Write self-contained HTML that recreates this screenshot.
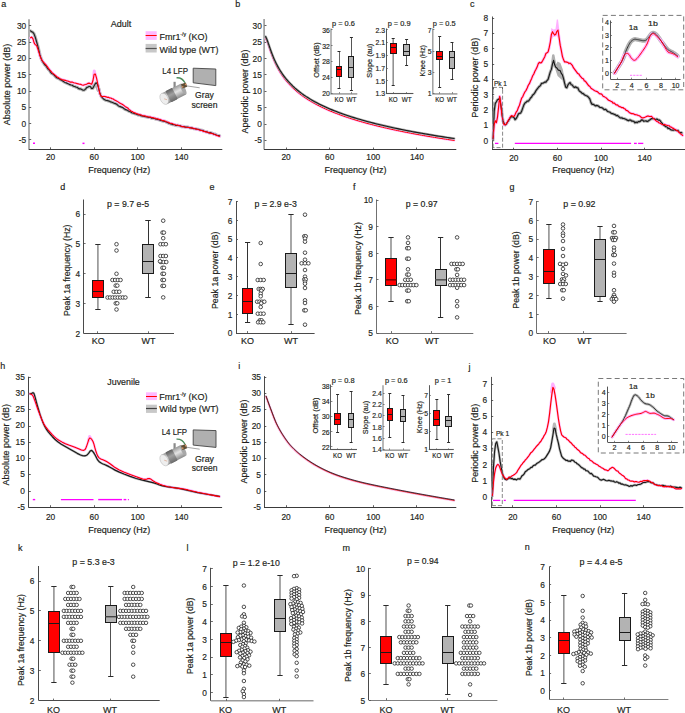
<!DOCTYPE html>
<html><head><meta charset="utf-8"><style>
html,body{margin:0;padding:0;background:#fff;}
svg{display:block;}
text{font-family:"Liberation Sans", sans-serif;stroke:#231f20;stroke-width:0.18px;}
</style></head><body>
<svg width="685" height="713" viewBox="0 0 685 713">
<rect x="0" y="0" width="685" height="713" fill="#fff"/>
<text x="1.3" y="7" font-size="9" text-anchor="start" fill="#231f20" textLength="5" lengthAdjust="spacingAndGlyphs">a</text>
<line x1="29" y1="19.3" x2="29" y2="149.3" stroke="#9a9a9a" stroke-width="1.6"/>
<line x1="29.2" y1="25.5" x2="31.2" y2="25.5" stroke="#3a3a3a" stroke-width="0.8"/>
<text x="26.2" y="28.7" font-size="9.54" text-anchor="end" fill="#231f20" textLength="9.31" lengthAdjust="spacingAndGlyphs">30</text>
<line x1="29.2" y1="42.5" x2="31.2" y2="42.5" stroke="#3a3a3a" stroke-width="0.8"/>
<text x="26.2" y="45" font-size="9.54" text-anchor="end" fill="#231f20" textLength="9.31" lengthAdjust="spacingAndGlyphs">25</text>
<line x1="29.2" y1="58.5" x2="31.2" y2="58.5" stroke="#3a3a3a" stroke-width="0.8"/>
<text x="26.2" y="61.3" font-size="9.54" text-anchor="end" fill="#231f20" textLength="9.31" lengthAdjust="spacingAndGlyphs">20</text>
<line x1="29.2" y1="74.5" x2="31.2" y2="74.5" stroke="#3a3a3a" stroke-width="0.8"/>
<text x="26.2" y="77.6" font-size="9.54" text-anchor="end" fill="#231f20" textLength="9.31" lengthAdjust="spacingAndGlyphs">15</text>
<line x1="29.2" y1="91.5" x2="31.2" y2="91.5" stroke="#3a3a3a" stroke-width="0.8"/>
<text x="26.2" y="93.9" font-size="9.54" text-anchor="end" fill="#231f20" textLength="9.31" lengthAdjust="spacingAndGlyphs">10</text>
<line x1="29.2" y1="107.5" x2="31.2" y2="107.5" stroke="#3a3a3a" stroke-width="0.8"/>
<text x="26.2" y="110.2" font-size="9.54" text-anchor="end" fill="#231f20" textLength="4.65" lengthAdjust="spacingAndGlyphs">5</text>
<line x1="29.2" y1="123.5" x2="31.2" y2="123.5" stroke="#3a3a3a" stroke-width="0.8"/>
<text x="26.2" y="126.5" font-size="9.54" text-anchor="end" fill="#231f20" textLength="4.65" lengthAdjust="spacingAndGlyphs">0</text>
<line x1="29.2" y1="139.5" x2="31.2" y2="139.5" stroke="#3a3a3a" stroke-width="0.8"/>
<text x="26.2" y="142.8" font-size="9.54" text-anchor="end" fill="#231f20" textLength="7.44" lengthAdjust="spacingAndGlyphs">-5</text>
<line x1="28.7" y1="149.5" x2="222.3" y2="149.5" stroke="#3a3a3a" stroke-width="1"/>
<line x1="50.5" y1="149.3" x2="50.5" y2="147.3" stroke="#3a3a3a" stroke-width="0.8"/>
<text x="50.6" y="160.1" font-size="9.54" text-anchor="middle" fill="#231f20" textLength="9.31" lengthAdjust="spacingAndGlyphs">20</text>
<line x1="94.5" y1="149.3" x2="94.5" y2="147.3" stroke="#3a3a3a" stroke-width="0.8"/>
<text x="94.2" y="160.1" font-size="9.54" text-anchor="middle" fill="#231f20" textLength="9.31" lengthAdjust="spacingAndGlyphs">60</text>
<line x1="137.5" y1="149.3" x2="137.5" y2="147.3" stroke="#3a3a3a" stroke-width="0.8"/>
<text x="137.8" y="160.1" font-size="9.54" text-anchor="middle" fill="#231f20" textLength="13.96" lengthAdjust="spacingAndGlyphs">100</text>
<line x1="181.5" y1="149.3" x2="181.5" y2="147.3" stroke="#3a3a3a" stroke-width="0.8"/>
<text x="181.4" y="160.1" font-size="9.54" text-anchor="middle" fill="#231f20" textLength="13.96" lengthAdjust="spacingAndGlyphs">140</text>
<text x="119.2" y="172.6" font-size="9" text-anchor="middle" fill="#231f20" textLength="62.01" lengthAdjust="spacingAndGlyphs">Frequency (Hz)</text>
<text transform="translate(9.6 84.5) rotate(-90)" x="0" y="0" font-size="9" text-anchor="middle" fill="#231f20" textLength="81.54" lengthAdjust="spacingAndGlyphs">Absolute power (dB)</text>
<polyline points="30.3,30.84 31.5,31.62 32.7,32.22 33.9,33.59 35.1,36.67 36.3,40.77 37.5,45.02 38.7,49.53 39.9,54.7 41.1,58.37 42.3,61.25 43.5,62.83 44.7,64.73 45.9,65.77 47.1,67.62 48.3,69.32 49.5,70.44 50.7,72.32 51.9,73.58 53.1,74.17 54.3,75.25 55.5,76.57 56.7,77.72 57.9,78.13 59.1,78.78 60.3,79.65 61.5,80.09 62.7,80.93 63.9,81.78 65.1,82.48 66.3,82.89 67.5,83.44 68.7,83.96 69.9,84.63 71.1,84.99 72.3,85.25 73.5,86.27 74.7,86.53 75.9,87.06 77.1,87.26 78.3,88.4 79.5,88.89 80.7,88.93 81.9,89.59 83.1,90.2 84.3,90.11 85.5,89.14 86.7,87.57 87.9,87.12 89.1,86.45 90.3,86.54 91.5,88.33 92.7,88.43 93.9,86.27 95.1,84.02 96.3,82.77 97.5,84.53 98.7,88.42 99.9,93.32 101.1,96.19 102.3,97.7 103.5,98.96 104.7,99.79 105.9,100.31 107.1,100.5 108.3,100.91 109.5,101.32 110.7,101.92 111.9,102.22 113.1,102.67 114.3,103.32 115.5,103.62 116.7,104.26 117.9,105.37 119.1,106.22 120.3,106.6 121.5,107.11 122.7,107.59 123.9,108.44 125.1,109.39 126.3,109.85 127.5,110.33 128.7,111.21 129.9,111.41 131.1,112.19 132.3,113.03 133.5,113.24 134.7,113.6 135.9,113.87 137.1,114.43 138.3,115.07 139.5,114.72 140.7,115.58 141.9,115.9 143.1,116.24 144.3,116.43 145.5,116.76 146.7,116.84 147.9,117.15 149.1,117.33 150.3,117.35 151.5,118.2 152.7,118.27 153.9,118.31 155.1,118.82 156.3,119.11 157.5,119.33 158.7,119.65 159.9,120.14 161.1,120.56 162.3,120.93 163.5,121.22 164.7,121.32 165.9,121.87 167.1,122.25 168.3,122.95 169.5,123.56 170.7,123.91 171.9,124.29 173.1,124.67 174.3,124.62 175.5,125.35 176.7,125.54 177.9,125.4 179.1,125.61 180.3,125.84 181.5,126.59 182.7,126.45 183.9,126.56 185.1,127.12 186.3,127.13 187.5,127.13 188.7,127.4 189.9,127.86 191.1,127.83 192.3,128.12 193.5,128.67 194.7,128.73 195.9,128.91 197.1,129.28 198.3,129.27 199.5,129.83 200.7,130.18 201.9,130.34 203.1,130.62 204.3,131.51 205.5,131.59 206.7,131.72 207.9,132.35 209.1,132.86 210.3,132.66 211.5,133.02 212.7,133.47 213.9,134.23 215.1,134.21 216.3,134.95 217.5,135.3 218.7,135.56 219.6,135.8" fill="none" stroke="#b5b5b5" stroke-width="3.2" stroke-linejoin="round" stroke-linecap="round"/>
<polyline points="94,86 96.5,84 98.5,90" fill="none" stroke="#b5b5b5" stroke-width="4" stroke-linejoin="round" stroke-linecap="round"/>
<polyline points="30.5,37.77 31.7,37.05 32.9,38.55 34.1,42.83 35.3,44.68 36.5,45.27 37.7,48.51 38.9,52.37 40.1,56.29 41.3,59.13 42.5,61.06 43.7,62.29 44.9,63.74 46.1,65 47.3,66.64 48.5,68.35 49.7,69.89 50.9,71.18 52.1,72.55 53.3,73.72 54.5,74.67 55.7,75.63 56.9,76.76 58.1,77.45 59.3,78.17 60.5,79.07 61.7,79.39 62.9,79.9 64.1,80.12 65.3,80.36 66.5,80.86 67.7,81.05 68.9,81.55 70.1,82.1 71.3,82.16 72.5,82.12 73.7,82.8 74.9,83 76.1,83.24 77.3,83.66 78.5,83.91 79.7,84.28 80.9,84.38 82.1,85.07 83.3,85.26 84.5,84.74 85.7,84.56 86.9,83.98 88.1,83.35 89.3,83.13 90.5,83.7 91.7,84.26 92.9,80.8 94.1,74.38 95.3,73.95 96.5,77.93 97.7,83.7 98.9,89.65 100.1,94.25 101.3,96.39 102.5,96.59 103.7,96.42 104.9,96.52 106.1,96.88 107.3,97.34 108.5,97.26 109.7,97.99 110.9,97.98 112.1,98.83 113.3,99.04 114.5,100.05 115.7,100.57 116.9,101.15 118.1,101.88 119.3,102.7 120.5,103.41 121.7,104 122.9,104.69 124.1,105.64 125.3,106.67 126.5,107.31 127.7,107.92 128.9,109.36 130.1,110.28 131.3,111.29 132.5,111.65 133.7,112.65 134.9,112.81 136.1,113.69 137.3,113.87 138.5,114.25 139.7,114.98 140.9,114.85 142.1,115.4 143.3,115.89 144.5,115.81 145.7,116.06 146.9,116.73 148.1,116.72 149.3,117.15 150.5,117.01 151.7,117.47 152.9,117.62 154.1,118.2 155.3,118.12 156.5,118.95 157.7,118.7 158.9,119.46 160.1,119.39 161.3,119.91 162.5,120.64 163.7,120.65 164.9,121.08 166.1,121.81 167.3,122.06 168.5,122.28 169.7,123.28 170.9,123.18 172.1,123.51 173.3,124.07 174.5,124.59 175.7,125.01 176.9,124.94 178.1,125.36 179.3,125.45 180.5,125.95 181.7,126.38 182.9,126.59 184.1,126.91 185.3,127.04 186.5,127.32 187.7,127.44 188.9,127.52 190.1,127.6 191.3,128.09 192.5,128.13 193.7,128.26 194.9,128.74 196.1,129.28 197.3,129.13 198.5,129.74 199.7,129.95 200.9,130.37 202.1,130.5 203.3,131.35 204.5,131.3 205.7,131.88 206.9,132.14 208.1,132.28 209.3,132.99 210.5,133.13 211.7,133.47 212.9,133.84 214.1,134.31 215.3,134.66 216.5,135.38 217.7,135.7 218.9,136.37 219.6,136.3" fill="none" stroke="#ffb0ff" stroke-width="2.6" stroke-linejoin="round" stroke-linecap="round"/>
<polyline points="93.8,76 94.3,71 95,76" fill="none" stroke="#ffb0ff" stroke-width="3" stroke-linejoin="round" stroke-linecap="round"/>
<polyline points="30.3,30.84 31.5,31.62 32.7,32.22 33.9,33.59 35.1,36.67 36.3,40.77 37.5,45.02 38.7,49.53 39.9,54.7 41.1,58.37 42.3,61.25 43.5,62.83 44.7,64.73 45.9,65.77 47.1,67.62 48.3,69.32 49.5,70.44 50.7,72.32 51.9,73.58 53.1,74.17 54.3,75.25 55.5,76.57 56.7,77.72 57.9,78.13 59.1,78.78 60.3,79.65 61.5,80.09 62.7,80.93 63.9,81.78 65.1,82.48 66.3,82.89 67.5,83.44 68.7,83.96 69.9,84.63 71.1,84.99 72.3,85.25 73.5,86.27 74.7,86.53 75.9,87.06 77.1,87.26 78.3,88.4 79.5,88.89 80.7,88.93 81.9,89.59 83.1,90.2 84.3,90.11 85.5,89.14 86.7,87.57 87.9,87.12 89.1,86.45 90.3,86.54 91.5,88.33 92.7,88.43 93.9,86.27 95.1,84.02 96.3,82.77 97.5,84.53 98.7,88.42 99.9,93.32 101.1,96.19 102.3,97.7 103.5,98.96 104.7,99.79 105.9,100.31 107.1,100.5 108.3,100.91 109.5,101.32 110.7,101.92 111.9,102.22 113.1,102.67 114.3,103.32 115.5,103.62 116.7,104.26 117.9,105.37 119.1,106.22 120.3,106.6 121.5,107.11 122.7,107.59 123.9,108.44 125.1,109.39 126.3,109.85 127.5,110.33 128.7,111.21 129.9,111.41 131.1,112.19 132.3,113.03 133.5,113.24 134.7,113.6 135.9,113.87 137.1,114.43 138.3,115.07 139.5,114.72 140.7,115.58 141.9,115.9 143.1,116.24 144.3,116.43 145.5,116.76 146.7,116.84 147.9,117.15 149.1,117.33 150.3,117.35 151.5,118.2 152.7,118.27 153.9,118.31 155.1,118.82 156.3,119.11 157.5,119.33 158.7,119.65 159.9,120.14 161.1,120.56 162.3,120.93 163.5,121.22 164.7,121.32 165.9,121.87 167.1,122.25 168.3,122.95 169.5,123.56 170.7,123.91 171.9,124.29 173.1,124.67 174.3,124.62 175.5,125.35 176.7,125.54 177.9,125.4 179.1,125.61 180.3,125.84 181.5,126.59 182.7,126.45 183.9,126.56 185.1,127.12 186.3,127.13 187.5,127.13 188.7,127.4 189.9,127.86 191.1,127.83 192.3,128.12 193.5,128.67 194.7,128.73 195.9,128.91 197.1,129.28 198.3,129.27 199.5,129.83 200.7,130.18 201.9,130.34 203.1,130.62 204.3,131.51 205.5,131.59 206.7,131.72 207.9,132.35 209.1,132.86 210.3,132.66 211.5,133.02 212.7,133.47 213.9,134.23 215.1,134.21 216.3,134.95 217.5,135.3 218.7,135.56 219.6,135.8" fill="none" stroke="#222" stroke-width="1.15" stroke-linejoin="round" stroke-linecap="round"/>
<polyline points="30.5,37.77 31.7,37.05 32.9,38.55 34.1,42.83 35.3,44.68 36.5,45.27 37.7,48.51 38.9,52.37 40.1,56.29 41.3,59.13 42.5,61.06 43.7,62.29 44.9,63.74 46.1,65 47.3,66.64 48.5,68.35 49.7,69.89 50.9,71.18 52.1,72.55 53.3,73.72 54.5,74.67 55.7,75.63 56.9,76.76 58.1,77.45 59.3,78.17 60.5,79.07 61.7,79.39 62.9,79.9 64.1,80.12 65.3,80.36 66.5,80.86 67.7,81.05 68.9,81.55 70.1,82.1 71.3,82.16 72.5,82.12 73.7,82.8 74.9,83 76.1,83.24 77.3,83.66 78.5,83.91 79.7,84.28 80.9,84.38 82.1,85.07 83.3,85.26 84.5,84.74 85.7,84.56 86.9,83.98 88.1,83.35 89.3,83.13 90.5,83.7 91.7,84.26 92.9,80.8 94.1,74.38 95.3,73.95 96.5,77.93 97.7,83.7 98.9,89.65 100.1,94.25 101.3,96.39 102.5,96.59 103.7,96.42 104.9,96.52 106.1,96.88 107.3,97.34 108.5,97.26 109.7,97.99 110.9,97.98 112.1,98.83 113.3,99.04 114.5,100.05 115.7,100.57 116.9,101.15 118.1,101.88 119.3,102.7 120.5,103.41 121.7,104 122.9,104.69 124.1,105.64 125.3,106.67 126.5,107.31 127.7,107.92 128.9,109.36 130.1,110.28 131.3,111.29 132.5,111.65 133.7,112.65 134.9,112.81 136.1,113.69 137.3,113.87 138.5,114.25 139.7,114.98 140.9,114.85 142.1,115.4 143.3,115.89 144.5,115.81 145.7,116.06 146.9,116.73 148.1,116.72 149.3,117.15 150.5,117.01 151.7,117.47 152.9,117.62 154.1,118.2 155.3,118.12 156.5,118.95 157.7,118.7 158.9,119.46 160.1,119.39 161.3,119.91 162.5,120.64 163.7,120.65 164.9,121.08 166.1,121.81 167.3,122.06 168.5,122.28 169.7,123.28 170.9,123.18 172.1,123.51 173.3,124.07 174.5,124.59 175.7,125.01 176.9,124.94 178.1,125.36 179.3,125.45 180.5,125.95 181.7,126.38 182.9,126.59 184.1,126.91 185.3,127.04 186.5,127.32 187.7,127.44 188.9,127.52 190.1,127.6 191.3,128.09 192.5,128.13 193.7,128.26 194.9,128.74 196.1,129.28 197.3,129.13 198.5,129.74 199.7,129.95 200.9,130.37 202.1,130.5 203.3,131.35 204.5,131.3 205.7,131.88 206.9,132.14 208.1,132.28 209.3,132.99 210.5,133.13 211.7,133.47 212.9,133.84 214.1,134.31 215.3,134.66 216.5,135.38 217.7,135.7 218.9,136.37 219.6,136.3" fill="none" stroke="#ff0000" stroke-width="1.1" stroke-linejoin="round" stroke-linecap="round"/>
<rect x="33" y="142.5" width="2" height="1.5" fill="#ff00ff" stroke="none" stroke-width="1"/>
<rect x="82.5" y="142.6" width="2" height="1.5" fill="#ff00ff" stroke="none" stroke-width="1"/>
<text x="110.8" y="27" font-size="9" text-anchor="start" fill="#231f20" textLength="20.51" lengthAdjust="spacingAndGlyphs">Adult</text>
<rect x="145.6" y="31.2" width="11.1" height="8.7" fill="#ffb8ff" stroke="none" stroke-width="1"/>
<line x1="145.6" y1="35.5" x2="156.7" y2="35.5" stroke="#ff0000" stroke-width="1"/>
<rect x="145.6" y="43.9" width="11.1" height="8.6" fill="#c8c8c8" stroke="none" stroke-width="1"/>
<line x1="145.6" y1="48.5" x2="156.7" y2="48.5" stroke="#555" stroke-width="1.2"/>
<text x="159.6" y="39.5" font-size="9" text-anchor="start" fill="#231f20" textLength="21" lengthAdjust="spacingAndGlyphs">Fmr1</text>
<text x="180.3" y="36.2" font-size="5.2" text-anchor="start" fill="#231f20" textLength="5.78" lengthAdjust="spacingAndGlyphs">-/y</text>
<text x="188.6" y="39.5" font-size="9" text-anchor="start" fill="#231f20" textLength="19" lengthAdjust="spacingAndGlyphs">(KO)</text>
<text x="159.6" y="52.5" font-size="9" text-anchor="start" fill="#231f20" textLength="58.8" lengthAdjust="spacingAndGlyphs">Wild type (WT)</text>
<text x="162.3" y="73.5" font-size="9" text-anchor="start" fill="#231f20" textLength="25.7" lengthAdjust="spacingAndGlyphs">L4 LFP</text>
<path d="M193.2 68.2 L215.8 69 L215.8 85.6 L193.2 82.8 Z" fill="#b0b0b0" stroke="#444" stroke-width="0.9"/>
<text x="204.4" y="98" font-size="9" text-anchor="middle" fill="#231f20" textLength="18.7" lengthAdjust="spacingAndGlyphs">Gray</text>
<text x="204.5" y="107.9" font-size="9" text-anchor="middle" fill="#231f20" textLength="26" lengthAdjust="spacingAndGlyphs">screen</text>
<defs><linearGradient id="cyla" x1="0" y1="0" x2="0" y2="1"><stop offset="0" stop-color="#9a9a9a"/><stop offset="0.45" stop-color="#e4e4e4"/><stop offset="1" stop-color="#8a8a8a"/></linearGradient><linearGradient id="cylba" x1="0" y1="0" x2="0" y2="1"><stop offset="0" stop-color="#606060"/><stop offset="0.45" stop-color="#a0a0a0"/><stop offset="1" stop-color="#6a6a6a"/></linearGradient></defs>
<rect x="173.5" y="81.8" width="2.2" height="8" fill="#8a8a8a"/>
<path d="M176.5 77.8 q5.5 -0.5 8.5 5" stroke="#4a8a5a" stroke-width="1.3" fill="none"/>
<g transform="translate(164.2 98.8) rotate(-27)">
<rect x="0" y="-6" width="21.5" height="12" fill="url(#cyla)"/>
<rect x="4.5" y="-6.3" width="7.5" height="12.6" rx="1" fill="url(#cylba)"/>
<ellipse cx="21.5" cy="0" rx="2" ry="6" fill="#a8a8a8"/>
<ellipse cx="0" cy="0" rx="3.8" ry="6" fill="#eeeeee" stroke="#b8b8b8" stroke-width="0.5"/>
<line x1="0" y1="0" x2="2.2" y2="2.2" stroke="#d09070" stroke-width="0.5"/>
</g>
<rect x="181.7" y="83.3" width="5" height="4.5" fill="#5e4e36" transform="rotate(-20 184.2 85.8)"/>
<circle cx="182.7" cy="86.8" r="0.9" fill="#d09060"/>
<circle cx="185.7" cy="84.3" r="0.9" fill="#d09060"/>
<line x1="186.2" y1="85.8" x2="199.7" y2="87.8" stroke="#666" stroke-width="0.6"/>
<text x="235.2" y="6.6" font-size="9" text-anchor="start" fill="#231f20" textLength="5" lengthAdjust="spacingAndGlyphs">b</text>
<line x1="264.1" y1="19" x2="264.1" y2="149.5" stroke="#9a9a9a" stroke-width="1.6"/>
<line x1="264.5" y1="25.5" x2="266.5" y2="25.5" stroke="#3a3a3a" stroke-width="0.8"/>
<text x="261.9" y="28.8" font-size="9.54" text-anchor="end" fill="#231f20" textLength="9.31" lengthAdjust="spacingAndGlyphs">30</text>
<line x1="264.5" y1="42.5" x2="266.5" y2="42.5" stroke="#3a3a3a" stroke-width="0.8"/>
<text x="261.9" y="45.15" font-size="9.54" text-anchor="end" fill="#231f20" textLength="9.31" lengthAdjust="spacingAndGlyphs">25</text>
<line x1="264.5" y1="58.5" x2="266.5" y2="58.5" stroke="#3a3a3a" stroke-width="0.8"/>
<text x="261.9" y="61.5" font-size="9.54" text-anchor="end" fill="#231f20" textLength="9.31" lengthAdjust="spacingAndGlyphs">20</text>
<line x1="264.5" y1="74.5" x2="266.5" y2="74.5" stroke="#3a3a3a" stroke-width="0.8"/>
<text x="261.9" y="77.85" font-size="9.54" text-anchor="end" fill="#231f20" textLength="9.31" lengthAdjust="spacingAndGlyphs">15</text>
<line x1="264.5" y1="91.5" x2="266.5" y2="91.5" stroke="#3a3a3a" stroke-width="0.8"/>
<text x="261.9" y="94.2" font-size="9.54" text-anchor="end" fill="#231f20" textLength="9.31" lengthAdjust="spacingAndGlyphs">10</text>
<line x1="264.5" y1="107.5" x2="266.5" y2="107.5" stroke="#3a3a3a" stroke-width="0.8"/>
<text x="261.9" y="110.55" font-size="9.54" text-anchor="end" fill="#231f20" textLength="4.65" lengthAdjust="spacingAndGlyphs">5</text>
<line x1="264.5" y1="124.5" x2="266.5" y2="124.5" stroke="#3a3a3a" stroke-width="0.8"/>
<text x="261.9" y="126.9" font-size="9.54" text-anchor="end" fill="#231f20" textLength="4.65" lengthAdjust="spacingAndGlyphs">0</text>
<line x1="264.5" y1="140.5" x2="266.5" y2="140.5" stroke="#3a3a3a" stroke-width="0.8"/>
<text x="261.9" y="143.25" font-size="9.54" text-anchor="end" fill="#231f20" textLength="7.44" lengthAdjust="spacingAndGlyphs">-5</text>
<line x1="264" y1="149.5" x2="456.3" y2="149.5" stroke="#3a3a3a" stroke-width="1"/>
<line x1="286.5" y1="149.5" x2="286.5" y2="147.5" stroke="#3a3a3a" stroke-width="0.8"/>
<text x="286.1" y="160.3" font-size="9.54" text-anchor="middle" fill="#231f20" textLength="9.31" lengthAdjust="spacingAndGlyphs">20</text>
<line x1="329.5" y1="149.5" x2="329.5" y2="147.5" stroke="#3a3a3a" stroke-width="0.8"/>
<text x="329.7" y="160.3" font-size="9.54" text-anchor="middle" fill="#231f20" textLength="9.31" lengthAdjust="spacingAndGlyphs">60</text>
<line x1="373.5" y1="149.5" x2="373.5" y2="147.5" stroke="#3a3a3a" stroke-width="0.8"/>
<text x="373.3" y="160.3" font-size="9.54" text-anchor="middle" fill="#231f20" textLength="13.96" lengthAdjust="spacingAndGlyphs">100</text>
<line x1="416.5" y1="149.5" x2="416.5" y2="147.5" stroke="#3a3a3a" stroke-width="0.8"/>
<text x="416.9" y="160.3" font-size="9.54" text-anchor="middle" fill="#231f20" textLength="13.96" lengthAdjust="spacingAndGlyphs">140</text>
<text x="355.6" y="172.6" font-size="9" text-anchor="middle" fill="#231f20" textLength="62.01" lengthAdjust="spacingAndGlyphs">Frequency (Hz)</text>
<text transform="translate(247.8 91.5) rotate(-90)" x="0" y="0" font-size="9" text-anchor="middle" fill="#231f20" textLength="84.03" lengthAdjust="spacingAndGlyphs">Aperiodic power (dB)</text>
<polyline points="265.61,38.53 266.15,39.53 266.7,40.76 267.24,42.15 267.79,43.66 268.33,45.23 268.88,46.83 269.42,48.44 269.97,50.03 270.51,51.59 271.06,53.11 271.6,54.6 272.15,56.03 272.69,57.42 273.24,58.77 273.78,60.07 274.33,61.33 274.87,62.54 275.42,63.71 275.96,64.84 276.51,65.94 277.05,67 277.6,68.03 278.14,69.02 278.69,69.99 279.23,70.92 279.78,71.83 280.32,72.71 280.87,73.57 281.41,74.4 281.96,75.21 282.5,76 283.05,76.77 283.59,77.52 284.14,78.26 284.68,78.97 285.23,79.67 285.77,80.35 286.32,81.02 288.5,83.54 290.68,85.86 292.86,88 295.04,90 297.22,91.87 299.4,93.62 301.58,95.27 303.76,96.83 305.94,98.31 308.12,99.71 310.3,101.05 312.48,102.33 314.66,103.55 316.84,104.72 319.02,105.85 321.2,106.93 323.38,107.97 325.56,108.97 327.74,109.94 329.92,110.88 332.1,111.78 334.28,112.66 336.46,113.51 338.64,114.34 340.82,115.14 343,115.92 345.18,116.68 347.36,117.42 349.54,118.14 351.72,118.84 353.9,119.53 356.08,120.2 358.26,120.85 360.44,121.49 362.62,122.11 364.8,122.72 366.98,123.32 369.16,123.9 371.34,124.48 373.52,125.04 375.7,125.59 377.88,126.13 380.06,126.66 382.24,127.18 384.42,127.69 386.6,128.19 388.78,128.68 390.96,129.16 393.14,129.64 395.32,130.1 397.5,130.56 399.68,131.02 401.86,131.46 404.04,131.9 406.22,132.33 408.4,132.75 410.58,133.17 412.76,133.59 414.94,133.99 417.12,134.39 419.3,134.79 421.48,135.18 423.66,135.56 425.84,135.94 428.02,136.31 430.2,136.68 432.38,137.04 434.56,137.4 436.74,137.76 438.92,138.11 441.1,138.45 443.28,138.79 445.46,139.13 447.64,139.47 449.82,139.8 452,140.12 454.18,140.44" fill="none" stroke="#ffb0ff" stroke-width="2.2" stroke-linejoin="round" stroke-linecap="round"/>
<polyline points="265.61,38.53 266.15,39.53 266.7,40.76 267.24,42.15 267.79,43.66 268.33,45.23 268.88,46.83 269.42,48.44 269.97,50.03 270.51,51.59 271.06,53.11 271.6,54.6 272.15,56.03 272.69,57.42 273.24,58.77 273.78,60.07 274.33,61.33 274.87,62.54 275.42,63.71 275.96,64.84 276.51,65.94 277.05,67 277.6,68.03 278.14,69.02 278.69,69.99 279.23,70.92 279.78,71.83 280.32,72.71 280.87,73.57 281.41,74.4 281.96,75.21 282.5,76 283.05,76.77 283.59,77.52 284.14,78.26 284.68,78.97 285.23,79.67 285.77,80.35 286.32,81.02 288.5,83.54 290.68,85.86 292.86,88 295.04,90 297.22,91.87 299.4,93.62 301.58,95.27 303.76,96.83 305.94,98.31 308.12,99.71 310.3,101.05 312.48,102.33 314.66,103.55 316.84,104.72 319.02,105.85 321.2,106.93 323.38,107.97 325.56,108.97 327.74,109.94 329.92,110.88 332.1,111.78 334.28,112.66 336.46,113.51 338.64,114.34 340.82,115.14 343,115.92 345.18,116.68 347.36,117.42 349.54,118.14 351.72,118.84 353.9,119.53 356.08,120.2 358.26,120.85 360.44,121.49 362.62,122.11 364.8,122.72 366.98,123.32 369.16,123.9 371.34,124.48 373.52,125.04 375.7,125.59 377.88,126.13 380.06,126.66 382.24,127.18 384.42,127.69 386.6,128.19 388.78,128.68 390.96,129.16 393.14,129.64 395.32,130.1 397.5,130.56 399.68,131.02 401.86,131.46 404.04,131.9 406.22,132.33 408.4,132.75 410.58,133.17 412.76,133.59 414.94,133.99 417.12,134.39 419.3,134.79 421.48,135.18 423.66,135.56 425.84,135.94 428.02,136.31 430.2,136.68 432.38,137.04 434.56,137.4 436.74,137.76 438.92,138.11 441.1,138.45 443.28,138.79 445.46,139.13 447.64,139.47 449.82,139.8 452,140.12 454.18,140.44" fill="none" stroke="#ff0000" stroke-width="1" stroke-linejoin="round" stroke-linecap="round"/>
<polyline points="265.61,36.63 266.15,37.63 266.7,38.86 267.24,40.25 267.79,41.76 268.33,43.33 268.88,44.93 269.42,46.54 269.97,48.13 270.51,49.69 271.06,51.21 271.6,52.7 272.15,54.13 272.69,55.52 273.24,56.87 273.78,58.17 274.33,59.43 274.87,60.64 275.42,61.81 275.96,62.94 276.51,64.04 277.05,65.1 277.6,66.13 278.14,67.12 278.69,68.09 279.23,69.02 279.78,69.93 280.32,70.81 280.87,71.67 281.41,72.5 281.96,73.31 282.5,74.1 283.05,74.87 283.59,75.62 284.14,76.36 284.68,77.07 285.23,77.77 285.77,78.45 286.32,79.12 288.5,81.64 290.68,83.96 292.86,86.1 295.04,88.1 297.22,89.97 299.4,91.72 301.58,93.37 303.76,94.93 305.94,96.41 308.12,97.81 310.3,99.15 312.48,100.43 314.66,101.65 316.84,102.82 319.02,103.95 321.2,105.03 323.38,106.07 325.56,107.07 327.74,108.04 329.92,108.98 332.1,109.88 334.28,110.76 336.46,111.61 338.64,112.44 340.82,113.24 343,114.02 345.18,114.78 347.36,115.52 349.54,116.24 351.72,116.94 353.9,117.63 356.08,118.3 358.26,118.95 360.44,119.59 362.62,120.21 364.8,120.82 366.98,121.42 369.16,122 371.34,122.58 373.52,123.14 375.7,123.69 377.88,124.23 380.06,124.76 382.24,125.28 384.42,125.79 386.6,126.29 388.78,126.78 390.96,127.26 393.14,127.74 395.32,128.2 397.5,128.66 399.68,129.12 401.86,129.56 404.04,130 406.22,130.43 408.4,130.85 410.58,131.27 412.76,131.69 414.94,132.09 417.12,132.49 419.3,132.89 421.48,133.28 423.66,133.66 425.84,134.04 428.02,134.41 430.2,134.78 432.38,135.14 434.56,135.5 436.74,135.86 438.92,136.21 441.1,136.55 443.28,136.89 445.46,137.23 447.64,137.57 449.82,137.9 452,138.22 454.18,138.54" fill="none" stroke="#a8a8a8" stroke-width="2.4" stroke-linejoin="round" stroke-linecap="round"/>
<polyline points="265.61,36.63 266.15,37.63 266.7,38.86 267.24,40.25 267.79,41.76 268.33,43.33 268.88,44.93 269.42,46.54 269.97,48.13 270.51,49.69 271.06,51.21 271.6,52.7 272.15,54.13 272.69,55.52 273.24,56.87 273.78,58.17 274.33,59.43 274.87,60.64 275.42,61.81 275.96,62.94 276.51,64.04 277.05,65.1 277.6,66.13 278.14,67.12 278.69,68.09 279.23,69.02 279.78,69.93 280.32,70.81 280.87,71.67 281.41,72.5 281.96,73.31 282.5,74.1 283.05,74.87 283.59,75.62 284.14,76.36 284.68,77.07 285.23,77.77 285.77,78.45 286.32,79.12 288.5,81.64 290.68,83.96 292.86,86.1 295.04,88.1 297.22,89.97 299.4,91.72 301.58,93.37 303.76,94.93 305.94,96.41 308.12,97.81 310.3,99.15 312.48,100.43 314.66,101.65 316.84,102.82 319.02,103.95 321.2,105.03 323.38,106.07 325.56,107.07 327.74,108.04 329.92,108.98 332.1,109.88 334.28,110.76 336.46,111.61 338.64,112.44 340.82,113.24 343,114.02 345.18,114.78 347.36,115.52 349.54,116.24 351.72,116.94 353.9,117.63 356.08,118.3 358.26,118.95 360.44,119.59 362.62,120.21 364.8,120.82 366.98,121.42 369.16,122 371.34,122.58 373.52,123.14 375.7,123.69 377.88,124.23 380.06,124.76 382.24,125.28 384.42,125.79 386.6,126.29 388.78,126.78 390.96,127.26 393.14,127.74 395.32,128.2 397.5,128.66 399.68,129.12 401.86,129.56 404.04,130 406.22,130.43 408.4,130.85 410.58,131.27 412.76,131.69 414.94,132.09 417.12,132.49 419.3,132.89 421.48,133.28 423.66,133.66 425.84,134.04 428.02,134.41 430.2,134.78 432.38,135.14 434.56,135.5 436.74,135.86 438.92,136.21 441.1,136.55 443.28,136.89 445.46,137.23 447.64,137.57 449.82,137.9 452,138.22 454.18,138.54" fill="none" stroke="#1a1a1a" stroke-width="1.1" stroke-linejoin="round" stroke-linecap="round"/>
<line x1="331" y1="28.5" x2="331" y2="93.6" stroke="#9a9a9a" stroke-width="1.4"/>
<line x1="330.3" y1="93.9" x2="357.3" y2="93.9" stroke="#9a9a9a" stroke-width="1.5"/>
<line x1="331" y1="29.5" x2="332.6" y2="29.5" stroke="#555" stroke-width="0.7"/>
<text x="329.8" y="32.6" font-size="7.84" text-anchor="end" fill="#231f20" textLength="7.65" lengthAdjust="spacingAndGlyphs">36</text>
<line x1="331" y1="45.5" x2="332.6" y2="45.5" stroke="#555" stroke-width="0.7"/>
<text x="329.8" y="48.5" font-size="7.84" text-anchor="end" fill="#231f20" textLength="7.65" lengthAdjust="spacingAndGlyphs">32</text>
<line x1="331" y1="61.5" x2="332.6" y2="61.5" stroke="#555" stroke-width="0.7"/>
<text x="329.8" y="64.4" font-size="7.84" text-anchor="end" fill="#231f20" textLength="7.65" lengthAdjust="spacingAndGlyphs">28</text>
<line x1="331" y1="77.5" x2="332.6" y2="77.5" stroke="#555" stroke-width="0.7"/>
<text x="329.8" y="80.4" font-size="7.84" text-anchor="end" fill="#231f20" textLength="7.65" lengthAdjust="spacingAndGlyphs">24</text>
<line x1="331" y1="93.5" x2="332.6" y2="93.5" stroke="#555" stroke-width="0.7"/>
<text x="329.8" y="96.3" font-size="7.84" text-anchor="end" fill="#231f20" textLength="7.65" lengthAdjust="spacingAndGlyphs">20</text>
<line x1="339.5" y1="93.6" x2="339.5" y2="92.1" stroke="#555" stroke-width="0.7"/>
<line x1="351.5" y1="93.6" x2="351.5" y2="92.1" stroke="#555" stroke-width="0.7"/>
<text x="339" y="101.5" font-size="7.4" text-anchor="middle" fill="#231f20" textLength="9" lengthAdjust="spacingAndGlyphs">KO</text>
<text x="351.4" y="101.5" font-size="7.4" text-anchor="middle" fill="#231f20" textLength="9.9" lengthAdjust="spacingAndGlyphs">WT</text>
<text transform="translate(318.9 60) rotate(-90)" x="0" y="0" font-size="7.4" text-anchor="middle" fill="#231f20" textLength="35.5" lengthAdjust="spacingAndGlyphs">Offset (dB)</text>
<text x="332" y="25.9" font-size="7.4" text-anchor="start" fill="#231f20" textLength="22.83" lengthAdjust="spacingAndGlyphs">p = 0.6</text>
<line x1="339.5" y1="51.3" x2="339.5" y2="66.3" stroke="#666" stroke-width="1"/>
<line x1="339.5" y1="76.2" x2="339.5" y2="88.3" stroke="#666" stroke-width="1"/>
<line x1="337.5" y1="51.5" x2="340.5" y2="51.5" stroke="#2a2a2a" stroke-width="1"/>
<line x1="337.5" y1="88.5" x2="340.5" y2="88.5" stroke="#2a2a2a" stroke-width="1"/>
<rect x="336.5" y="66.5" width="5" height="10" fill="#ff0000" stroke="#1a1a1a" stroke-width="1"/>
<line x1="336.25" y1="69.5" x2="341.75" y2="69.5" stroke="#1a1a1a" stroke-width="1"/>
<line x1="351.5" y1="37.1" x2="351.5" y2="56.1" stroke="#555" stroke-width="1"/>
<line x1="351.5" y1="77.4" x2="351.5" y2="90.3" stroke="#555" stroke-width="1"/>
<line x1="349.9" y1="37.5" x2="352.9" y2="37.5" stroke="#2a2a2a" stroke-width="1"/>
<line x1="349.9" y1="90.5" x2="352.9" y2="90.5" stroke="#2a2a2a" stroke-width="1"/>
<rect x="348.5" y="56.5" width="5" height="21" fill="#b3b3b3" stroke="#1a1a1a" stroke-width="1"/>
<line x1="348.8" y1="67.5" x2="354" y2="67.5" stroke="#1a1a1a" stroke-width="1"/>
<line x1="386.5" y1="28.5" x2="386.5" y2="93.6" stroke="#555" stroke-width="1"/>
<line x1="385.8" y1="93.5" x2="413.4" y2="93.5" stroke="#555" stroke-width="1.1"/>
<line x1="386.3" y1="29.5" x2="387.9" y2="29.5" stroke="#555" stroke-width="0.7"/>
<text x="385.1" y="32.6" font-size="7.84" text-anchor="end" fill="#231f20" textLength="9.57" lengthAdjust="spacingAndGlyphs">2.3</text>
<line x1="386.3" y1="42.5" x2="387.9" y2="42.5" stroke="#555" stroke-width="0.7"/>
<text x="385.1" y="45.3" font-size="7.84" text-anchor="end" fill="#231f20" textLength="9.57" lengthAdjust="spacingAndGlyphs">2.1</text>
<line x1="386.3" y1="55.5" x2="387.9" y2="55.5" stroke="#555" stroke-width="0.7"/>
<text x="385.1" y="58.1" font-size="7.84" text-anchor="end" fill="#231f20" textLength="9.57" lengthAdjust="spacingAndGlyphs">1.9</text>
<line x1="386.3" y1="68.5" x2="387.9" y2="68.5" stroke="#555" stroke-width="0.7"/>
<text x="385.1" y="70.8" font-size="7.84" text-anchor="end" fill="#231f20" textLength="9.57" lengthAdjust="spacingAndGlyphs">1.7</text>
<line x1="386.3" y1="80.5" x2="387.9" y2="80.5" stroke="#555" stroke-width="0.7"/>
<text x="385.1" y="83.6" font-size="7.84" text-anchor="end" fill="#231f20" textLength="9.57" lengthAdjust="spacingAndGlyphs">1.5</text>
<line x1="386.3" y1="93.5" x2="387.9" y2="93.5" stroke="#555" stroke-width="0.7"/>
<text x="385.1" y="96.3" font-size="7.84" text-anchor="end" fill="#231f20" textLength="9.57" lengthAdjust="spacingAndGlyphs">1.3</text>
<line x1="393.5" y1="93.6" x2="393.5" y2="92.1" stroke="#555" stroke-width="0.7"/>
<line x1="406.5" y1="93.6" x2="406.5" y2="92.1" stroke="#555" stroke-width="0.7"/>
<text x="393.2" y="101.5" font-size="7.4" text-anchor="middle" fill="#231f20" textLength="9" lengthAdjust="spacingAndGlyphs">KO</text>
<text x="406.6" y="101.5" font-size="7.4" text-anchor="middle" fill="#231f20" textLength="9.9" lengthAdjust="spacingAndGlyphs">WT</text>
<text transform="translate(371.8 60.7) rotate(-90)" x="0" y="0" font-size="7.4" text-anchor="middle" fill="#231f20" textLength="34" lengthAdjust="spacingAndGlyphs">Slope (au)</text>
<text x="387.7" y="25.9" font-size="7.4" text-anchor="start" fill="#231f20" textLength="22.83" lengthAdjust="spacingAndGlyphs">p = 0.9</text>
<line x1="393.2" y1="38.4" x2="393.2" y2="43" stroke="#929292" stroke-width="1.6"/>
<line x1="393.2" y1="53.9" x2="393.2" y2="85.7" stroke="#929292" stroke-width="1.6"/>
<line x1="391.7" y1="38.5" x2="394.7" y2="38.5" stroke="#2a2a2a" stroke-width="1"/>
<line x1="391.7" y1="85.5" x2="394.7" y2="85.5" stroke="#2a2a2a" stroke-width="1"/>
<rect x="390.5" y="43.5" width="6" height="10" fill="#ff0000" stroke="#1a1a1a" stroke-width="1"/>
<line x1="390.4" y1="47.5" x2="396" y2="47.5" stroke="#1a1a1a" stroke-width="1"/>
<line x1="406.5" y1="39.4" x2="406.5" y2="44.7" stroke="#555" stroke-width="1"/>
<line x1="406.5" y1="55.2" x2="406.5" y2="65.3" stroke="#555" stroke-width="1"/>
<line x1="405.1" y1="39.5" x2="408.1" y2="39.5" stroke="#2a2a2a" stroke-width="1"/>
<line x1="405.1" y1="65.5" x2="408.1" y2="65.5" stroke="#2a2a2a" stroke-width="1"/>
<rect x="403.5" y="44.5" width="6" height="11" fill="#b3b3b3" stroke="#1a1a1a" stroke-width="1"/>
<line x1="403.8" y1="51.5" x2="409.4" y2="51.5" stroke="#1a1a1a" stroke-width="1"/>
<line x1="432.8" y1="28.5" x2="432.8" y2="93.6" stroke="#9a9a9a" stroke-width="1.4"/>
<line x1="432.1" y1="93.9" x2="457.4" y2="93.9" stroke="#9a9a9a" stroke-width="1.5"/>
<line x1="432.8" y1="29.5" x2="434.4" y2="29.5" stroke="#555" stroke-width="0.7"/>
<text x="431.6" y="32.6" font-size="7.84" text-anchor="end" fill="#231f20" textLength="3.83" lengthAdjust="spacingAndGlyphs">7</text>
<line x1="432.8" y1="51.5" x2="434.4" y2="51.5" stroke="#555" stroke-width="0.7"/>
<text x="431.6" y="53.8" font-size="7.84" text-anchor="end" fill="#231f20" textLength="3.83" lengthAdjust="spacingAndGlyphs">5</text>
<line x1="432.8" y1="72.5" x2="434.4" y2="72.5" stroke="#555" stroke-width="0.7"/>
<text x="431.6" y="75.1" font-size="7.84" text-anchor="end" fill="#231f20" textLength="3.83" lengthAdjust="spacingAndGlyphs">3</text>
<line x1="432.8" y1="93.5" x2="434.4" y2="93.5" stroke="#555" stroke-width="0.7"/>
<text x="431.6" y="96.3" font-size="7.84" text-anchor="end" fill="#231f20" textLength="3.83" lengthAdjust="spacingAndGlyphs">1</text>
<line x1="439.5" y1="93.6" x2="439.5" y2="92.1" stroke="#555" stroke-width="0.7"/>
<line x1="452.5" y1="93.6" x2="452.5" y2="92.1" stroke="#555" stroke-width="0.7"/>
<text x="439.7" y="101.5" font-size="7.4" text-anchor="middle" fill="#231f20" textLength="9" lengthAdjust="spacingAndGlyphs">KO</text>
<text x="452" y="101.5" font-size="7.4" text-anchor="middle" fill="#231f20" textLength="9.9" lengthAdjust="spacingAndGlyphs">WT</text>
<text transform="translate(425.3 60.8) rotate(-90)" x="0" y="0" font-size="7.4" text-anchor="middle" fill="#231f20" textLength="31.5" lengthAdjust="spacingAndGlyphs">Knee (Hz)</text>
<text x="432.8" y="25.9" font-size="7.4" text-anchor="start" fill="#231f20" textLength="22.83" lengthAdjust="spacingAndGlyphs">p = 0.5</text>
<line x1="439.5" y1="36.4" x2="439.5" y2="51.1" stroke="#444" stroke-width="1"/>
<line x1="439.5" y1="59" x2="439.5" y2="87.7" stroke="#444" stroke-width="1"/>
<line x1="438.2" y1="36.5" x2="441.2" y2="36.5" stroke="#2a2a2a" stroke-width="1"/>
<line x1="438.2" y1="87.5" x2="441.2" y2="87.5" stroke="#2a2a2a" stroke-width="1"/>
<rect x="436.5" y="51.5" width="6" height="8" fill="#ff0000" stroke="#1a1a1a" stroke-width="1"/>
<line x1="436.95" y1="56.5" x2="442.45" y2="56.5" stroke="#1a1a1a" stroke-width="1"/>
<line x1="452.5" y1="42.6" x2="452.5" y2="51.1" stroke="#444" stroke-width="1"/>
<line x1="452.5" y1="68" x2="452.5" y2="79.4" stroke="#444" stroke-width="1"/>
<line x1="450.5" y1="42.5" x2="453.5" y2="42.5" stroke="#2a2a2a" stroke-width="1"/>
<line x1="450.5" y1="79.5" x2="453.5" y2="79.5" stroke="#2a2a2a" stroke-width="1"/>
<rect x="449.5" y="51.5" width="5" height="17" fill="#b3b3b3" stroke="#1a1a1a" stroke-width="1"/>
<line x1="449.25" y1="57.5" x2="454.75" y2="57.5" stroke="#1a1a1a" stroke-width="1"/>
<text x="470.1" y="7.2" font-size="9" text-anchor="start" fill="#231f20" textLength="4.5" lengthAdjust="spacingAndGlyphs">c</text>
<line x1="492.5" y1="16.5" x2="492.5" y2="149.7" stroke="#555" stroke-width="1"/>
<line x1="492.2" y1="18.5" x2="494.2" y2="18.5" stroke="#3a3a3a" stroke-width="0.8"/>
<text x="488.2" y="20.96" font-size="9.54" text-anchor="end" fill="#231f20" textLength="4.65" lengthAdjust="spacingAndGlyphs">8</text>
<line x1="492.2" y1="33.5" x2="494.2" y2="33.5" stroke="#3a3a3a" stroke-width="0.8"/>
<text x="488.2" y="36.29" font-size="9.54" text-anchor="end" fill="#231f20" textLength="4.65" lengthAdjust="spacingAndGlyphs">7</text>
<line x1="492.2" y1="48.5" x2="494.2" y2="48.5" stroke="#3a3a3a" stroke-width="0.8"/>
<text x="488.2" y="51.62" font-size="9.54" text-anchor="end" fill="#231f20" textLength="4.65" lengthAdjust="spacingAndGlyphs">6</text>
<line x1="492.2" y1="64.5" x2="494.2" y2="64.5" stroke="#3a3a3a" stroke-width="0.8"/>
<text x="488.2" y="66.95" font-size="9.54" text-anchor="end" fill="#231f20" textLength="4.65" lengthAdjust="spacingAndGlyphs">5</text>
<line x1="492.2" y1="79.5" x2="494.2" y2="79.5" stroke="#3a3a3a" stroke-width="0.8"/>
<text x="488.2" y="82.28" font-size="9.54" text-anchor="end" fill="#231f20" textLength="4.65" lengthAdjust="spacingAndGlyphs">4</text>
<line x1="492.2" y1="94.5" x2="494.2" y2="94.5" stroke="#3a3a3a" stroke-width="0.8"/>
<text x="488.2" y="97.61" font-size="9.54" text-anchor="end" fill="#231f20" textLength="4.65" lengthAdjust="spacingAndGlyphs">3</text>
<line x1="492.2" y1="110.5" x2="494.2" y2="110.5" stroke="#3a3a3a" stroke-width="0.8"/>
<text x="488.2" y="112.94" font-size="9.54" text-anchor="end" fill="#231f20" textLength="4.65" lengthAdjust="spacingAndGlyphs">2</text>
<line x1="492.2" y1="125.5" x2="494.2" y2="125.5" stroke="#3a3a3a" stroke-width="0.8"/>
<text x="488.2" y="128.27" font-size="9.54" text-anchor="end" fill="#231f20" textLength="4.65" lengthAdjust="spacingAndGlyphs">1</text>
<line x1="492.2" y1="140.5" x2="494.2" y2="140.5" stroke="#3a3a3a" stroke-width="0.8"/>
<text x="488.2" y="143.6" font-size="9.54" text-anchor="end" fill="#231f20" textLength="4.65" lengthAdjust="spacingAndGlyphs">0</text>
<line x1="492" y1="149.5" x2="685" y2="149.5" stroke="#3a3a3a" stroke-width="1"/>
<line x1="513.5" y1="149.7" x2="513.5" y2="147.7" stroke="#3a3a3a" stroke-width="0.8"/>
<text x="513.8" y="160.5" font-size="9.54" text-anchor="middle" fill="#231f20" textLength="9.31" lengthAdjust="spacingAndGlyphs">20</text>
<line x1="557.5" y1="149.7" x2="557.5" y2="147.7" stroke="#3a3a3a" stroke-width="0.8"/>
<text x="557.4" y="160.5" font-size="9.54" text-anchor="middle" fill="#231f20" textLength="9.31" lengthAdjust="spacingAndGlyphs">60</text>
<line x1="601.5" y1="149.7" x2="601.5" y2="147.7" stroke="#3a3a3a" stroke-width="0.8"/>
<text x="601" y="160.5" font-size="9.54" text-anchor="middle" fill="#231f20" textLength="13.96" lengthAdjust="spacingAndGlyphs">100</text>
<line x1="644.5" y1="149.7" x2="644.5" y2="147.7" stroke="#3a3a3a" stroke-width="0.8"/>
<text x="644.6" y="160.5" font-size="9.54" text-anchor="middle" fill="#231f20" textLength="13.96" lengthAdjust="spacingAndGlyphs">140</text>
<text x="583.3" y="172.6" font-size="9" text-anchor="middle" fill="#231f20" textLength="62.01" lengthAdjust="spacingAndGlyphs">Frequency (Hz)</text>
<text transform="translate(478.3 77.7) rotate(-90)" x="0" y="0" font-size="9" text-anchor="middle" fill="#231f20" textLength="80" lengthAdjust="spacingAndGlyphs">Periodic power (dB)</text>
<polyline points="493.1,138.91 494.2,111.23 495.3,103.4 496.4,101.77 497.5,99.8 498.6,99.37 499.7,97.46 500.8,104.91 501.9,112.86 503,120.88 504.1,123.34 505.2,124.94 506.3,124.15 507.4,122.26 508.5,120.58 509.6,118.97 510.7,116.95 511.8,116.66 512.9,116.99 514,117.57 515.1,119.61 516.2,118.53 517.3,116.49 518.4,114.06 519.5,113.21 520.6,113.16 521.7,111.01 522.8,107.93 523.9,104.87 525,102.93 526.1,102.35 527.2,101.05 528.3,101.26 529.4,99.92 530.5,98.04 531.6,97.05 532.7,95.02 533.8,94.26 534.9,92.69 536,90.59 537.1,89.18 538.2,87.73 539.3,86.48 540.4,85.59 541.5,83.41 542.6,83.19 543.7,82.89 544.8,82.09 545.9,82.17 547,80.53 548.1,79.33 549.2,75.62 550.3,71.86 551.4,69.39 552.5,63.87 553.6,60.4 554.7,64.85 555.8,67.19 556.9,67.97 558,69.66 559.1,70.4 560.2,70.65 561.3,73.44 562.4,74.8 563.5,78.5 564.6,83.07 565.7,87.22 566.8,87.78 567.9,85.01 569,83.49 570.1,82.55 571.2,84.68 572.3,84.99 573.4,86.81 574.5,87.52 575.6,86.79 576.7,87.77 577.8,87.82 578.9,90.32 580,91.55 581.1,92.24 582.2,93.4 583.3,93.56 584.4,94.81 585.5,95.43 586.6,95.74 587.7,96.44 588.8,97.57 589.9,99.15 591,102.59 592.1,104.37 593.2,104.27 594.3,105.04 595.4,105.88 596.5,105.43 597.6,105.66 598.7,106.27 599.8,107.38 600.9,107.51 602,107.8 603.1,108.53 604.2,109.68 605.3,109.26 606.4,110.07 607.5,111.4 608.6,111.74 609.7,111.99 610.8,112.98 611.9,113.62 613,113.65 614.1,114.36 615.2,114.59 616.3,115.65 617.4,115.43 618.5,116.44 619.6,117.44 620.7,117.95 621.8,117.72 622.9,118.52 624,118.54 625.1,118.99 626.2,119.43 627.3,120.15 628.4,120.64 629.5,120.06 630.6,120.02 631.7,121.1 632.8,121.05 633.9,121.47 635,122.85 636.1,122.05 637.2,122.65 638.3,121.57 639.4,121.71 640.5,121.12 641.6,119.85 642.7,120.09 643.8,121.31 644.9,121.02 646,120.89 647.1,121.41 648.2,121.18 649.3,120.16 650.4,119.47 651.5,118.53 652.6,118.78 653.7,118.48 654.8,119.25 655.9,119.39 657,119.02 658.1,120.1 659.2,119.95 660.3,120.85 661.4,122.68 662.5,123.56 663.6,125.21 664.7,125.75 665.8,126.74 666.9,126.79 668,128.55 669.1,128.13 670.2,129.33 671.3,130 672.4,130.1 673.5,130.15 674.6,129.64 675.7,130.19 676.8,130.71 677.9,130.31 679,132.02 680.1,132.6 681.2,132.58 681.8,133" fill="none" stroke="#b0b0b0" stroke-width="3" stroke-linejoin="round" stroke-linecap="round"/>
<polyline points="552.5,62 553.3,55.5 554.5,62" fill="none" stroke="#b0b0b0" stroke-width="2.5" stroke-linejoin="round" stroke-linecap="round"/>
<path d="M555 66 L557.6 61.5 L560.4 63 L563 70 L564.5 80 L562 80 L557.6 76 L555.5 70 Z" fill="#b0b0b0"/>
<polyline points="493.1,138.62 494.2,124.48 495.3,120.71 496.4,122.72 497.5,117.07 498.6,107.18 499.7,96.33 500.8,104.18 501.9,115.07 503,121.44 504.1,124.74 505.2,124.62 506.3,123.9 507.4,121.96 508.5,119.95 509.6,118.2 510.7,116.16 511.8,115.56 512.9,116.43 514,116.36 515.1,114.59 516.2,112.07 517.3,110.62 518.4,107.54 519.5,105.24 520.6,101.39 521.7,98 522.8,96.57 523.9,93.9 525,91.76 526.1,90.37 527.2,88.07 528.3,85.27 529.4,83.68 530.5,80.92 531.6,78.66 532.7,75.76 533.8,73.99 534.9,71.24 536,69.25 537.1,67.09 538.2,63.92 539.3,62.38 540.4,62.85 541.5,62.62 542.6,60.74 543.7,58.72 544.8,56.68 545.9,53.53 547,52.86 548.1,51.84 549.2,47.54 550.3,42.02 551.4,34.45 552.5,31.66 553.6,33.71 554.7,35.05 555.8,34.26 556.9,31.3 558,30.04 559.1,37.65 560.2,45.14 561.3,50.48 562.4,56.31 563.5,59.57 564.6,62 565.7,61.92 566.8,62.13 567.9,62.46 569,63.55 570.1,63.08 571.2,64.1 572.3,65.33 573.4,67.68 574.5,69.13 575.6,70.61 576.7,72.07 577.8,73.55 578.9,74.08 580,75.91 581.1,77.14 582.2,78.38 583.3,78.76 584.4,80.9 585.5,81.3 586.6,82.8 587.7,84.33 588.8,85.86 589.9,86.48 591,88.21 592.1,88.9 593.2,89.63 594.3,90.43 595.4,90.93 596.5,91.34 597.6,91.88 598.7,92.94 599.8,93.88 600.9,93.78 602,94.47 603.1,96.24 604.2,96.64 605.3,97.37 606.4,98.05 607.5,99.23 608.6,100.26 609.7,100.63 610.8,101.32 611.9,101.65 613,103.18 614.1,102.95 615.2,104.04 616.3,105 617.4,104.87 618.5,106 619.6,106.74 620.7,106.94 621.8,107.64 622.9,107.54 624,108.52 625.1,108.96 626.2,110.43 627.3,110.65 628.4,111.54 629.5,112.73 630.6,113.13 631.7,113.72 632.8,113.61 633.9,114.03 635,114.63 636.1,114.75 637.2,114.95 638.3,115.5 639.4,115.81 640.5,116.64 641.6,117.72 642.7,117.92 643.8,117.59 644.9,117.23 646,116.74 647.1,116.14 648.2,116.02 649.3,116.34 650.4,116.46 651.5,116.37 652.6,117.56 653.7,118.6 654.8,119.64 655.9,120.58 657,121.49 658.1,121.88 659.2,122.97 660.3,123.25 661.4,124.04 662.5,124.72 663.6,124.76 664.7,124.37 665.8,125.19 666.9,125.29 668,125.72 669.1,125.7 670.2,126.82 671.3,127.1 672.4,128.08 673.5,128.42 674.6,129.34 675.7,129.8 676.8,130.66 677.9,131.04 679,132.26 680.1,133.34 681.2,134.44 682.3,134.98 682.6,135.4" fill="none" stroke="#ffb0ff" stroke-width="2.8" stroke-linejoin="round" stroke-linecap="round"/>
<path d="M549.8 44 L551.3 28 L553.5 29.5 L555.5 29 L556.8 19.5 L558 19.5 L559.3 30 L560 41 L557 36 L553 37 Z" fill="#ffb0ff"/>
<polyline points="493.1,138.91 494.2,111.23 495.3,103.4 496.4,101.77 497.5,99.8 498.6,99.37 499.7,97.46 500.8,104.91 501.9,112.86 503,120.88 504.1,123.34 505.2,124.94 506.3,124.15 507.4,122.26 508.5,120.58 509.6,118.97 510.7,116.95 511.8,116.66 512.9,116.99 514,117.57 515.1,119.61 516.2,118.53 517.3,116.49 518.4,114.06 519.5,113.21 520.6,113.16 521.7,111.01 522.8,107.93 523.9,104.87 525,102.93 526.1,102.35 527.2,101.05 528.3,101.26 529.4,99.92 530.5,98.04 531.6,97.05 532.7,95.02 533.8,94.26 534.9,92.69 536,90.59 537.1,89.18 538.2,87.73 539.3,86.48 540.4,85.59 541.5,83.41 542.6,83.19 543.7,82.89 544.8,82.09 545.9,82.17 547,80.53 548.1,79.33 549.2,75.62 550.3,71.86 551.4,69.39 552.5,63.87 553.6,60.4 554.7,64.85 555.8,67.19 556.9,67.97 558,69.66 559.1,70.4 560.2,70.65 561.3,73.44 562.4,74.8 563.5,78.5 564.6,83.07 565.7,87.22 566.8,87.78 567.9,85.01 569,83.49 570.1,82.55 571.2,84.68 572.3,84.99 573.4,86.81 574.5,87.52 575.6,86.79 576.7,87.77 577.8,87.82 578.9,90.32 580,91.55 581.1,92.24 582.2,93.4 583.3,93.56 584.4,94.81 585.5,95.43 586.6,95.74 587.7,96.44 588.8,97.57 589.9,99.15 591,102.59 592.1,104.37 593.2,104.27 594.3,105.04 595.4,105.88 596.5,105.43 597.6,105.66 598.7,106.27 599.8,107.38 600.9,107.51 602,107.8 603.1,108.53 604.2,109.68 605.3,109.26 606.4,110.07 607.5,111.4 608.6,111.74 609.7,111.99 610.8,112.98 611.9,113.62 613,113.65 614.1,114.36 615.2,114.59 616.3,115.65 617.4,115.43 618.5,116.44 619.6,117.44 620.7,117.95 621.8,117.72 622.9,118.52 624,118.54 625.1,118.99 626.2,119.43 627.3,120.15 628.4,120.64 629.5,120.06 630.6,120.02 631.7,121.1 632.8,121.05 633.9,121.47 635,122.85 636.1,122.05 637.2,122.65 638.3,121.57 639.4,121.71 640.5,121.12 641.6,119.85 642.7,120.09 643.8,121.31 644.9,121.02 646,120.89 647.1,121.41 648.2,121.18 649.3,120.16 650.4,119.47 651.5,118.53 652.6,118.78 653.7,118.48 654.8,119.25 655.9,119.39 657,119.02 658.1,120.1 659.2,119.95 660.3,120.85 661.4,122.68 662.5,123.56 663.6,125.21 664.7,125.75 665.8,126.74 666.9,126.79 668,128.55 669.1,128.13 670.2,129.33 671.3,130 672.4,130.1 673.5,130.15 674.6,129.64 675.7,130.19 676.8,130.71 677.9,130.31 679,132.02 680.1,132.6 681.2,132.58 681.8,133" fill="none" stroke="#1a1a1a" stroke-width="1.15" stroke-linejoin="round" stroke-linecap="round"/>
<polyline points="493.1,138.62 494.2,124.48 495.3,120.71 496.4,122.72 497.5,117.07 498.6,107.18 499.7,96.33 500.8,104.18 501.9,115.07 503,121.44 504.1,124.74 505.2,124.62 506.3,123.9 507.4,121.96 508.5,119.95 509.6,118.2 510.7,116.16 511.8,115.56 512.9,116.43 514,116.36 515.1,114.59 516.2,112.07 517.3,110.62 518.4,107.54 519.5,105.24 520.6,101.39 521.7,98 522.8,96.57 523.9,93.9 525,91.76 526.1,90.37 527.2,88.07 528.3,85.27 529.4,83.68 530.5,80.92 531.6,78.66 532.7,75.76 533.8,73.99 534.9,71.24 536,69.25 537.1,67.09 538.2,63.92 539.3,62.38 540.4,62.85 541.5,62.62 542.6,60.74 543.7,58.72 544.8,56.68 545.9,53.53 547,52.86 548.1,51.84 549.2,47.54 550.3,42.02 551.4,34.45 552.5,31.66 553.6,33.71 554.7,35.05 555.8,34.26 556.9,31.3 558,30.04 559.1,37.65 560.2,45.14 561.3,50.48 562.4,56.31 563.5,59.57 564.6,62 565.7,61.92 566.8,62.13 567.9,62.46 569,63.55 570.1,63.08 571.2,64.1 572.3,65.33 573.4,67.68 574.5,69.13 575.6,70.61 576.7,72.07 577.8,73.55 578.9,74.08 580,75.91 581.1,77.14 582.2,78.38 583.3,78.76 584.4,80.9 585.5,81.3 586.6,82.8 587.7,84.33 588.8,85.86 589.9,86.48 591,88.21 592.1,88.9 593.2,89.63 594.3,90.43 595.4,90.93 596.5,91.34 597.6,91.88 598.7,92.94 599.8,93.88 600.9,93.78 602,94.47 603.1,96.24 604.2,96.64 605.3,97.37 606.4,98.05 607.5,99.23 608.6,100.26 609.7,100.63 610.8,101.32 611.9,101.65 613,103.18 614.1,102.95 615.2,104.04 616.3,105 617.4,104.87 618.5,106 619.6,106.74 620.7,106.94 621.8,107.64 622.9,107.54 624,108.52 625.1,108.96 626.2,110.43 627.3,110.65 628.4,111.54 629.5,112.73 630.6,113.13 631.7,113.72 632.8,113.61 633.9,114.03 635,114.63 636.1,114.75 637.2,114.95 638.3,115.5 639.4,115.81 640.5,116.64 641.6,117.72 642.7,117.92 643.8,117.59 644.9,117.23 646,116.74 647.1,116.14 648.2,116.02 649.3,116.34 650.4,116.46 651.5,116.37 652.6,117.56 653.7,118.6 654.8,119.64 655.9,120.58 657,121.49 658.1,121.88 659.2,122.97 660.3,123.25 661.4,124.04 662.5,124.72 663.6,124.76 664.7,124.37 665.8,125.19 666.9,125.29 668,125.72 669.1,125.7 670.2,126.82 671.3,127.1 672.4,128.08 673.5,128.42 674.6,129.34 675.7,129.8 676.8,130.66 677.9,131.04 679,132.26 680.1,133.34 681.2,134.44 682.3,134.98 682.6,135.4" fill="none" stroke="#ff0000" stroke-width="1.15" stroke-linejoin="round" stroke-linecap="round"/>
<path d="M493.1 147.6 V87.4 H502.6 V147.6 Z" fill="none" stroke="#6a6a6a" stroke-width="0.8" stroke-dasharray="4 2"/>
<line x1="493.5" y1="87.4" x2="493.5" y2="89.5" stroke="#333" stroke-width="0.8"/>
<line x1="502.5" y1="87.4" x2="502.5" y2="89.5" stroke="#333" stroke-width="0.8"/>
<text x="494" y="85.5" font-size="7.3" text-anchor="start" fill="#231f20" textLength="12.9" lengthAdjust="spacingAndGlyphs">Pk 1</text>
<line x1="495" y1="143.4" x2="498.4" y2="143.4" stroke="#ff00ff" stroke-width="1.3"/>
<line x1="514.8" y1="143.4" x2="631.1" y2="143.4" stroke="#ff00ff" stroke-width="1.3"/>
<line x1="634" y1="143.4" x2="636.8" y2="143.4" stroke="#ff00ff" stroke-width="1.3"/>
<line x1="638.1" y1="143.4" x2="643.3" y2="143.4" stroke="#ff00ff" stroke-width="1.3"/>
<rect x="602.7" y="15.4" width="81" height="74.4" fill="#fff" stroke="#6a6a6a" stroke-width="0.9" stroke-dasharray="5 3.2"/>
<line x1="610.5" y1="20.5" x2="610.5" y2="79.2" stroke="#555" stroke-width="1"/>
<line x1="610.4" y1="79.5" x2="680.5" y2="79.5" stroke="#555" stroke-width="1"/>
<line x1="610.4" y1="72.5" x2="612" y2="72.5" stroke="#555" stroke-width="0.7"/>
<text x="609" y="75.7" font-size="8.06" text-anchor="end" fill="#231f20" textLength="3.93" lengthAdjust="spacingAndGlyphs">0</text>
<line x1="610.4" y1="60.5" x2="612" y2="60.5" stroke="#555" stroke-width="0.7"/>
<text x="609" y="63.07" font-size="8.06" text-anchor="end" fill="#231f20" textLength="3.93" lengthAdjust="spacingAndGlyphs">1</text>
<line x1="610.4" y1="47.5" x2="612" y2="47.5" stroke="#555" stroke-width="0.7"/>
<text x="609" y="50.44" font-size="8.06" text-anchor="end" fill="#231f20" textLength="3.93" lengthAdjust="spacingAndGlyphs">2</text>
<line x1="610.4" y1="35.5" x2="612" y2="35.5" stroke="#555" stroke-width="0.7"/>
<text x="609" y="37.81" font-size="8.06" text-anchor="end" fill="#231f20" textLength="3.93" lengthAdjust="spacingAndGlyphs">3</text>
<line x1="610.4" y1="22.5" x2="612" y2="22.5" stroke="#555" stroke-width="0.7"/>
<text x="609" y="25.18" font-size="8.06" text-anchor="end" fill="#231f20" textLength="3.93" lengthAdjust="spacingAndGlyphs">4</text>
<line x1="617.5" y1="79.2" x2="617.5" y2="77.7" stroke="#555" stroke-width="0.7"/>
<text x="617.2" y="87.7" font-size="8.06" text-anchor="middle" fill="#231f20" textLength="3.93" lengthAdjust="spacingAndGlyphs">2</text>
<line x1="631.5" y1="79.2" x2="631.5" y2="77.7" stroke="#555" stroke-width="0.7"/>
<text x="631.8" y="87.7" font-size="8.06" text-anchor="middle" fill="#231f20" textLength="3.93" lengthAdjust="spacingAndGlyphs">4</text>
<line x1="646.5" y1="79.2" x2="646.5" y2="77.7" stroke="#555" stroke-width="0.7"/>
<text x="646.4" y="87.7" font-size="8.06" text-anchor="middle" fill="#231f20" textLength="3.93" lengthAdjust="spacingAndGlyphs">6</text>
<line x1="661.5" y1="79.2" x2="661.5" y2="77.7" stroke="#555" stroke-width="0.7"/>
<text x="661" y="87.7" font-size="8.06" text-anchor="middle" fill="#231f20" textLength="3.93" lengthAdjust="spacingAndGlyphs">8</text>
<line x1="675.5" y1="79.2" x2="675.5" y2="77.7" stroke="#555" stroke-width="0.7"/>
<text x="675.6" y="87.7" font-size="8.06" text-anchor="middle" fill="#231f20" textLength="7.86" lengthAdjust="spacingAndGlyphs">10</text>
<text x="628.7" y="29.9" font-size="8" text-anchor="start" fill="#231f20" textLength="9.1" lengthAdjust="spacingAndGlyphs">1a</text>
<text x="648" y="25.7" font-size="8" text-anchor="start" fill="#231f20" textLength="9.8" lengthAdjust="spacingAndGlyphs">1b</text>
<line x1="630" y1="75.3" x2="642.7" y2="75.3" stroke="#ff66ff" stroke-width="0.9" stroke-dasharray="2.2 1"/>
<polyline points="614.6,72.9 615.21,71.94 616.08,70.56 617.06,69 618,67.5 618.91,66.06 619.86,64.59 620.78,63.12 621.6,61.7 622.3,60.36 622.91,59.07 623.46,57.79 624,56.5 624.49,55.19 624.94,53.88 625.39,52.56 625.9,51.2 626.5,49.76 627.16,48.27 627.84,46.81 628.5,45.5 629.11,44.34 629.71,43.28 630.32,42.33 631,41.5 631.77,40.76 632.61,40.13 633.46,39.63 634.3,39.3 635.1,39.19 635.89,39.27 636.68,39.44 637.5,39.6 638.37,39.75 639.26,39.94 640.15,40.14 641,40.3 641.79,40.46 642.53,40.62 643.26,40.72 644,40.7 644.75,40.58 645.5,40.38 646.25,40.03 647,39.5 647.76,38.66 648.53,37.58 649.29,36.46 650,35.5 650.66,34.7 651.28,33.97 651.89,33.38 652.5,33 653.11,32.86 653.72,32.91 654.34,33.13 655,33.5 655.72,34.05 656.48,34.77 657.25,35.61 658,36.5 658.72,37.45 659.41,38.49 660.13,39.58 660.9,40.7 661.75,41.87 662.66,43.09 663.59,44.32 664.5,45.5 665.39,46.67 666.29,47.84 667.16,48.92 668,49.8 668.77,50.4 669.5,50.79 670.23,51.11 671,51.5 671.85,51.96 672.74,52.44 673.63,52.95 674.5,53.5 675.4,54.17 676.32,54.92 677.13,55.62 677.7,56.1" fill="none" stroke="#b0b0b0" stroke-width="4.2" stroke-linejoin="round" stroke-linecap="round"/>
<polyline points="614.6,73.3 615.21,72.26 616.08,70.77 617.06,69.1 618,67.5 618.91,66.01 619.86,64.51 620.78,63 621.6,61.5 622.28,59.91 622.86,58.26 623.41,56.73 624,55.5 624.64,54.6 625.3,53.95 625.96,53.52 626.6,53.3 627.21,53.3 627.81,53.52 628.4,53.94 629,54.5 629.61,55.31 630.23,56.35 630.85,57.42 631.5,58.3 632.18,59.02 632.89,59.65 633.6,60.11 634.3,60.3 634.96,60.18 635.61,59.81 636.27,59.23 637,58.5 637.82,57.58 638.7,56.45 639.61,55.22 640.5,54 641.39,52.79 642.28,51.53 643.16,50.26 644,49 644.79,47.81 645.53,46.66 646.26,45.43 647,44 647.76,42.19 648.53,40.11 649.29,38.1 650,36.5 650.66,35.39 651.28,34.58 651.89,34.04 652.5,33.7 653.11,33.6 653.72,33.74 654.34,34.06 655,34.5 655.72,35.09 656.48,35.85 657.25,36.68 658,37.5 658.72,38.22 659.41,38.92 660.13,39.71 660.9,40.7 661.75,41.98 662.66,43.46 663.59,45.02 664.5,46.5 665.39,47.98 666.29,49.49 667.16,50.86 668,51.9 668.77,52.47 669.5,52.69 670.23,52.8 671,53 671.85,53.33 672.74,53.67 673.63,54.06 674.5,54.5 675.4,55.07 676.32,55.74 677.13,56.37 677.7,56.8" fill="none" stroke="#ffb0ff" stroke-width="3.2" stroke-linejoin="round" stroke-linecap="round"/>
<polyline points="614.6,72.9 615.21,71.94 616.08,70.56 617.06,69 618,67.5 618.91,66.06 619.86,64.59 620.78,63.12 621.6,61.7 622.3,60.36 622.91,59.07 623.46,57.79 624,56.5 624.49,55.19 624.94,53.88 625.39,52.56 625.9,51.2 626.5,49.76 627.16,48.27 627.84,46.81 628.5,45.5 629.11,44.34 629.71,43.28 630.32,42.33 631,41.5 631.77,40.76 632.61,40.13 633.46,39.63 634.3,39.3 635.1,39.19 635.89,39.27 636.68,39.44 637.5,39.6 638.37,39.75 639.26,39.94 640.15,40.14 641,40.3 641.79,40.46 642.53,40.62 643.26,40.72 644,40.7 644.75,40.58 645.5,40.38 646.25,40.03 647,39.5 647.76,38.66 648.53,37.58 649.29,36.46 650,35.5 650.66,34.7 651.28,33.97 651.89,33.38 652.5,33 653.11,32.86 653.72,32.91 654.34,33.13 655,33.5 655.72,34.05 656.48,34.77 657.25,35.61 658,36.5 658.72,37.45 659.41,38.49 660.13,39.58 660.9,40.7 661.75,41.87 662.66,43.09 663.59,44.32 664.5,45.5 665.39,46.67 666.29,47.84 667.16,48.92 668,49.8 668.77,50.4 669.5,50.79 670.23,51.11 671,51.5 671.85,51.96 672.74,52.44 673.63,52.95 674.5,53.5 675.4,54.17 676.32,54.92 677.13,55.62 677.7,56.1" fill="none" stroke="#333" stroke-width="1" stroke-linejoin="round" stroke-linecap="round"/>
<polyline points="614.6,73.3 615.21,72.26 616.08,70.77 617.06,69.1 618,67.5 618.91,66.01 619.86,64.51 620.78,63 621.6,61.5 622.28,59.91 622.86,58.26 623.41,56.73 624,55.5 624.64,54.6 625.3,53.95 625.96,53.52 626.6,53.3 627.21,53.3 627.81,53.52 628.4,53.94 629,54.5 629.61,55.31 630.23,56.35 630.85,57.42 631.5,58.3 632.18,59.02 632.89,59.65 633.6,60.11 634.3,60.3 634.96,60.18 635.61,59.81 636.27,59.23 637,58.5 637.82,57.58 638.7,56.45 639.61,55.22 640.5,54 641.39,52.79 642.28,51.53 643.16,50.26 644,49 644.79,47.81 645.53,46.66 646.26,45.43 647,44 647.76,42.19 648.53,40.11 649.29,38.1 650,36.5 650.66,35.39 651.28,34.58 651.89,34.04 652.5,33.7 653.11,33.6 653.72,33.74 654.34,34.06 655,34.5 655.72,35.09 656.48,35.85 657.25,36.68 658,37.5 658.72,38.22 659.41,38.92 660.13,39.71 660.9,40.7 661.75,41.98 662.66,43.46 663.59,45.02 664.5,46.5 665.39,47.98 666.29,49.49 667.16,50.86 668,51.9 668.77,52.47 669.5,52.69 670.23,52.8 671,53 671.85,53.33 672.74,53.67 673.63,54.06 674.5,54.5 675.4,55.07 676.32,55.74 677.13,56.37 677.7,56.8" fill="none" stroke="#ff0000" stroke-width="1" stroke-linejoin="round" stroke-linecap="round"/>
<text x="60.3" y="189.9" font-size="9" text-anchor="start" fill="#231f20" textLength="5" lengthAdjust="spacingAndGlyphs">d</text>
<line x1="83.5" y1="199.5" x2="83.5" y2="333.3" stroke="#4a4a4a" stroke-width="1"/>
<line x1="83.6" y1="333.5" x2="174" y2="333.5" stroke="#4a4a4a" stroke-width="1"/>
<line x1="83.6" y1="214.5" x2="85.6" y2="214.5" stroke="#4a4a4a" stroke-width="0.8"/>
<text x="80.2" y="217.4" font-size="9.54" text-anchor="end" fill="#231f20" textLength="4.65" lengthAdjust="spacingAndGlyphs">6</text>
<line x1="83.6" y1="243.5" x2="85.6" y2="243.5" stroke="#4a4a4a" stroke-width="0.8"/>
<text x="80.2" y="247.2" font-size="9.54" text-anchor="end" fill="#231f20" textLength="4.65" lengthAdjust="spacingAndGlyphs">5</text>
<line x1="83.6" y1="273.5" x2="85.6" y2="273.5" stroke="#4a4a4a" stroke-width="0.8"/>
<text x="80.2" y="277" font-size="9.54" text-anchor="end" fill="#231f20" textLength="4.65" lengthAdjust="spacingAndGlyphs">4</text>
<line x1="83.6" y1="303.5" x2="85.6" y2="303.5" stroke="#4a4a4a" stroke-width="0.8"/>
<text x="80.2" y="306.8" font-size="9.54" text-anchor="end" fill="#231f20" textLength="4.65" lengthAdjust="spacingAndGlyphs">3</text>
<line x1="83.6" y1="333.5" x2="85.6" y2="333.5" stroke="#4a4a4a" stroke-width="0.8"/>
<text x="80.2" y="336.6" font-size="9.54" text-anchor="end" fill="#231f20" textLength="4.65" lengthAdjust="spacingAndGlyphs">2</text>
<line x1="97.5" y1="333.3" x2="97.5" y2="331.3" stroke="#4a4a4a" stroke-width="0.8"/>
<line x1="148.5" y1="333.3" x2="148.5" y2="331.3" stroke="#4a4a4a" stroke-width="0.8"/>
<text x="98.3" y="343.7" font-size="9" text-anchor="middle" fill="#231f20" textLength="13" lengthAdjust="spacingAndGlyphs">KO</text>
<text x="148.4" y="343.7" font-size="9" text-anchor="middle" fill="#231f20" textLength="13.99" lengthAdjust="spacingAndGlyphs">WT</text>
<text transform="translate(69.5 270.3) rotate(-90)" x="0" y="0" font-size="9" text-anchor="middle" fill="#231f20" textLength="91.5" lengthAdjust="spacingAndGlyphs">Peak 1a frequency (Hz)</text>
<text x="107" y="206.8" font-size="9" text-anchor="start" fill="#231f20" textLength="42.2" lengthAdjust="spacingAndGlyphs">p = 9.7 e-5</text>
<line x1="97.9" y1="244.5" x2="97.9" y2="280.1" stroke="#929292" stroke-width="1.6"/>
<line x1="97.9" y1="297.4" x2="97.9" y2="309.2" stroke="#929292" stroke-width="1.6"/>
<line x1="95.25" y1="244.5" x2="100.55" y2="244.5" stroke="#2a2a2a" stroke-width="1"/>
<line x1="95.25" y1="309.5" x2="100.55" y2="309.5" stroke="#2a2a2a" stroke-width="1"/>
<rect x="92.5" y="280.5" width="11" height="17" fill="#ff0000" stroke="#1a1a1a" stroke-width="1"/>
<line x1="92.45" y1="291.5" x2="103.35" y2="291.5" stroke="#1a1a1a" stroke-width="1"/>
<line x1="148.5" y1="220.5" x2="148.5" y2="244.5" stroke="#333" stroke-width="1"/>
<line x1="148.5" y1="273.5" x2="148.5" y2="297.3" stroke="#333" stroke-width="1"/>
<line x1="145.25" y1="220.5" x2="150.75" y2="220.5" stroke="#2a2a2a" stroke-width="1"/>
<line x1="145.25" y1="297.5" x2="150.75" y2="297.5" stroke="#2a2a2a" stroke-width="1"/>
<rect x="142.5" y="244.5" width="11" height="29" fill="#b3b3b3" stroke="#1a1a1a" stroke-width="1"/>
<line x1="142.4" y1="261.5" x2="153.6" y2="261.5" stroke="#1a1a1a" stroke-width="1"/>
<circle cx="116.5" cy="244.2" r="1.8" fill="#fff" stroke="#1a1a1a" stroke-width="0.75"/>
<circle cx="116.5" cy="250.5" r="1.8" fill="#fff" stroke="#1a1a1a" stroke-width="0.75"/>
<circle cx="116.5" cy="273.8" r="1.8" fill="#fff" stroke="#1a1a1a" stroke-width="0.75"/>
<circle cx="112.45" cy="280" r="1.8" fill="#fff" stroke="#1a1a1a" stroke-width="0.75"/>
<circle cx="115.15" cy="280" r="1.8" fill="#fff" stroke="#1a1a1a" stroke-width="0.75"/>
<circle cx="117.85" cy="280" r="1.8" fill="#fff" stroke="#1a1a1a" stroke-width="0.75"/>
<circle cx="120.55" cy="280" r="1.8" fill="#fff" stroke="#1a1a1a" stroke-width="0.75"/>
<circle cx="115.7" cy="285.6" r="1.8" fill="#fff" stroke="#1a1a1a" stroke-width="0.75"/>
<circle cx="117.3" cy="285.6" r="1.8" fill="#fff" stroke="#1a1a1a" stroke-width="0.75"/>
<circle cx="113.7" cy="291.8" r="1.8" fill="#fff" stroke="#1a1a1a" stroke-width="0.75"/>
<circle cx="116.5" cy="291.8" r="1.8" fill="#fff" stroke="#1a1a1a" stroke-width="0.75"/>
<circle cx="119.3" cy="291.8" r="1.8" fill="#fff" stroke="#1a1a1a" stroke-width="0.75"/>
<circle cx="107.58" cy="297.5" r="1.8" fill="#fff" stroke="#1a1a1a" stroke-width="0.75"/>
<circle cx="110.12" cy="297.5" r="1.8" fill="#fff" stroke="#1a1a1a" stroke-width="0.75"/>
<circle cx="112.67" cy="297.5" r="1.8" fill="#fff" stroke="#1a1a1a" stroke-width="0.75"/>
<circle cx="115.22" cy="297.5" r="1.8" fill="#fff" stroke="#1a1a1a" stroke-width="0.75"/>
<circle cx="117.78" cy="297.5" r="1.8" fill="#fff" stroke="#1a1a1a" stroke-width="0.75"/>
<circle cx="120.33" cy="297.5" r="1.8" fill="#fff" stroke="#1a1a1a" stroke-width="0.75"/>
<circle cx="122.88" cy="297.5" r="1.8" fill="#fff" stroke="#1a1a1a" stroke-width="0.75"/>
<circle cx="125.42" cy="297.5" r="1.8" fill="#fff" stroke="#1a1a1a" stroke-width="0.75"/>
<circle cx="115.75" cy="303.3" r="1.8" fill="#fff" stroke="#1a1a1a" stroke-width="0.75"/>
<circle cx="117.25" cy="303.3" r="1.8" fill="#fff" stroke="#1a1a1a" stroke-width="0.75"/>
<circle cx="116.5" cy="309.5" r="1.8" fill="#fff" stroke="#1a1a1a" stroke-width="0.75"/>
<circle cx="163.2" cy="220.7" r="1.8" fill="#fff" stroke="#1a1a1a" stroke-width="0.75"/>
<circle cx="162.5" cy="232.6" r="1.8" fill="#fff" stroke="#1a1a1a" stroke-width="0.75"/>
<circle cx="163.9" cy="232.6" r="1.8" fill="#fff" stroke="#1a1a1a" stroke-width="0.75"/>
<circle cx="163.2" cy="238.2" r="1.8" fill="#fff" stroke="#1a1a1a" stroke-width="0.75"/>
<circle cx="160.5" cy="244.2" r="1.8" fill="#fff" stroke="#1a1a1a" stroke-width="0.75"/>
<circle cx="163.2" cy="244.2" r="1.8" fill="#fff" stroke="#1a1a1a" stroke-width="0.75"/>
<circle cx="165.9" cy="244.2" r="1.8" fill="#fff" stroke="#1a1a1a" stroke-width="0.75"/>
<circle cx="160.5" cy="256" r="1.8" fill="#fff" stroke="#1a1a1a" stroke-width="0.75"/>
<circle cx="163.2" cy="256" r="1.8" fill="#fff" stroke="#1a1a1a" stroke-width="0.75"/>
<circle cx="165.9" cy="256" r="1.8" fill="#fff" stroke="#1a1a1a" stroke-width="0.75"/>
<circle cx="160.9" cy="262" r="1.8" fill="#fff" stroke="#1a1a1a" stroke-width="0.75"/>
<circle cx="163.6" cy="262" r="1.8" fill="#fff" stroke="#1a1a1a" stroke-width="0.75"/>
<circle cx="166.3" cy="262" r="1.8" fill="#fff" stroke="#1a1a1a" stroke-width="0.75"/>
<circle cx="160" cy="261.3" r="1.8" fill="#fff" stroke="#1a1a1a" stroke-width="0.75"/>
<circle cx="162.45" cy="267.8" r="1.8" fill="#fff" stroke="#1a1a1a" stroke-width="0.75"/>
<circle cx="163.95" cy="267.8" r="1.8" fill="#fff" stroke="#1a1a1a" stroke-width="0.75"/>
<circle cx="162.45" cy="273.8" r="1.8" fill="#fff" stroke="#1a1a1a" stroke-width="0.75"/>
<circle cx="163.95" cy="273.8" r="1.8" fill="#fff" stroke="#1a1a1a" stroke-width="0.75"/>
<circle cx="162.45" cy="280" r="1.8" fill="#fff" stroke="#1a1a1a" stroke-width="0.75"/>
<circle cx="163.95" cy="280" r="1.8" fill="#fff" stroke="#1a1a1a" stroke-width="0.75"/>
<circle cx="162.45" cy="285.9" r="1.8" fill="#fff" stroke="#1a1a1a" stroke-width="0.75"/>
<circle cx="163.95" cy="285.9" r="1.8" fill="#fff" stroke="#1a1a1a" stroke-width="0.75"/>
<circle cx="163.2" cy="297.4" r="1.8" fill="#fff" stroke="#1a1a1a" stroke-width="0.75"/>
<text x="209.4" y="190" font-size="9" text-anchor="start" fill="#231f20" textLength="5" lengthAdjust="spacingAndGlyphs">e</text>
<line x1="236.5" y1="201" x2="236.5" y2="333.1" stroke="#4a4a4a" stroke-width="1"/>
<line x1="236" y1="333.5" x2="314.6" y2="333.5" stroke="#4a4a4a" stroke-width="1"/>
<line x1="236" y1="201.5" x2="238" y2="201.5" stroke="#4a4a4a" stroke-width="0.8"/>
<text x="232.4" y="204.8" font-size="9.54" text-anchor="end" fill="#231f20" textLength="4.65" lengthAdjust="spacingAndGlyphs">7</text>
<line x1="236" y1="220.5" x2="238" y2="220.5" stroke="#4a4a4a" stroke-width="0.8"/>
<text x="232.4" y="223.6" font-size="9.54" text-anchor="end" fill="#231f20" textLength="4.65" lengthAdjust="spacingAndGlyphs">6</text>
<line x1="236" y1="239.5" x2="238" y2="239.5" stroke="#4a4a4a" stroke-width="0.8"/>
<text x="232.4" y="242.4" font-size="9.54" text-anchor="end" fill="#231f20" textLength="4.65" lengthAdjust="spacingAndGlyphs">5</text>
<line x1="236" y1="257.5" x2="238" y2="257.5" stroke="#4a4a4a" stroke-width="0.8"/>
<text x="232.4" y="261.2" font-size="9.54" text-anchor="end" fill="#231f20" textLength="4.65" lengthAdjust="spacingAndGlyphs">4</text>
<line x1="236" y1="276.5" x2="238" y2="276.5" stroke="#4a4a4a" stroke-width="0.8"/>
<text x="232.4" y="280" font-size="9.54" text-anchor="end" fill="#231f20" textLength="4.65" lengthAdjust="spacingAndGlyphs">3</text>
<line x1="236" y1="295.5" x2="238" y2="295.5" stroke="#4a4a4a" stroke-width="0.8"/>
<text x="232.4" y="298.8" font-size="9.54" text-anchor="end" fill="#231f20" textLength="4.65" lengthAdjust="spacingAndGlyphs">2</text>
<line x1="236" y1="314.5" x2="238" y2="314.5" stroke="#4a4a4a" stroke-width="0.8"/>
<text x="232.4" y="317.6" font-size="9.54" text-anchor="end" fill="#231f20" textLength="4.65" lengthAdjust="spacingAndGlyphs">1</text>
<line x1="236" y1="333.5" x2="238" y2="333.5" stroke="#4a4a4a" stroke-width="0.8"/>
<text x="232.4" y="336.4" font-size="9.54" text-anchor="end" fill="#231f20" textLength="4.65" lengthAdjust="spacingAndGlyphs">0</text>
<line x1="247.5" y1="333.1" x2="247.5" y2="331.1" stroke="#4a4a4a" stroke-width="0.8"/>
<line x1="291.5" y1="333.1" x2="291.5" y2="331.1" stroke="#4a4a4a" stroke-width="0.8"/>
<text x="247.6" y="343.5" font-size="9" text-anchor="middle" fill="#231f20" textLength="13" lengthAdjust="spacingAndGlyphs">KO</text>
<text x="291" y="343.5" font-size="9" text-anchor="middle" fill="#231f20" textLength="13.99" lengthAdjust="spacingAndGlyphs">WT</text>
<text transform="translate(217.6 270.3) rotate(-90)" x="0" y="0" font-size="9" text-anchor="middle" fill="#231f20" textLength="77.4" lengthAdjust="spacingAndGlyphs">Peak 1a power (dB)</text>
<text x="254.6" y="207.3" font-size="9" text-anchor="start" fill="#231f20" textLength="42.2" lengthAdjust="spacingAndGlyphs">p = 2.9 e-3</text>
<line x1="247.5" y1="242.7" x2="247.5" y2="288.6" stroke="#333" stroke-width="1"/>
<line x1="247.5" y1="313.2" x2="247.5" y2="322.1" stroke="#333" stroke-width="1"/>
<line x1="245" y1="242.5" x2="250.2" y2="242.5" stroke="#2a2a2a" stroke-width="1"/>
<line x1="245" y1="322.5" x2="250.2" y2="322.5" stroke="#2a2a2a" stroke-width="1"/>
<rect x="242.5" y="288.5" width="10" height="25" fill="#ff0000" stroke="#1a1a1a" stroke-width="1"/>
<line x1="242.25" y1="301.5" x2="252.95" y2="301.5" stroke="#1a1a1a" stroke-width="1"/>
<line x1="291" y1="214.7" x2="291" y2="253.2" stroke="#929292" stroke-width="1.6"/>
<line x1="291" y1="287.4" x2="291" y2="324.6" stroke="#929292" stroke-width="1.6"/>
<line x1="288.35" y1="214.5" x2="293.65" y2="214.5" stroke="#2a2a2a" stroke-width="1"/>
<line x1="288.35" y1="324.5" x2="293.65" y2="324.5" stroke="#2a2a2a" stroke-width="1"/>
<rect x="285.5" y="253.5" width="11" height="34" fill="#b3b3b3" stroke="#1a1a1a" stroke-width="1"/>
<line x1="285.55" y1="273.5" x2="296.45" y2="273.5" stroke="#1a1a1a" stroke-width="1"/>
<circle cx="260.7" cy="243" r="1.8" fill="#fff" stroke="#1a1a1a" stroke-width="0.75"/>
<circle cx="260.7" cy="264" r="1.8" fill="#fff" stroke="#1a1a1a" stroke-width="0.75"/>
<circle cx="257.7" cy="280" r="1.8" fill="#fff" stroke="#1a1a1a" stroke-width="0.75"/>
<circle cx="260.7" cy="280" r="1.8" fill="#fff" stroke="#1a1a1a" stroke-width="0.75"/>
<circle cx="263.7" cy="280" r="1.8" fill="#fff" stroke="#1a1a1a" stroke-width="0.75"/>
<circle cx="258.7" cy="289" r="1.8" fill="#fff" stroke="#1a1a1a" stroke-width="0.75"/>
<circle cx="260.7" cy="289" r="1.8" fill="#fff" stroke="#1a1a1a" stroke-width="0.75"/>
<circle cx="262.7" cy="289" r="1.8" fill="#fff" stroke="#1a1a1a" stroke-width="0.75"/>
<circle cx="261.3" cy="290.8" r="1.8" fill="#fff" stroke="#1a1a1a" stroke-width="0.75"/>
<circle cx="260.7" cy="293.7" r="1.8" fill="#fff" stroke="#1a1a1a" stroke-width="0.75"/>
<circle cx="260.7" cy="296.3" r="1.8" fill="#fff" stroke="#1a1a1a" stroke-width="0.75"/>
<circle cx="257.1" cy="301.7" r="1.8" fill="#fff" stroke="#1a1a1a" stroke-width="0.75"/>
<circle cx="259.5" cy="301.7" r="1.8" fill="#fff" stroke="#1a1a1a" stroke-width="0.75"/>
<circle cx="261.9" cy="301.7" r="1.8" fill="#fff" stroke="#1a1a1a" stroke-width="0.75"/>
<circle cx="264.3" cy="301.7" r="1.8" fill="#fff" stroke="#1a1a1a" stroke-width="0.75"/>
<circle cx="261.2" cy="303.3" r="1.8" fill="#fff" stroke="#1a1a1a" stroke-width="0.75"/>
<circle cx="260.7" cy="307" r="1.8" fill="#fff" stroke="#1a1a1a" stroke-width="0.75"/>
<circle cx="257.8" cy="313.7" r="1.8" fill="#fff" stroke="#1a1a1a" stroke-width="0.75"/>
<circle cx="260.7" cy="313.7" r="1.8" fill="#fff" stroke="#1a1a1a" stroke-width="0.75"/>
<circle cx="263.6" cy="313.7" r="1.8" fill="#fff" stroke="#1a1a1a" stroke-width="0.75"/>
<circle cx="259.8" cy="320.3" r="1.8" fill="#fff" stroke="#1a1a1a" stroke-width="0.75"/>
<circle cx="261.6" cy="320.3" r="1.8" fill="#fff" stroke="#1a1a1a" stroke-width="0.75"/>
<circle cx="258.1" cy="322.3" r="1.8" fill="#fff" stroke="#1a1a1a" stroke-width="0.75"/>
<circle cx="260.7" cy="322.3" r="1.8" fill="#fff" stroke="#1a1a1a" stroke-width="0.75"/>
<circle cx="263.3" cy="322.3" r="1.8" fill="#fff" stroke="#1a1a1a" stroke-width="0.75"/>
<circle cx="305" cy="214.7" r="1.8" fill="#fff" stroke="#1a1a1a" stroke-width="0.75"/>
<circle cx="304.25" cy="236.3" r="1.8" fill="#fff" stroke="#1a1a1a" stroke-width="0.75"/>
<circle cx="305.75" cy="236.3" r="1.8" fill="#fff" stroke="#1a1a1a" stroke-width="0.75"/>
<circle cx="305" cy="238.5" r="1.8" fill="#fff" stroke="#1a1a1a" stroke-width="0.75"/>
<circle cx="305" cy="241.7" r="1.8" fill="#fff" stroke="#1a1a1a" stroke-width="0.75"/>
<circle cx="305" cy="252.7" r="1.8" fill="#fff" stroke="#1a1a1a" stroke-width="0.75"/>
<circle cx="305" cy="259.7" r="1.8" fill="#fff" stroke="#1a1a1a" stroke-width="0.75"/>
<circle cx="301.6" cy="263.3" r="1.8" fill="#fff" stroke="#1a1a1a" stroke-width="0.75"/>
<circle cx="305" cy="263.3" r="1.8" fill="#fff" stroke="#1a1a1a" stroke-width="0.75"/>
<circle cx="308.4" cy="263.3" r="1.8" fill="#fff" stroke="#1a1a1a" stroke-width="0.75"/>
<circle cx="305" cy="270" r="1.8" fill="#fff" stroke="#1a1a1a" stroke-width="0.75"/>
<circle cx="305" cy="276.6" r="1.8" fill="#fff" stroke="#1a1a1a" stroke-width="0.75"/>
<circle cx="304.25" cy="279.4" r="1.8" fill="#fff" stroke="#1a1a1a" stroke-width="0.75"/>
<circle cx="305.75" cy="279.4" r="1.8" fill="#fff" stroke="#1a1a1a" stroke-width="0.75"/>
<circle cx="305" cy="281.7" r="1.8" fill="#fff" stroke="#1a1a1a" stroke-width="0.75"/>
<circle cx="305" cy="283.7" r="1.8" fill="#fff" stroke="#1a1a1a" stroke-width="0.75"/>
<circle cx="305" cy="288" r="1.8" fill="#fff" stroke="#1a1a1a" stroke-width="0.75"/>
<circle cx="305" cy="300.3" r="1.8" fill="#fff" stroke="#1a1a1a" stroke-width="0.75"/>
<circle cx="305" cy="303" r="1.8" fill="#fff" stroke="#1a1a1a" stroke-width="0.75"/>
<circle cx="304.25" cy="310.3" r="1.8" fill="#fff" stroke="#1a1a1a" stroke-width="0.75"/>
<circle cx="305.75" cy="310.3" r="1.8" fill="#fff" stroke="#1a1a1a" stroke-width="0.75"/>
<circle cx="305" cy="324.7" r="1.8" fill="#fff" stroke="#1a1a1a" stroke-width="0.75"/>
<text x="353" y="190" font-size="9" text-anchor="start" fill="#231f20" textLength="2.5" lengthAdjust="spacingAndGlyphs">f</text>
<line x1="376.5" y1="199.5" x2="376.5" y2="333.1" stroke="#707070" stroke-width="1"/>
<line x1="376.5" y1="333.5" x2="473.3" y2="333.5" stroke="#707070" stroke-width="1"/>
<line x1="376.5" y1="200.5" x2="378.5" y2="200.5" stroke="#4a4a4a" stroke-width="0.8"/>
<text x="373" y="203.4" font-size="9.54" text-anchor="end" fill="#231f20" textLength="9.31" lengthAdjust="spacingAndGlyphs">10</text>
<line x1="376.5" y1="226.5" x2="378.5" y2="226.5" stroke="#4a4a4a" stroke-width="0.8"/>
<text x="373" y="230" font-size="9.54" text-anchor="end" fill="#231f20" textLength="4.65" lengthAdjust="spacingAndGlyphs">9</text>
<line x1="376.5" y1="253.5" x2="378.5" y2="253.5" stroke="#4a4a4a" stroke-width="0.8"/>
<text x="373" y="256.6" font-size="9.54" text-anchor="end" fill="#231f20" textLength="4.65" lengthAdjust="spacingAndGlyphs">8</text>
<line x1="376.5" y1="279.5" x2="378.5" y2="279.5" stroke="#4a4a4a" stroke-width="0.8"/>
<text x="373" y="283.2" font-size="9.54" text-anchor="end" fill="#231f20" textLength="4.65" lengthAdjust="spacingAndGlyphs">7</text>
<line x1="376.5" y1="306.5" x2="378.5" y2="306.5" stroke="#4a4a4a" stroke-width="0.8"/>
<text x="373" y="309.8" font-size="9.54" text-anchor="end" fill="#231f20" textLength="4.65" lengthAdjust="spacingAndGlyphs">6</text>
<line x1="376.5" y1="333.5" x2="378.5" y2="333.5" stroke="#4a4a4a" stroke-width="0.8"/>
<text x="373" y="336.4" font-size="9.54" text-anchor="end" fill="#231f20" textLength="4.65" lengthAdjust="spacingAndGlyphs">5</text>
<line x1="391.5" y1="333.1" x2="391.5" y2="331.1" stroke="#4a4a4a" stroke-width="0.8"/>
<line x1="431.5" y1="333.1" x2="431.5" y2="331.1" stroke="#4a4a4a" stroke-width="0.8"/>
<text x="392.2" y="343.5" font-size="9" text-anchor="middle" fill="#231f20" textLength="13" lengthAdjust="spacingAndGlyphs">KO</text>
<text x="431.9" y="343.5" font-size="9" text-anchor="middle" fill="#231f20" textLength="13.99" lengthAdjust="spacingAndGlyphs">WT</text>
<text transform="translate(361 268.5) rotate(-90)" x="0" y="0" font-size="9" text-anchor="middle" fill="#231f20" textLength="93" lengthAdjust="spacingAndGlyphs">Peak 1b frequency (Hz)</text>
<text x="405.8" y="207.3" font-size="9" text-anchor="start" fill="#231f20" textLength="31.8" lengthAdjust="spacingAndGlyphs">p = 0.97</text>
<line x1="391" y1="237.4" x2="391" y2="258.7" stroke="#929292" stroke-width="1.6"/>
<line x1="391" y1="285.4" x2="391" y2="301.2" stroke="#929292" stroke-width="1.6"/>
<line x1="388.35" y1="237.5" x2="393.65" y2="237.5" stroke="#2a2a2a" stroke-width="1"/>
<line x1="388.35" y1="301.5" x2="393.65" y2="301.5" stroke="#2a2a2a" stroke-width="1"/>
<rect x="385.5" y="258.5" width="11" height="27" fill="#ff0000" stroke="#1a1a1a" stroke-width="1"/>
<line x1="385.5" y1="279.8" x2="396.5" y2="279.8" stroke="#7a0000" stroke-width="1.6"/>
<line x1="440.5" y1="237.4" x2="440.5" y2="269.5" stroke="#333" stroke-width="1"/>
<line x1="440.5" y1="285.4" x2="440.5" y2="317.4" stroke="#333" stroke-width="1"/>
<line x1="437.95" y1="237.5" x2="443.25" y2="237.5" stroke="#2a2a2a" stroke-width="1"/>
<line x1="437.95" y1="317.5" x2="443.25" y2="317.5" stroke="#2a2a2a" stroke-width="1"/>
<rect x="435.5" y="269.5" width="11" height="16" fill="#b3b3b3" stroke="#1a1a1a" stroke-width="1"/>
<line x1="435.2" y1="279.8" x2="446" y2="279.8" stroke="#555" stroke-width="1.6"/>
<circle cx="408" cy="237.4" r="1.8" fill="#fff" stroke="#1a1a1a" stroke-width="0.75"/>
<circle cx="408" cy="242.9" r="1.8" fill="#fff" stroke="#1a1a1a" stroke-width="0.75"/>
<circle cx="407.2" cy="248.2" r="1.8" fill="#fff" stroke="#1a1a1a" stroke-width="0.75"/>
<circle cx="408.8" cy="248.2" r="1.8" fill="#fff" stroke="#1a1a1a" stroke-width="0.75"/>
<circle cx="407.2" cy="258.7" r="1.8" fill="#fff" stroke="#1a1a1a" stroke-width="0.75"/>
<circle cx="408.8" cy="258.7" r="1.8" fill="#fff" stroke="#1a1a1a" stroke-width="0.75"/>
<circle cx="408" cy="269.3" r="1.8" fill="#fff" stroke="#1a1a1a" stroke-width="0.75"/>
<circle cx="407.2" cy="274.6" r="1.8" fill="#fff" stroke="#1a1a1a" stroke-width="0.75"/>
<circle cx="408.8" cy="274.6" r="1.8" fill="#fff" stroke="#1a1a1a" stroke-width="0.75"/>
<circle cx="405.2" cy="279.8" r="1.8" fill="#fff" stroke="#1a1a1a" stroke-width="0.75"/>
<circle cx="408" cy="279.8" r="1.8" fill="#fff" stroke="#1a1a1a" stroke-width="0.75"/>
<circle cx="410.8" cy="279.8" r="1.8" fill="#fff" stroke="#1a1a1a" stroke-width="0.75"/>
<circle cx="399.6" cy="285.1" r="1.8" fill="#fff" stroke="#1a1a1a" stroke-width="0.75"/>
<circle cx="402.4" cy="285.1" r="1.8" fill="#fff" stroke="#1a1a1a" stroke-width="0.75"/>
<circle cx="405.2" cy="285.1" r="1.8" fill="#fff" stroke="#1a1a1a" stroke-width="0.75"/>
<circle cx="408" cy="285.1" r="1.8" fill="#fff" stroke="#1a1a1a" stroke-width="0.75"/>
<circle cx="410.8" cy="285.1" r="1.8" fill="#fff" stroke="#1a1a1a" stroke-width="0.75"/>
<circle cx="413.6" cy="285.1" r="1.8" fill="#fff" stroke="#1a1a1a" stroke-width="0.75"/>
<circle cx="416.4" cy="285.1" r="1.8" fill="#fff" stroke="#1a1a1a" stroke-width="0.75"/>
<circle cx="407.2" cy="290.6" r="1.8" fill="#fff" stroke="#1a1a1a" stroke-width="0.75"/>
<circle cx="408.8" cy="290.6" r="1.8" fill="#fff" stroke="#1a1a1a" stroke-width="0.75"/>
<circle cx="407.2" cy="301.2" r="1.8" fill="#fff" stroke="#1a1a1a" stroke-width="0.75"/>
<circle cx="408.8" cy="301.2" r="1.8" fill="#fff" stroke="#1a1a1a" stroke-width="0.75"/>
<circle cx="457.1" cy="237.4" r="1.8" fill="#fff" stroke="#1a1a1a" stroke-width="0.75"/>
<circle cx="451.5" cy="263.9" r="1.8" fill="#fff" stroke="#1a1a1a" stroke-width="0.75"/>
<circle cx="454.3" cy="263.9" r="1.8" fill="#fff" stroke="#1a1a1a" stroke-width="0.75"/>
<circle cx="457.1" cy="263.9" r="1.8" fill="#fff" stroke="#1a1a1a" stroke-width="0.75"/>
<circle cx="459.9" cy="263.9" r="1.8" fill="#fff" stroke="#1a1a1a" stroke-width="0.75"/>
<circle cx="462.7" cy="263.9" r="1.8" fill="#fff" stroke="#1a1a1a" stroke-width="0.75"/>
<circle cx="456.3" cy="269.3" r="1.8" fill="#fff" stroke="#1a1a1a" stroke-width="0.75"/>
<circle cx="457.9" cy="269.3" r="1.8" fill="#fff" stroke="#1a1a1a" stroke-width="0.75"/>
<circle cx="457.1" cy="274.9" r="1.8" fill="#fff" stroke="#1a1a1a" stroke-width="0.75"/>
<circle cx="450.1" cy="279.8" r="1.8" fill="#fff" stroke="#1a1a1a" stroke-width="0.75"/>
<circle cx="452.9" cy="279.8" r="1.8" fill="#fff" stroke="#1a1a1a" stroke-width="0.75"/>
<circle cx="455.7" cy="279.8" r="1.8" fill="#fff" stroke="#1a1a1a" stroke-width="0.75"/>
<circle cx="458.5" cy="279.8" r="1.8" fill="#fff" stroke="#1a1a1a" stroke-width="0.75"/>
<circle cx="461.3" cy="279.8" r="1.8" fill="#fff" stroke="#1a1a1a" stroke-width="0.75"/>
<circle cx="464.1" cy="279.8" r="1.8" fill="#fff" stroke="#1a1a1a" stroke-width="0.75"/>
<circle cx="450.1" cy="285.1" r="1.8" fill="#fff" stroke="#1a1a1a" stroke-width="0.75"/>
<circle cx="452.9" cy="285.1" r="1.8" fill="#fff" stroke="#1a1a1a" stroke-width="0.75"/>
<circle cx="455.7" cy="285.1" r="1.8" fill="#fff" stroke="#1a1a1a" stroke-width="0.75"/>
<circle cx="458.5" cy="285.1" r="1.8" fill="#fff" stroke="#1a1a1a" stroke-width="0.75"/>
<circle cx="461.3" cy="285.1" r="1.8" fill="#fff" stroke="#1a1a1a" stroke-width="0.75"/>
<circle cx="464.1" cy="285.1" r="1.8" fill="#fff" stroke="#1a1a1a" stroke-width="0.75"/>
<circle cx="457.1" cy="287.8" r="1.8" fill="#fff" stroke="#1a1a1a" stroke-width="0.75"/>
<circle cx="457.1" cy="301.2" r="1.8" fill="#fff" stroke="#1a1a1a" stroke-width="0.75"/>
<circle cx="457.1" cy="306.2" r="1.8" fill="#fff" stroke="#1a1a1a" stroke-width="0.75"/>
<circle cx="457.1" cy="317.4" r="1.8" fill="#fff" stroke="#1a1a1a" stroke-width="0.75"/>
<text x="509.4" y="190" font-size="9" text-anchor="start" fill="#231f20" textLength="5" lengthAdjust="spacingAndGlyphs">g</text>
<line x1="536.5" y1="201" x2="536.5" y2="333.1" stroke="#707070" stroke-width="1"/>
<line x1="536.7" y1="333.5" x2="626.6" y2="333.5" stroke="#707070" stroke-width="1"/>
<line x1="536.7" y1="201.5" x2="538.7" y2="201.5" stroke="#4a4a4a" stroke-width="0.8"/>
<text x="533.1" y="204.8" font-size="9.54" text-anchor="end" fill="#231f20" textLength="4.65" lengthAdjust="spacingAndGlyphs">7</text>
<line x1="536.7" y1="220.5" x2="538.7" y2="220.5" stroke="#4a4a4a" stroke-width="0.8"/>
<text x="533.1" y="223.6" font-size="9.54" text-anchor="end" fill="#231f20" textLength="4.65" lengthAdjust="spacingAndGlyphs">6</text>
<line x1="536.7" y1="239.5" x2="538.7" y2="239.5" stroke="#4a4a4a" stroke-width="0.8"/>
<text x="533.1" y="242.4" font-size="9.54" text-anchor="end" fill="#231f20" textLength="4.65" lengthAdjust="spacingAndGlyphs">5</text>
<line x1="536.7" y1="257.5" x2="538.7" y2="257.5" stroke="#4a4a4a" stroke-width="0.8"/>
<text x="533.1" y="261.2" font-size="9.54" text-anchor="end" fill="#231f20" textLength="4.65" lengthAdjust="spacingAndGlyphs">4</text>
<line x1="536.7" y1="276.5" x2="538.7" y2="276.5" stroke="#4a4a4a" stroke-width="0.8"/>
<text x="533.1" y="280" font-size="9.54" text-anchor="end" fill="#231f20" textLength="4.65" lengthAdjust="spacingAndGlyphs">3</text>
<line x1="536.7" y1="295.5" x2="538.7" y2="295.5" stroke="#4a4a4a" stroke-width="0.8"/>
<text x="533.1" y="298.8" font-size="9.54" text-anchor="end" fill="#231f20" textLength="4.65" lengthAdjust="spacingAndGlyphs">2</text>
<line x1="536.7" y1="314.5" x2="538.7" y2="314.5" stroke="#4a4a4a" stroke-width="0.8"/>
<text x="533.1" y="317.6" font-size="9.54" text-anchor="end" fill="#231f20" textLength="4.65" lengthAdjust="spacingAndGlyphs">1</text>
<line x1="536.7" y1="333.5" x2="538.7" y2="333.5" stroke="#4a4a4a" stroke-width="0.8"/>
<text x="533.1" y="336.4" font-size="9.54" text-anchor="end" fill="#231f20" textLength="4.65" lengthAdjust="spacingAndGlyphs">0</text>
<line x1="548.5" y1="333.1" x2="548.5" y2="331.1" stroke="#4a4a4a" stroke-width="0.8"/>
<line x1="583.5" y1="333.1" x2="583.5" y2="331.1" stroke="#4a4a4a" stroke-width="0.8"/>
<text x="549.6" y="343.5" font-size="9" text-anchor="middle" fill="#231f20" textLength="13" lengthAdjust="spacingAndGlyphs">KO</text>
<text x="584.4" y="343.5" font-size="9" text-anchor="middle" fill="#231f20" textLength="13.99" lengthAdjust="spacingAndGlyphs">WT</text>
<text transform="translate(519.1 270) rotate(-90)" x="0" y="0" font-size="9" text-anchor="middle" fill="#231f20" textLength="77.4" lengthAdjust="spacingAndGlyphs">Peak 1b power (dB)</text>
<text x="563.3" y="207.3" font-size="9" text-anchor="start" fill="#231f20" textLength="32.2" lengthAdjust="spacingAndGlyphs">p = 0.92</text>
<line x1="548.9" y1="224.5" x2="548.9" y2="249.2" stroke="#929292" stroke-width="1.6"/>
<line x1="548.9" y1="283.6" x2="548.9" y2="298.7" stroke="#929292" stroke-width="1.6"/>
<line x1="546.25" y1="224.5" x2="551.55" y2="224.5" stroke="#2a2a2a" stroke-width="1"/>
<line x1="546.25" y1="298.5" x2="551.55" y2="298.5" stroke="#2a2a2a" stroke-width="1"/>
<rect x="543.5" y="249.5" width="11" height="34" fill="#ff0000" stroke="#1a1a1a" stroke-width="1"/>
<line x1="543.4" y1="271.5" x2="554.4" y2="271.5" stroke="#1a1a1a" stroke-width="1"/>
<line x1="600" y1="226.6" x2="600" y2="239.7" stroke="#929292" stroke-width="1.6"/>
<line x1="600" y1="296.5" x2="600" y2="301.5" stroke="#929292" stroke-width="1.6"/>
<line x1="597.35" y1="226.5" x2="602.65" y2="226.5" stroke="#2a2a2a" stroke-width="1"/>
<line x1="597.35" y1="301.5" x2="602.65" y2="301.5" stroke="#2a2a2a" stroke-width="1"/>
<rect x="594.5" y="239.5" width="11" height="57" fill="#b3b3b3" stroke="#1a1a1a" stroke-width="1"/>
<line x1="594.55" y1="259.5" x2="605.45" y2="259.5" stroke="#1a1a1a" stroke-width="1"/>
<circle cx="563" cy="224.5" r="1.8" fill="#fff" stroke="#1a1a1a" stroke-width="0.75"/>
<circle cx="563" cy="228.4" r="1.8" fill="#fff" stroke="#1a1a1a" stroke-width="0.75"/>
<circle cx="563" cy="233.4" r="1.8" fill="#fff" stroke="#1a1a1a" stroke-width="0.75"/>
<circle cx="563" cy="235.8" r="1.8" fill="#fff" stroke="#1a1a1a" stroke-width="0.75"/>
<circle cx="563" cy="241" r="1.8" fill="#fff" stroke="#1a1a1a" stroke-width="0.75"/>
<circle cx="563" cy="248.9" r="1.8" fill="#fff" stroke="#1a1a1a" stroke-width="0.75"/>
<circle cx="563" cy="256" r="1.8" fill="#fff" stroke="#1a1a1a" stroke-width="0.75"/>
<circle cx="560.05" cy="263.9" r="1.8" fill="#fff" stroke="#1a1a1a" stroke-width="0.75"/>
<circle cx="565.95" cy="263.9" r="1.8" fill="#fff" stroke="#1a1a1a" stroke-width="0.75"/>
<circle cx="563" cy="264.7" r="1.8" fill="#fff" stroke="#1a1a1a" stroke-width="0.75"/>
<circle cx="563" cy="268.9" r="1.8" fill="#fff" stroke="#1a1a1a" stroke-width="0.75"/>
<circle cx="563" cy="273.9" r="1.8" fill="#fff" stroke="#1a1a1a" stroke-width="0.75"/>
<circle cx="566" cy="275.4" r="1.8" fill="#fff" stroke="#1a1a1a" stroke-width="0.75"/>
<circle cx="562" cy="279.4" r="1.8" fill="#fff" stroke="#1a1a1a" stroke-width="0.75"/>
<circle cx="564" cy="279.4" r="1.8" fill="#fff" stroke="#1a1a1a" stroke-width="0.75"/>
<circle cx="563" cy="281.4" r="1.8" fill="#fff" stroke="#1a1a1a" stroke-width="0.75"/>
<circle cx="560.2" cy="284" r="1.8" fill="#fff" stroke="#1a1a1a" stroke-width="0.75"/>
<circle cx="563" cy="284" r="1.8" fill="#fff" stroke="#1a1a1a" stroke-width="0.75"/>
<circle cx="565.8" cy="284" r="1.8" fill="#fff" stroke="#1a1a1a" stroke-width="0.75"/>
<circle cx="562.2" cy="290.2" r="1.8" fill="#fff" stroke="#1a1a1a" stroke-width="0.75"/>
<circle cx="563.8" cy="290.2" r="1.8" fill="#fff" stroke="#1a1a1a" stroke-width="0.75"/>
<circle cx="563" cy="298.7" r="1.8" fill="#fff" stroke="#1a1a1a" stroke-width="0.75"/>
<circle cx="614" cy="225.9" r="1.8" fill="#fff" stroke="#1a1a1a" stroke-width="0.75"/>
<circle cx="613.2" cy="232.3" r="1.8" fill="#fff" stroke="#1a1a1a" stroke-width="0.75"/>
<circle cx="614.8" cy="232.3" r="1.8" fill="#fff" stroke="#1a1a1a" stroke-width="0.75"/>
<circle cx="612" cy="238" r="1.8" fill="#fff" stroke="#1a1a1a" stroke-width="0.75"/>
<circle cx="614" cy="238" r="1.8" fill="#fff" stroke="#1a1a1a" stroke-width="0.75"/>
<circle cx="616" cy="238" r="1.8" fill="#fff" stroke="#1a1a1a" stroke-width="0.75"/>
<circle cx="613" cy="240" r="1.8" fill="#fff" stroke="#1a1a1a" stroke-width="0.75"/>
<circle cx="615" cy="240" r="1.8" fill="#fff" stroke="#1a1a1a" stroke-width="0.75"/>
<circle cx="614" cy="247.6" r="1.8" fill="#fff" stroke="#1a1a1a" stroke-width="0.75"/>
<circle cx="614" cy="250.7" r="1.8" fill="#fff" stroke="#1a1a1a" stroke-width="0.75"/>
<circle cx="613.2" cy="255" r="1.8" fill="#fff" stroke="#1a1a1a" stroke-width="0.75"/>
<circle cx="614.8" cy="255" r="1.8" fill="#fff" stroke="#1a1a1a" stroke-width="0.75"/>
<circle cx="614" cy="263.6" r="1.8" fill="#fff" stroke="#1a1a1a" stroke-width="0.75"/>
<circle cx="614" cy="272.8" r="1.8" fill="#fff" stroke="#1a1a1a" stroke-width="0.75"/>
<circle cx="614" cy="275.7" r="1.8" fill="#fff" stroke="#1a1a1a" stroke-width="0.75"/>
<circle cx="614" cy="290.2" r="1.8" fill="#fff" stroke="#1a1a1a" stroke-width="0.75"/>
<circle cx="614" cy="294.9" r="1.8" fill="#fff" stroke="#1a1a1a" stroke-width="0.75"/>
<circle cx="613.2" cy="297.1" r="1.8" fill="#fff" stroke="#1a1a1a" stroke-width="0.75"/>
<circle cx="614.8" cy="297.1" r="1.8" fill="#fff" stroke="#1a1a1a" stroke-width="0.75"/>
<circle cx="611.8" cy="299.1" r="1.8" fill="#fff" stroke="#1a1a1a" stroke-width="0.75"/>
<circle cx="614" cy="299.1" r="1.8" fill="#fff" stroke="#1a1a1a" stroke-width="0.75"/>
<circle cx="616.2" cy="299.1" r="1.8" fill="#fff" stroke="#1a1a1a" stroke-width="0.75"/>
<circle cx="614" cy="301.7" r="1.8" fill="#fff" stroke="#1a1a1a" stroke-width="0.75"/>
<text x="0.3" y="368.9" font-size="9" text-anchor="start" fill="#231f20" textLength="5" lengthAdjust="spacingAndGlyphs">h</text>
<line x1="28.5" y1="376.7" x2="28.5" y2="507.2" stroke="#444" stroke-width="1"/>
<line x1="28.8" y1="377.5" x2="30.8" y2="377.5" stroke="#3a3a3a" stroke-width="0.8"/>
<text x="24.9" y="379.5" font-size="9.54" text-anchor="end" fill="#231f20" textLength="9.31" lengthAdjust="spacingAndGlyphs">35</text>
<line x1="28.8" y1="393.5" x2="30.8" y2="393.5" stroke="#3a3a3a" stroke-width="0.8"/>
<text x="24.9" y="395.8" font-size="9.54" text-anchor="end" fill="#231f20" textLength="9.31" lengthAdjust="spacingAndGlyphs">30</text>
<line x1="28.8" y1="409.5" x2="30.8" y2="409.5" stroke="#3a3a3a" stroke-width="0.8"/>
<text x="24.9" y="412.1" font-size="9.54" text-anchor="end" fill="#231f20" textLength="9.31" lengthAdjust="spacingAndGlyphs">25</text>
<line x1="28.8" y1="426.5" x2="30.8" y2="426.5" stroke="#3a3a3a" stroke-width="0.8"/>
<text x="24.9" y="428.4" font-size="9.54" text-anchor="end" fill="#231f20" textLength="9.31" lengthAdjust="spacingAndGlyphs">20</text>
<line x1="28.8" y1="442.5" x2="30.8" y2="442.5" stroke="#3a3a3a" stroke-width="0.8"/>
<text x="24.9" y="444.7" font-size="9.54" text-anchor="end" fill="#231f20" textLength="9.31" lengthAdjust="spacingAndGlyphs">15</text>
<line x1="28.8" y1="458.5" x2="30.8" y2="458.5" stroke="#3a3a3a" stroke-width="0.8"/>
<text x="24.9" y="461" font-size="9.54" text-anchor="end" fill="#231f20" textLength="9.31" lengthAdjust="spacingAndGlyphs">10</text>
<line x1="28.8" y1="474.5" x2="30.8" y2="474.5" stroke="#3a3a3a" stroke-width="0.8"/>
<text x="24.9" y="477.3" font-size="9.54" text-anchor="end" fill="#231f20" textLength="4.65" lengthAdjust="spacingAndGlyphs">5</text>
<line x1="28.8" y1="491.5" x2="30.8" y2="491.5" stroke="#3a3a3a" stroke-width="0.8"/>
<text x="24.9" y="493.6" font-size="9.54" text-anchor="end" fill="#231f20" textLength="4.65" lengthAdjust="spacingAndGlyphs">0</text>
<line x1="28.8" y1="507.5" x2="30.8" y2="507.5" stroke="#3a3a3a" stroke-width="0.8"/>
<text x="24.9" y="509.9" font-size="9.54" text-anchor="end" fill="#231f20" textLength="7.44" lengthAdjust="spacingAndGlyphs">-5</text>
<line x1="28.3" y1="507.5" x2="222.1" y2="507.5" stroke="#3a3a3a" stroke-width="1"/>
<line x1="50.5" y1="507.2" x2="50.5" y2="505.2" stroke="#3a3a3a" stroke-width="0.8"/>
<text x="50.6" y="519.5" font-size="9.54" text-anchor="middle" fill="#231f20" textLength="9.31" lengthAdjust="spacingAndGlyphs">20</text>
<line x1="94.5" y1="507.2" x2="94.5" y2="505.2" stroke="#3a3a3a" stroke-width="0.8"/>
<text x="94.2" y="519.5" font-size="9.54" text-anchor="middle" fill="#231f20" textLength="9.31" lengthAdjust="spacingAndGlyphs">60</text>
<line x1="137.5" y1="507.2" x2="137.5" y2="505.2" stroke="#3a3a3a" stroke-width="0.8"/>
<text x="137.8" y="519.5" font-size="9.54" text-anchor="middle" fill="#231f20" textLength="13.96" lengthAdjust="spacingAndGlyphs">100</text>
<line x1="181.5" y1="507.2" x2="181.5" y2="505.2" stroke="#3a3a3a" stroke-width="0.8"/>
<text x="181.4" y="519.5" font-size="9.54" text-anchor="middle" fill="#231f20" textLength="13.96" lengthAdjust="spacingAndGlyphs">140</text>
<text x="119.2" y="533" font-size="9" text-anchor="middle" fill="#231f20" textLength="62.01" lengthAdjust="spacingAndGlyphs">Frequency (Hz)</text>
<text transform="translate(9.4 444.7) rotate(-90)" x="0" y="0" font-size="9" text-anchor="middle" fill="#231f20" textLength="81.54" lengthAdjust="spacingAndGlyphs">Absolute power (dB)</text>
<polyline points="30,393.8 30.31,393.77 30.77,393.72 31.3,393.6 31.91,393.26 32.59,392.86 33.2,392.8 33.61,393 33.96,393.54 34.5,395.1 35.37,398.21 36.45,402.33 37.6,406.5 38.81,410.54 40.11,414.64 41.4,418.4 42.62,421.66 43.84,424.59 45.2,427.3 46.68,429.72 48.3,431.92 50.2,434.2 52.4,436.71 54.89,439.29 57.8,441.8 61.32,444.17 65.27,446.47 69.2,448.7 73.2,451.05 77.2,453.34 80.5,455 82.76,455.74 84.32,455.87 85.6,455.7 86.6,455.31 87.32,454.64 88.1,453.8 89.09,452.53 90.14,451.09 91.2,450.4 92.24,450.9 93.29,452.16 94.4,453.8 95.62,455.99 96.91,458.57 98.2,460.7 99.5,462 100.79,462.84 102,463.5 102.99,463.97 103.88,464.26 105,464.7 106.38,465.36 107.98,466.16 110,467.2 112.33,468.53 115.08,470.11 118.8,471.9 123.99,474.04 130.14,476.39 136.3,478.5 142.46,480.18 148.61,481.62 153.8,482.9 157.06,484.01 159.35,484.97 162.6,485.9 167.76,486.81 173.87,487.69 180,488.7 185.69,489.92 191.41,491.27 197.6,492.6 205.39,494.01 213.66,495.42 219.5,496.4" fill="none" stroke="#c0c0c0" stroke-width="2.4" stroke-linejoin="round" stroke-linecap="round"/>
<polyline points="30,393.8 30.68,394.02 31.64,394.4 32.6,395.3 33.39,396.82 34.17,398.86 35.1,401.4 36.23,404.58 37.5,408.27 38.9,412.1 40.43,416.14 42.09,420.33 43.9,424.1 45.9,427.19 48.05,429.85 50.2,432.3 52.2,434.59 54.21,436.66 56.5,438.6 59.23,440.44 62.25,442.14 65.4,443.7 68.75,445.1 72.23,446.35 75.5,447.5 78.56,448.82 81.41,450.04 83.7,450.4 85.12,449.47 85.98,447.69 86.8,445.6 87.73,442.85 88.63,439.79 89.6,438 90.75,438.24 91.97,439.74 93.1,441.8 94.01,444.43 94.83,447.61 95.7,450.6 96.58,453.21 97.52,455.62 98.8,457.6 100.68,458.93 102.91,459.82 105,460.7 106.61,461.59 108.1,462.47 110,463.7 112.33,465.47 115.08,467.59 118.8,469.8 124.31,472.23 130.8,474.76 136.3,476.8 140.01,478.12 142.74,478.96 145,479.4 146.74,479.2 148,478.6 149.4,478.5 151.1,479.35 152.94,480.69 155,482 157.34,483.13 159.91,484.23 162.6,485.2 165.29,486 168.09,486.67 171.3,487.3 175.07,487.84 179.24,488.34 183.6,489 187.85,489.91 192.29,490.99 197.6,492.2 205.13,493.74 213.53,495.41 219.5,496.6" fill="none" stroke="#ffb0ff" stroke-width="2.4" stroke-linejoin="round" stroke-linecap="round"/>
<polyline points="88.5,441 89.6,436.5 91,439" fill="none" stroke="#ffb0ff" stroke-width="3" stroke-linejoin="round" stroke-linecap="round"/>
<polyline points="30,393.8 30.31,393.77 30.77,393.72 31.3,393.6 31.91,393.26 32.59,392.86 33.2,392.8 33.61,393 33.96,393.54 34.5,395.1 35.37,398.21 36.45,402.33 37.6,406.5 38.81,410.54 40.11,414.64 41.4,418.4 42.62,421.66 43.84,424.59 45.2,427.3 46.68,429.72 48.3,431.92 50.2,434.2 52.4,436.71 54.89,439.29 57.8,441.8 61.32,444.17 65.27,446.47 69.2,448.7 73.2,451.05 77.2,453.34 80.5,455 82.76,455.74 84.32,455.87 85.6,455.7 86.6,455.31 87.32,454.64 88.1,453.8 89.09,452.53 90.14,451.09 91.2,450.4 92.24,450.9 93.29,452.16 94.4,453.8 95.62,455.99 96.91,458.57 98.2,460.7 99.5,462 100.79,462.84 102,463.5 102.99,463.97 103.88,464.26 105,464.7 106.38,465.36 107.98,466.16 110,467.2 112.33,468.53 115.08,470.11 118.8,471.9 123.99,474.04 130.14,476.39 136.3,478.5 142.46,480.18 148.61,481.62 153.8,482.9 157.06,484.01 159.35,484.97 162.6,485.9 167.76,486.81 173.87,487.69 180,488.7 185.69,489.92 191.41,491.27 197.6,492.6 205.39,494.01 213.66,495.42 219.5,496.4" fill="none" stroke="#1a1a1a" stroke-width="1.2" stroke-linejoin="round" stroke-linecap="round"/>
<polyline points="30,393.8 30.68,394.02 31.64,394.4 32.6,395.3 33.39,396.82 34.17,398.86 35.1,401.4 36.23,404.58 37.5,408.27 38.9,412.1 40.43,416.14 42.09,420.33 43.9,424.1 45.9,427.19 48.05,429.85 50.2,432.3 52.2,434.59 54.21,436.66 56.5,438.6 59.23,440.44 62.25,442.14 65.4,443.7 68.75,445.1 72.23,446.35 75.5,447.5 78.56,448.82 81.41,450.04 83.7,450.4 85.12,449.47 85.98,447.69 86.8,445.6 87.73,442.85 88.63,439.79 89.6,438 90.75,438.24 91.97,439.74 93.1,441.8 94.01,444.43 94.83,447.61 95.7,450.6 96.58,453.21 97.52,455.62 98.8,457.6 100.68,458.93 102.91,459.82 105,460.7 106.61,461.59 108.1,462.47 110,463.7 112.33,465.47 115.08,467.59 118.8,469.8 124.31,472.23 130.8,474.76 136.3,476.8 140.01,478.12 142.74,478.96 145,479.4 146.74,479.2 148,478.6 149.4,478.5 151.1,479.35 152.94,480.69 155,482 157.34,483.13 159.91,484.23 162.6,485.2 165.29,486 168.09,486.67 171.3,487.3 175.07,487.84 179.24,488.34 183.6,489 187.85,489.91 192.29,490.99 197.6,492.2 205.13,493.74 213.53,495.41 219.5,496.6" fill="none" stroke="#ff0000" stroke-width="1.1" stroke-linejoin="round" stroke-linecap="round"/>
<line x1="32.8" y1="499.6" x2="35.2" y2="499.6" stroke="#ff00ff" stroke-width="1.4"/>
<line x1="60.9" y1="499.6" x2="93.5" y2="499.6" stroke="#ff00ff" stroke-width="1.4"/>
<line x1="98.2" y1="499.6" x2="122" y2="499.6" stroke="#ff00ff" stroke-width="1.4"/>
<line x1="123.6" y1="499.6" x2="126.3" y2="499.6" stroke="#ff00ff" stroke-width="1.4"/>
<line x1="127.9" y1="499.6" x2="128.9" y2="499.6" stroke="#ff00ff" stroke-width="1.4"/>
<text x="107.3" y="385" font-size="9" text-anchor="start" fill="#231f20" textLength="32.5" lengthAdjust="spacingAndGlyphs">Juvenile</text>
<rect x="146" y="392.3" width="10.9" height="7.8" fill="#ffb8ff" stroke="none" stroke-width="1"/>
<line x1="146" y1="396.5" x2="156.9" y2="396.5" stroke="#ff0000" stroke-width="1"/>
<rect x="146" y="404.7" width="10.9" height="8.2" fill="#c8c8c8" stroke="none" stroke-width="1"/>
<line x1="146" y1="408.5" x2="156.9" y2="408.5" stroke="#444" stroke-width="1.2"/>
<text x="159.3" y="399.6" font-size="9" text-anchor="start" fill="#231f20" textLength="21" lengthAdjust="spacingAndGlyphs">Fmr1</text>
<text x="180" y="396.3" font-size="5.2" text-anchor="start" fill="#231f20" textLength="5.78" lengthAdjust="spacingAndGlyphs">-/y</text>
<text x="188.6" y="399.6" font-size="9" text-anchor="start" fill="#231f20" textLength="19" lengthAdjust="spacingAndGlyphs">(KO)</text>
<text x="159.3" y="412.3" font-size="9" text-anchor="start" fill="#231f20" textLength="59.3" lengthAdjust="spacingAndGlyphs">Wild type (WT)</text>
<text x="161.7" y="434.6" font-size="9" text-anchor="start" fill="#231f20" textLength="25.4" lengthAdjust="spacingAndGlyphs">L4 LFP</text>
<path d="M193.2 429.9 L216 430.6 L216 447.4 L193.2 445.1 Z" fill="#b0b0b0" stroke="#444" stroke-width="0.9"/>
<text x="204.5" y="461.5" font-size="9" text-anchor="middle" fill="#231f20" textLength="19" lengthAdjust="spacingAndGlyphs">Gray</text>
<text x="204.6" y="471.4" font-size="9" text-anchor="middle" fill="#231f20" textLength="25.7" lengthAdjust="spacingAndGlyphs">screen</text>
<defs><linearGradient id="cylh" x1="0" y1="0" x2="0" y2="1"><stop offset="0" stop-color="#9a9a9a"/><stop offset="0.45" stop-color="#e4e4e4"/><stop offset="1" stop-color="#8a8a8a"/></linearGradient><linearGradient id="cylbh" x1="0" y1="0" x2="0" y2="1"><stop offset="0" stop-color="#606060"/><stop offset="0.45" stop-color="#a0a0a0"/><stop offset="1" stop-color="#6a6a6a"/></linearGradient></defs>
<rect x="173.5" y="443.2" width="2.2" height="8" fill="#8a8a8a"/>
<path d="M176.5 439.2 q5.5 -0.5 8.5 5" stroke="#4a8a5a" stroke-width="1.3" fill="none"/>
<g transform="translate(164.2 460.2) rotate(-27)">
<rect x="0" y="-6" width="21.5" height="12" fill="url(#cylh)"/>
<rect x="4.5" y="-6.3" width="7.5" height="12.6" rx="1" fill="url(#cylbh)"/>
<ellipse cx="21.5" cy="0" rx="2" ry="6" fill="#a8a8a8"/>
<ellipse cx="0" cy="0" rx="3.8" ry="6" fill="#eeeeee" stroke="#b8b8b8" stroke-width="0.5"/>
<line x1="0" y1="0" x2="2.2" y2="2.2" stroke="#d09070" stroke-width="0.5"/>
</g>
<rect x="181.7" y="444.7" width="5" height="4.5" fill="#5e4e36" transform="rotate(-20 184.2 447.2)"/>
<circle cx="182.7" cy="448.2" r="0.9" fill="#d09060"/>
<circle cx="185.7" cy="445.7" r="0.9" fill="#d09060"/>
<line x1="186.2" y1="447.2" x2="199.7" y2="449.2" stroke="#666" stroke-width="0.6"/>
<text x="238.3" y="369.1" font-size="9" text-anchor="start" fill="#231f20" textLength="2" lengthAdjust="spacingAndGlyphs">i</text>
<line x1="264.5" y1="376.2" x2="264.5" y2="507.2" stroke="#4a4a4a" stroke-width="1"/>
<line x1="264.3" y1="377.5" x2="266.3" y2="377.5" stroke="#3a3a3a" stroke-width="0.8"/>
<text x="261" y="379.7" font-size="9.54" text-anchor="end" fill="#231f20" textLength="9.31" lengthAdjust="spacingAndGlyphs">35</text>
<line x1="264.3" y1="393.5" x2="266.3" y2="393.5" stroke="#3a3a3a" stroke-width="0.8"/>
<text x="261" y="396" font-size="9.54" text-anchor="end" fill="#231f20" textLength="9.31" lengthAdjust="spacingAndGlyphs">30</text>
<line x1="264.3" y1="409.5" x2="266.3" y2="409.5" stroke="#3a3a3a" stroke-width="0.8"/>
<text x="261" y="412.3" font-size="9.54" text-anchor="end" fill="#231f20" textLength="9.31" lengthAdjust="spacingAndGlyphs">25</text>
<line x1="264.3" y1="426.5" x2="266.3" y2="426.5" stroke="#3a3a3a" stroke-width="0.8"/>
<text x="261" y="428.6" font-size="9.54" text-anchor="end" fill="#231f20" textLength="9.31" lengthAdjust="spacingAndGlyphs">20</text>
<line x1="264.3" y1="442.5" x2="266.3" y2="442.5" stroke="#3a3a3a" stroke-width="0.8"/>
<text x="261" y="444.9" font-size="9.54" text-anchor="end" fill="#231f20" textLength="9.31" lengthAdjust="spacingAndGlyphs">15</text>
<line x1="264.3" y1="458.5" x2="266.3" y2="458.5" stroke="#3a3a3a" stroke-width="0.8"/>
<text x="261" y="461.2" font-size="9.54" text-anchor="end" fill="#231f20" textLength="9.31" lengthAdjust="spacingAndGlyphs">10</text>
<line x1="264.3" y1="474.5" x2="266.3" y2="474.5" stroke="#3a3a3a" stroke-width="0.8"/>
<text x="261" y="477.5" font-size="9.54" text-anchor="end" fill="#231f20" textLength="4.65" lengthAdjust="spacingAndGlyphs">5</text>
<line x1="264.3" y1="491.5" x2="266.3" y2="491.5" stroke="#3a3a3a" stroke-width="0.8"/>
<text x="261" y="493.8" font-size="9.54" text-anchor="end" fill="#231f20" textLength="4.65" lengthAdjust="spacingAndGlyphs">0</text>
<line x1="264.3" y1="507.5" x2="266.3" y2="507.5" stroke="#3a3a3a" stroke-width="0.8"/>
<text x="261" y="510.1" font-size="9.54" text-anchor="end" fill="#231f20" textLength="7.44" lengthAdjust="spacingAndGlyphs">-5</text>
<line x1="264" y1="507.5" x2="456.3" y2="507.5" stroke="#3a3a3a" stroke-width="1"/>
<line x1="286.5" y1="507.2" x2="286.5" y2="505.2" stroke="#3a3a3a" stroke-width="0.8"/>
<text x="286.1" y="519.5" font-size="9.54" text-anchor="middle" fill="#231f20" textLength="9.31" lengthAdjust="spacingAndGlyphs">20</text>
<line x1="329.5" y1="507.2" x2="329.5" y2="505.2" stroke="#3a3a3a" stroke-width="0.8"/>
<text x="329.7" y="519.5" font-size="9.54" text-anchor="middle" fill="#231f20" textLength="9.31" lengthAdjust="spacingAndGlyphs">60</text>
<line x1="373.5" y1="507.2" x2="373.5" y2="505.2" stroke="#3a3a3a" stroke-width="0.8"/>
<text x="373.3" y="519.5" font-size="9.54" text-anchor="middle" fill="#231f20" textLength="13.96" lengthAdjust="spacingAndGlyphs">100</text>
<line x1="416.5" y1="507.2" x2="416.5" y2="505.2" stroke="#3a3a3a" stroke-width="0.8"/>
<text x="416.9" y="519.5" font-size="9.54" text-anchor="middle" fill="#231f20" textLength="13.96" lengthAdjust="spacingAndGlyphs">140</text>
<text x="355.6" y="533" font-size="9" text-anchor="middle" fill="#231f20" textLength="62.01" lengthAdjust="spacingAndGlyphs">Frequency (Hz)</text>
<text transform="translate(247.2 441.5) rotate(-90)" x="0" y="0" font-size="9" text-anchor="middle" fill="#231f20" textLength="84.03" lengthAdjust="spacingAndGlyphs">Aperiodic power (dB)</text>
<polyline points="266.1,396.65 266.6,398.07 267.1,399.47 267.6,400.87 268.1,402.25 268.6,403.62 269.1,404.99 269.6,406.35 270.1,407.7 270.6,409.02 271.1,410.34 271.6,411.66 272.1,413 272.6,414.33 273.1,415.66 273.6,416.98 274.1,418.27 274.6,419.53 275.1,420.76 275.6,421.95 276.1,423.08 276.6,424.15 277.1,425.18 277.6,426.18 278.1,427.15 278.6,428.1 279.1,429.03 279.6,429.93 280.1,430.82 280.6,431.68 281.1,432.52 281.6,433.35 282.1,434.16 282.6,434.95 283.1,435.73 283.6,436.5 284.1,437.25 284.6,437.99 285.1,438.73 285.6,439.45 286.1,440.16 286.6,440.86 287.1,441.54 287.6,442.21 288.1,442.87 288.6,443.51 289.1,444.13 289.6,444.74 290.1,445.33 290.6,445.89 291.1,446.44 291.6,446.97 292.1,447.5 292.6,448.01 293.1,448.51 293.6,449.01 294.1,449.5 294.6,449.98 295.1,450.45 295.6,450.92 296.1,451.38 296.6,451.83 297.1,452.27 297.6,452.71 298.1,453.14 298.6,453.57 299.1,453.99 299.6,454.4 300.1,454.81 302.1,456.4 304.1,457.91 306.1,459.37 308.1,460.76 310.1,462.11 312.1,463.39 314.1,464.62 316.1,465.79 318.1,466.92 320.1,467.99 322.1,469.02 324.1,470.02 326.1,470.97 328.1,471.89 330.1,472.77 332.1,473.6 334.1,474.4 336.1,475.16 338.1,475.89 340.1,476.58 342.1,477.24 344.1,477.88 346.1,478.5 348.1,479.11 350.1,479.7 352.1,480.27 354.1,480.83 356.1,481.36 358.1,481.89 360.1,482.39 362.1,482.87 364.1,483.35 366.1,483.81 368.1,484.26 370.1,484.71 372.1,485.14 374.1,485.57 376.1,486 378.1,486.41 380.1,486.82 382.1,487.23 384.1,487.63 386.1,488.03 388.1,488.43 390.1,488.82 392.1,489.21 394.1,489.6 396.1,489.99 398.1,490.38 400.1,490.77 402.1,491.16 404.1,491.54 406.1,491.92 408.1,492.3 410.1,492.68 412.1,493.05 414.1,493.42 416.1,493.79 418.1,494.15 420.1,494.52 422.1,494.88 424.1,495.24 426.1,495.6 428.1,495.95 430.1,496.31 432.1,496.66 434.1,497.01 436.1,497.37 438.1,497.72 440.1,498.07 442.1,498.42 444.1,498.76 446.1,499.1 448.1,499.44 450.1,499.78 452.1,500.12 454.1,500.45" fill="none" stroke="#f6c0ec" stroke-width="2.4" stroke-linejoin="round" stroke-linecap="round"/>
<polyline points="266.1,396.65 266.6,398.07 267.1,399.47 267.6,400.87 268.1,402.25 268.6,403.62 269.1,404.99 269.6,406.35 270.1,407.7 270.6,409.02 271.1,410.34 271.6,411.66 272.1,413 272.6,414.33 273.1,415.66 273.6,416.98 274.1,418.27 274.6,419.53 275.1,420.76 275.6,421.95 276.1,423.08 276.6,424.15 277.1,425.18 277.6,426.18 278.1,427.15 278.6,428.1 279.1,429.03 279.6,429.93 280.1,430.82 280.6,431.68 281.1,432.52 281.6,433.35 282.1,434.16 282.6,434.95 283.1,435.73 283.6,436.5 284.1,437.25 284.6,437.99 285.1,438.73 285.6,439.45 286.1,440.16 286.6,440.86 287.1,441.54 287.6,442.21 288.1,442.87 288.6,443.51 289.1,444.13 289.6,444.74 290.1,445.33 290.6,445.89 291.1,446.44 291.6,446.97 292.1,447.5 292.6,448.01 293.1,448.51 293.6,449.01 294.1,449.5 294.6,449.98 295.1,450.45 295.6,450.92 296.1,451.38 296.6,451.83 297.1,452.27 297.6,452.71 298.1,453.14 298.6,453.57 299.1,453.99 299.6,454.4 300.1,454.81 302.1,456.4 304.1,457.91 306.1,459.37 308.1,460.76 310.1,462.11 312.1,463.39 314.1,464.62 316.1,465.79 318.1,466.92 320.1,467.99 322.1,469.02 324.1,470.02 326.1,470.97 328.1,471.89 330.1,472.77 332.1,473.6 334.1,474.4 336.1,475.16 338.1,475.89 340.1,476.58 342.1,477.24 344.1,477.88 346.1,478.5 348.1,479.11 350.1,479.7 352.1,480.27 354.1,480.83 356.1,481.36 358.1,481.89 360.1,482.39 362.1,482.87 364.1,483.35 366.1,483.81 368.1,484.26 370.1,484.71 372.1,485.14 374.1,485.57 376.1,486 378.1,486.41 380.1,486.82 382.1,487.23 384.1,487.63 386.1,488.03 388.1,488.43 390.1,488.82 392.1,489.21 394.1,489.6 396.1,489.99 398.1,490.38 400.1,490.77 402.1,491.16 404.1,491.54 406.1,491.92 408.1,492.3 410.1,492.68 412.1,493.05 414.1,493.42 416.1,493.79 418.1,494.15 420.1,494.52 422.1,494.88 424.1,495.24 426.1,495.6 428.1,495.95 430.1,496.31 432.1,496.66 434.1,497.01 436.1,497.37 438.1,497.72 440.1,498.07 442.1,498.42 444.1,498.76 446.1,499.1 448.1,499.44 450.1,499.78 452.1,500.12 454.1,500.45" fill="none" stroke="#ff1a1a" stroke-width="0.9" stroke-linejoin="round" stroke-linecap="round"/>
<polyline points="266.1,396.1 266.6,397.52 267.1,398.92 267.6,400.32 268.1,401.7 268.6,403.07 269.1,404.44 269.6,405.8 270.1,407.15 270.6,408.47 271.1,409.79 271.6,411.11 272.1,412.45 272.6,413.78 273.1,415.11 273.6,416.43 274.1,417.72 274.6,418.98 275.1,420.21 275.6,421.4 276.1,422.53 276.6,423.6 277.1,424.63 277.6,425.63 278.1,426.6 278.6,427.55 279.1,428.48 279.6,429.38 280.1,430.27 280.6,431.13 281.1,431.97 281.6,432.8 282.1,433.61 282.6,434.4 283.1,435.18 283.6,435.95 284.1,436.7 284.6,437.44 285.1,438.18 285.6,438.9 286.1,439.61 286.6,440.31 287.1,440.99 287.6,441.66 288.1,442.32 288.6,442.96 289.1,443.58 289.6,444.19 290.1,444.78 290.6,445.34 291.1,445.89 291.6,446.42 292.1,446.95 292.6,447.46 293.1,447.96 293.6,448.46 294.1,448.95 294.6,449.43 295.1,449.9 295.6,450.37 296.1,450.83 296.6,451.28 297.1,451.72 297.6,452.16 298.1,452.59 298.6,453.02 299.1,453.44 299.6,453.85 300.1,454.26 302.1,455.85 304.1,457.36 306.1,458.82 308.1,460.21 310.1,461.56 312.1,462.84 314.1,464.07 316.1,465.24 318.1,466.37 320.1,467.44 322.1,468.47 324.1,469.47 326.1,470.42 328.1,471.34 330.1,472.22 332.1,473.05 334.1,473.85 336.1,474.61 338.1,475.34 340.1,476.03 342.1,476.69 344.1,477.33 346.1,477.95 348.1,478.56 350.1,479.15 352.1,479.72 354.1,480.28 356.1,480.81 358.1,481.34 360.1,481.84 362.1,482.32 364.1,482.8 366.1,483.26 368.1,483.71 370.1,484.16 372.1,484.59 374.1,485.02 376.1,485.45 378.1,485.86 380.1,486.27 382.1,486.68 384.1,487.08 386.1,487.48 388.1,487.88 390.1,488.27 392.1,488.66 394.1,489.05 396.1,489.44 398.1,489.83 400.1,490.22 402.1,490.61 404.1,490.99 406.1,491.37 408.1,491.75 410.1,492.13 412.1,492.5 414.1,492.87 416.1,493.24 418.1,493.6 420.1,493.97 422.1,494.33 424.1,494.69 426.1,495.05 428.1,495.4 430.1,495.76 432.1,496.11 434.1,496.46 436.1,496.82 438.1,497.17 440.1,497.52 442.1,497.87 444.1,498.21 446.1,498.55 448.1,498.89 450.1,499.23 452.1,499.57 454.1,499.9" fill="none" stroke="#1a1a1a" stroke-width="0.85" stroke-linejoin="round" stroke-linecap="round"/>
<line x1="330.5" y1="384.5" x2="330.5" y2="449.9" stroke="#5a5a5a" stroke-width="1"/>
<line x1="330.3" y1="449.5" x2="357" y2="449.5" stroke="#5a5a5a" stroke-width="1.1"/>
<line x1="330.8" y1="386.5" x2="332.4" y2="386.5" stroke="#555" stroke-width="0.7"/>
<text x="329.6" y="389.1" font-size="7.84" text-anchor="end" fill="#231f20" textLength="7.65" lengthAdjust="spacingAndGlyphs">38</text>
<line x1="330.8" y1="401.5" x2="332.4" y2="401.5" stroke="#555" stroke-width="0.7"/>
<text x="329.6" y="404.2" font-size="7.84" text-anchor="end" fill="#231f20" textLength="7.65" lengthAdjust="spacingAndGlyphs">34</text>
<line x1="330.8" y1="416.5" x2="332.4" y2="416.5" stroke="#555" stroke-width="0.7"/>
<text x="329.6" y="419.3" font-size="7.84" text-anchor="end" fill="#231f20" textLength="7.65" lengthAdjust="spacingAndGlyphs">30</text>
<line x1="330.8" y1="431.5" x2="332.4" y2="431.5" stroke="#555" stroke-width="0.7"/>
<text x="329.6" y="434.5" font-size="7.84" text-anchor="end" fill="#231f20" textLength="7.65" lengthAdjust="spacingAndGlyphs">26</text>
<line x1="330.8" y1="446.5" x2="332.4" y2="446.5" stroke="#555" stroke-width="0.7"/>
<text x="329.6" y="449.6" font-size="7.84" text-anchor="end" fill="#231f20" textLength="7.65" lengthAdjust="spacingAndGlyphs">22</text>
<line x1="337.5" y1="449.9" x2="337.5" y2="448.4" stroke="#555" stroke-width="0.7"/>
<line x1="351.5" y1="449.9" x2="351.5" y2="448.4" stroke="#555" stroke-width="0.7"/>
<text x="337.6" y="457.8" font-size="7.4" text-anchor="middle" fill="#231f20" textLength="9" lengthAdjust="spacingAndGlyphs">KO</text>
<text x="351.1" y="457.8" font-size="7.4" text-anchor="middle" fill="#231f20" textLength="9.9" lengthAdjust="spacingAndGlyphs">WT</text>
<text transform="translate(318.2 415.6) rotate(-90)" x="0" y="0" font-size="7.4" text-anchor="middle" fill="#231f20" textLength="36" lengthAdjust="spacingAndGlyphs">Offset (dB)</text>
<text x="331.7" y="382.5" font-size="7.4" text-anchor="start" fill="#231f20" textLength="22.83" lengthAdjust="spacingAndGlyphs">p = 0.8</text>
<line x1="337.5" y1="394" x2="337.5" y2="413.8" stroke="#555" stroke-width="1"/>
<line x1="337.5" y1="424.9" x2="337.5" y2="432.8" stroke="#555" stroke-width="1"/>
<line x1="336.1" y1="394.5" x2="339.1" y2="394.5" stroke="#2a2a2a" stroke-width="1"/>
<line x1="336.1" y1="432.5" x2="339.1" y2="432.5" stroke="#2a2a2a" stroke-width="1"/>
<rect x="334.5" y="413.5" width="6" height="11" fill="#ff0000" stroke="#1a1a1a" stroke-width="1"/>
<line x1="334.9" y1="419.5" x2="340.3" y2="419.5" stroke="#1a1a1a" stroke-width="1"/>
<line x1="351.5" y1="391" x2="351.5" y2="413.4" stroke="#555" stroke-width="1"/>
<line x1="351.5" y1="427.4" x2="351.5" y2="442.9" stroke="#555" stroke-width="1"/>
<line x1="349.6" y1="391.5" x2="352.6" y2="391.5" stroke="#2a2a2a" stroke-width="1"/>
<line x1="349.6" y1="442.5" x2="352.6" y2="442.5" stroke="#2a2a2a" stroke-width="1"/>
<rect x="348.5" y="413.5" width="5" height="14" fill="#b3b3b3" stroke="#1a1a1a" stroke-width="1"/>
<line x1="348.4" y1="419.5" x2="353.8" y2="419.5" stroke="#1a1a1a" stroke-width="1"/>
<line x1="383" y1="385.2" x2="383" y2="449.9" stroke="#9a9a9a" stroke-width="1.4"/>
<line x1="382.3" y1="450.2" x2="410.2" y2="450.2" stroke="#9a9a9a" stroke-width="1.5"/>
<line x1="383" y1="393.5" x2="384.6" y2="393.5" stroke="#555" stroke-width="0.7"/>
<text x="381.8" y="395.7" font-size="7.84" text-anchor="end" fill="#231f20" textLength="9.57" lengthAdjust="spacingAndGlyphs">2.4</text>
<line x1="383" y1="404.5" x2="384.6" y2="404.5" stroke="#555" stroke-width="0.7"/>
<text x="381.8" y="407.1" font-size="7.84" text-anchor="end" fill="#231f20" textLength="9.57" lengthAdjust="spacingAndGlyphs">2.2</text>
<line x1="383" y1="415.5" x2="384.6" y2="415.5" stroke="#555" stroke-width="0.7"/>
<text x="381.8" y="418.4" font-size="7.84" text-anchor="end" fill="#231f20" textLength="9.57" lengthAdjust="spacingAndGlyphs">2.0</text>
<line x1="383" y1="426.5" x2="384.6" y2="426.5" stroke="#555" stroke-width="0.7"/>
<text x="381.8" y="429.5" font-size="7.84" text-anchor="end" fill="#231f20" textLength="9.57" lengthAdjust="spacingAndGlyphs">1.8</text>
<line x1="383" y1="438.5" x2="384.6" y2="438.5" stroke="#555" stroke-width="0.7"/>
<text x="381.8" y="440.8" font-size="7.84" text-anchor="end" fill="#231f20" textLength="9.57" lengthAdjust="spacingAndGlyphs">1.6</text>
<line x1="383" y1="449.5" x2="384.6" y2="449.5" stroke="#555" stroke-width="0.7"/>
<text x="381.8" y="452.2" font-size="7.84" text-anchor="end" fill="#231f20" textLength="9.57" lengthAdjust="spacingAndGlyphs">1.4</text>
<line x1="389.5" y1="449.9" x2="389.5" y2="448.4" stroke="#555" stroke-width="0.7"/>
<line x1="403.5" y1="449.9" x2="403.5" y2="448.4" stroke="#555" stroke-width="0.7"/>
<text x="389.8" y="457.8" font-size="7.4" text-anchor="middle" fill="#231f20" textLength="9" lengthAdjust="spacingAndGlyphs">KO</text>
<text x="403" y="457.8" font-size="7.4" text-anchor="middle" fill="#231f20" textLength="9.9" lengthAdjust="spacingAndGlyphs">WT</text>
<text transform="translate(368.2 417.6) rotate(-90)" x="0" y="0" font-size="7.4" text-anchor="middle" fill="#231f20" textLength="33.5" lengthAdjust="spacingAndGlyphs">Slope (au)</text>
<text x="384.9" y="382.5" font-size="7.4" text-anchor="start" fill="#231f20" textLength="22.83" lengthAdjust="spacingAndGlyphs">p = 0.6</text>
<line x1="389.5" y1="393.3" x2="389.5" y2="408.1" stroke="#444" stroke-width="1"/>
<line x1="389.5" y1="420.6" x2="389.5" y2="437.4" stroke="#444" stroke-width="1"/>
<line x1="388.3" y1="393.5" x2="391.3" y2="393.5" stroke="#2a2a2a" stroke-width="1"/>
<line x1="388.3" y1="437.5" x2="391.3" y2="437.5" stroke="#2a2a2a" stroke-width="1"/>
<rect x="387.5" y="408.5" width="5" height="12" fill="#ff0000" stroke="#1a1a1a" stroke-width="1"/>
<line x1="387.1" y1="414.5" x2="392.5" y2="414.5" stroke="#1a1a1a" stroke-width="1"/>
<line x1="403.5" y1="395" x2="403.5" y2="409" stroke="#555" stroke-width="1"/>
<line x1="403.5" y1="421.5" x2="403.5" y2="442" stroke="#555" stroke-width="1"/>
<line x1="401.5" y1="395.5" x2="404.5" y2="395.5" stroke="#2a2a2a" stroke-width="1"/>
<line x1="401.5" y1="442.5" x2="404.5" y2="442.5" stroke="#2a2a2a" stroke-width="1"/>
<rect x="400.5" y="409.5" width="5" height="12" fill="#b3b3b3" stroke="#1a1a1a" stroke-width="1"/>
<line x1="400.15" y1="416.5" x2="405.85" y2="416.5" stroke="#1a1a1a" stroke-width="1"/>
<line x1="429.5" y1="385.2" x2="429.5" y2="449.9" stroke="#5a5a5a" stroke-width="1"/>
<line x1="428.8" y1="449.5" x2="453.8" y2="449.5" stroke="#5a5a5a" stroke-width="1.1"/>
<line x1="429.3" y1="395.5" x2="430.9" y2="395.5" stroke="#555" stroke-width="0.7"/>
<text x="428.1" y="397.9" font-size="7.84" text-anchor="end" fill="#231f20" textLength="3.83" lengthAdjust="spacingAndGlyphs">7</text>
<line x1="429.3" y1="413.5" x2="430.9" y2="413.5" stroke="#555" stroke-width="0.7"/>
<text x="428.1" y="416.1" font-size="7.84" text-anchor="end" fill="#231f20" textLength="3.83" lengthAdjust="spacingAndGlyphs">5</text>
<line x1="429.3" y1="431.5" x2="430.9" y2="431.5" stroke="#555" stroke-width="0.7"/>
<text x="428.1" y="434.2" font-size="7.84" text-anchor="end" fill="#231f20" textLength="3.83" lengthAdjust="spacingAndGlyphs">3</text>
<line x1="429.3" y1="449.5" x2="430.9" y2="449.5" stroke="#555" stroke-width="0.7"/>
<text x="428.1" y="452.2" font-size="7.84" text-anchor="end" fill="#231f20" textLength="3.83" lengthAdjust="spacingAndGlyphs">1</text>
<line x1="436.5" y1="449.9" x2="436.5" y2="448.4" stroke="#555" stroke-width="0.7"/>
<line x1="448.5" y1="449.9" x2="448.5" y2="448.4" stroke="#555" stroke-width="0.7"/>
<text x="436.8" y="457.8" font-size="7.4" text-anchor="middle" fill="#231f20" textLength="9" lengthAdjust="spacingAndGlyphs">KO</text>
<text x="448.6" y="457.8" font-size="7.4" text-anchor="middle" fill="#231f20" textLength="9.9" lengthAdjust="spacingAndGlyphs">WT</text>
<text transform="translate(422.3 417) rotate(-90)" x="0" y="0" font-size="7.4" text-anchor="middle" fill="#231f20" textLength="32" lengthAdjust="spacingAndGlyphs">Knee (Hz)</text>
<text x="434.8" y="382.5" font-size="7.4" text-anchor="start" fill="#231f20" textLength="16.66" lengthAdjust="spacingAndGlyphs">p = 1</text>
<line x1="436.8" y1="399.6" x2="436.8" y2="410.7" stroke="#929292" stroke-width="1.6"/>
<line x1="436.8" y1="425.8" x2="436.8" y2="439" stroke="#929292" stroke-width="1.6"/>
<line x1="435.3" y1="399.5" x2="438.3" y2="399.5" stroke="#2a2a2a" stroke-width="1"/>
<line x1="435.3" y1="439.5" x2="438.3" y2="439.5" stroke="#2a2a2a" stroke-width="1"/>
<rect x="433.5" y="410.5" width="6" height="15" fill="#ff0000" stroke="#1a1a1a" stroke-width="1"/>
<line x1="433.95" y1="419.5" x2="439.65" y2="419.5" stroke="#1a1a1a" stroke-width="1"/>
<line x1="448.5" y1="394.3" x2="448.5" y2="416.3" stroke="#333" stroke-width="1"/>
<line x1="448.5" y1="426.2" x2="448.5" y2="442.3" stroke="#333" stroke-width="1"/>
<line x1="447.1" y1="394.5" x2="450.1" y2="394.5" stroke="#2a2a2a" stroke-width="1"/>
<line x1="447.1" y1="442.5" x2="450.1" y2="442.5" stroke="#2a2a2a" stroke-width="1"/>
<rect x="445.5" y="416.5" width="6" height="10" fill="#b3b3b3" stroke="#1a1a1a" stroke-width="1"/>
<line x1="445.8" y1="420.5" x2="451.4" y2="420.5" stroke="#1a1a1a" stroke-width="1"/>
<text x="468.4" y="370" font-size="9" text-anchor="start" fill="#231f20" textLength="2" lengthAdjust="spacingAndGlyphs">j</text>
<line x1="491.5" y1="376.9" x2="491.5" y2="507.2" stroke="#555" stroke-width="1"/>
<line x1="491.2" y1="384.5" x2="493.2" y2="384.5" stroke="#3a3a3a" stroke-width="0.8"/>
<text x="487.2" y="387.25" font-size="9.54" text-anchor="end" fill="#231f20" textLength="4.65" lengthAdjust="spacingAndGlyphs">7</text>
<line x1="491.2" y1="400.5" x2="493.2" y2="400.5" stroke="#3a3a3a" stroke-width="0.8"/>
<text x="487.2" y="403.3" font-size="9.54" text-anchor="end" fill="#231f20" textLength="4.65" lengthAdjust="spacingAndGlyphs">6</text>
<line x1="491.2" y1="416.5" x2="493.2" y2="416.5" stroke="#3a3a3a" stroke-width="0.8"/>
<text x="487.2" y="419.35" font-size="9.54" text-anchor="end" fill="#231f20" textLength="4.65" lengthAdjust="spacingAndGlyphs">5</text>
<line x1="491.2" y1="432.5" x2="493.2" y2="432.5" stroke="#3a3a3a" stroke-width="0.8"/>
<text x="487.2" y="435.4" font-size="9.54" text-anchor="end" fill="#231f20" textLength="4.65" lengthAdjust="spacingAndGlyphs">4</text>
<line x1="491.2" y1="448.5" x2="493.2" y2="448.5" stroke="#3a3a3a" stroke-width="0.8"/>
<text x="487.2" y="451.45" font-size="9.54" text-anchor="end" fill="#231f20" textLength="4.65" lengthAdjust="spacingAndGlyphs">3</text>
<line x1="491.2" y1="464.5" x2="493.2" y2="464.5" stroke="#3a3a3a" stroke-width="0.8"/>
<text x="487.2" y="467.5" font-size="9.54" text-anchor="end" fill="#231f20" textLength="4.65" lengthAdjust="spacingAndGlyphs">2</text>
<line x1="491.2" y1="480.5" x2="493.2" y2="480.5" stroke="#3a3a3a" stroke-width="0.8"/>
<text x="487.2" y="483.55" font-size="9.54" text-anchor="end" fill="#231f20" textLength="4.65" lengthAdjust="spacingAndGlyphs">1</text>
<line x1="491.2" y1="496.5" x2="493.2" y2="496.5" stroke="#3a3a3a" stroke-width="0.8"/>
<text x="487.2" y="499.6" font-size="9.54" text-anchor="end" fill="#231f20" textLength="4.65" lengthAdjust="spacingAndGlyphs">0</text>
<line x1="491" y1="507.5" x2="683.3" y2="507.5" stroke="#3a3a3a" stroke-width="1"/>
<line x1="512.5" y1="507.2" x2="512.5" y2="505.2" stroke="#3a3a3a" stroke-width="0.8"/>
<text x="512.8" y="519.5" font-size="9.54" text-anchor="middle" fill="#231f20" textLength="9.31" lengthAdjust="spacingAndGlyphs">20</text>
<line x1="556.5" y1="507.2" x2="556.5" y2="505.2" stroke="#3a3a3a" stroke-width="0.8"/>
<text x="556.4" y="519.5" font-size="9.54" text-anchor="middle" fill="#231f20" textLength="9.31" lengthAdjust="spacingAndGlyphs">60</text>
<line x1="600.5" y1="507.2" x2="600.5" y2="505.2" stroke="#3a3a3a" stroke-width="0.8"/>
<text x="600" y="519.5" font-size="9.54" text-anchor="middle" fill="#231f20" textLength="13.96" lengthAdjust="spacingAndGlyphs">100</text>
<line x1="643.5" y1="507.2" x2="643.5" y2="505.2" stroke="#3a3a3a" stroke-width="0.8"/>
<text x="643.6" y="519.5" font-size="9.54" text-anchor="middle" fill="#231f20" textLength="13.96" lengthAdjust="spacingAndGlyphs">140</text>
<text x="583.3" y="533" font-size="9" text-anchor="middle" fill="#231f20" textLength="62.01" lengthAdjust="spacingAndGlyphs">Frequency (Hz)</text>
<text transform="translate(478.3 443.2) rotate(-90)" x="0" y="0" font-size="9" text-anchor="middle" fill="#231f20" textLength="79" lengthAdjust="spacingAndGlyphs">Periodic power (dB)</text>
<polyline points="492.4,495.67 493.5,466.71 494.6,451.36 495.7,443.49 496.8,441.77 497.9,447.28 499,453.45 500.1,461.16 501.2,467.38 502.3,472.58 503.4,476.37 504.5,478.76 505.6,479.52 506.7,479.86 507.8,478.85 508.9,478.54 510,477.21 511.1,478.64 512.2,478.34 513.3,479.4 514.4,479.18 515.5,479.37 516.6,479.91 517.7,478.86 518.8,478.71 519.9,479.17 521,477.52 522.1,475.62 523.2,475.06 524.3,473.64 525.4,471.58 526.5,471 527.6,469.76 528.7,469.13 529.8,468.71 530.9,467.43 532,467.35 533.1,465.83 534.2,465.18 535.3,465.13 536.4,463.81 537.5,463.06 538.6,462.53 539.7,461.66 540.8,460.8 541.9,459.59 543,459.61 544.1,458.97 545.2,457.95 546.3,456.42 547.4,454.65 548.5,452.87 549.6,450.87 550.7,447.6 551.8,441.46 552.9,435.07 554,428.03 555.1,428.55 556.2,434.23 557.3,438.91 558.4,443.12 559.5,448.59 560.6,452.64 561.7,456.42 562.8,457.73 563.9,458.84 565,459.52 566.1,460.5 567.2,460.22 568.3,461.28 569.4,461.11 570.5,461.38 571.6,459.96 572.7,460.2 573.8,460.93 574.9,462.24 576,462.46 577.1,463.8 578.2,464.36 579.3,465.3 580.4,466.34 581.5,467.69 582.6,467.86 583.7,469.17 584.8,468.96 585.9,470.63 587,470.71 588.1,471.25 589.2,472.69 590.3,473.67 591.4,473.43 592.5,474.63 593.6,476.06 594.7,476.23 595.8,476.71 596.9,476.98 598,477.55 599.1,478.86 600.2,479.82 601.3,480.14 602.4,479.75 603.5,479.34 604.6,479.84 605.7,480.54 606.8,480.73 607.9,480.65 609,480.32 610.1,480.83 611.2,480.92 612.3,481.26 613.4,481 614.5,482.03 615.6,482.22 616.7,481.65 617.8,482.16 618.9,483.24 620,482.9 621.1,484.07 622.2,483.93 623.3,484.53 624.4,484.94 625.5,484.73 626.6,485.18 627.7,485.46 628.8,486.22 629.9,486.33 631,485.58 632.1,486.27 633.2,485.46 634.3,485.05 635.4,485.08 636.5,485.5 637.6,484.72 638.7,484.48 639.8,484.44 640.9,484.04 642,483.34 643.1,482.53 644.2,482.4 645.3,482.45 646.4,482.05 647.5,481.68 648.6,481.47 649.7,481.78 650.8,482.66 651.9,482.95 653,482.74 654.1,483.94 655.2,484.51 656.3,484.7 657.4,485.12 658.5,485.41 659.6,485.2 660.7,485.73 661.8,485.42 662.9,485.25 664,485.7 665.1,485.79 666.2,486.64 667.3,486.42 668.4,486.32 669.5,486.49 670.6,486 671.7,486.65 672.8,487.08 673.9,486.97 675,487.03 676.1,487.4 677.2,487.42 678.3,487.94 679.4,487.35 680.5,487.35 681.5,487.9" fill="none" stroke="#c0c0c0" stroke-width="2.6" stroke-linejoin="round" stroke-linecap="round"/>
<polyline points="492.4,495.66 493.5,482.05 494.6,473.42 495.7,467.98 496.8,465.44 497.9,464.38 499,465.33 500.1,468.31 501.2,471.35 502.3,474.3 503.4,475.81 504.5,477.59 505.6,478.55 506.7,479.3 507.8,478.51 508.9,477.15 510,477.3 511.1,476.66 512.2,475.79 513.3,475.33 514.4,474.6 515.5,473.66 516.6,472.67 517.7,470.5 518.8,468.82 519.9,467.17 521,465.31 522.1,464.07 523.2,462.52 524.3,461.49 525.4,459.94 526.5,458.82 527.6,457.37 528.7,456.06 529.8,454.34 530.9,452.69 532,451.95 533.1,450.62 534.2,449.21 535.3,447.86 536.4,446.39 537.5,445.23 538.6,444.11 539.7,442.52 540.8,441.54 541.9,439.43 543,437.95 544.1,435.6 545.2,434.03 546.3,431.48 547.4,427.23 548.5,421.85 549.6,413.63 550.7,403.8 551.8,394.79 552.9,387.37 554,389.29 555.1,395.18 556.2,402.56 557.3,410.55 558.4,418.77 559.5,425.32 560.6,430.85 561.7,434.91 562.8,436.03 563.9,436.94 565,437.41 566.1,438.03 567.2,439.59 568.3,440.04 569.4,441.45 570.5,442.45 571.6,443.32 572.7,444.95 573.8,445.59 574.9,447.22 576,447.87 577.1,449.18 578.2,449.96 579.3,450.93 580.4,452.45 581.5,453.16 582.6,453.53 583.7,454.85 584.8,455.05 585.9,456.07 587,457.4 588.1,458.2 589.2,458.73 590.3,460.52 591.4,460.76 592.5,461.66 593.6,462.91 594.7,463.25 595.8,463.93 596.9,464.43 598,465.14 599.1,466.28 600.2,466.68 601.3,467.67 602.4,468.08 603.5,468.71 604.6,469.72 605.7,469.81 606.8,470.32 607.9,470.82 609,469.85 610.1,468.61 611.2,468.08 612.3,467.32 613.4,467.7 614.5,468.72 615.6,469.96 616.7,470.85 617.8,471.01 618.9,472.64 620,473.59 621.1,474.35 622.2,475.17 623.3,475.85 624.4,476.78 625.5,478.57 626.6,478.75 627.7,479.84 628.8,479.98 629.9,480.92 631,481.08 632.1,481.1 633.2,481.25 634.3,481.93 635.4,481.46 636.5,481.67 637.6,481.98 638.7,482.2 639.8,481.85 640.9,481.32 642,481.64 643.1,480.79 644.2,480.48 645.3,480.58 646.4,480.66 647.5,480.36 648.6,480.7 649.7,481.32 650.8,482.09 651.9,482.33 653,483.13 654.1,484.12 655.2,484.71 656.3,484.91 657.4,485.38 658.5,485.66 659.6,485.54 660.7,485.64 661.8,485.76 662.9,486.65 664,486.54 665.1,486.84 666.2,486.09 667.3,486.72 668.4,486.64 669.5,486.93 670.6,486.64 671.7,487.4 672.8,486.85 673.9,487.76 675,488.44 676.1,488.87 677.2,488.81 678.3,488.79 679.4,488.84 680.5,488.91 681.5,488.5" fill="none" stroke="#ffb8ff" stroke-width="2.4" stroke-linejoin="round" stroke-linecap="round"/>
<polyline points="551.5,392 552.8,384 554.3,388" fill="none" stroke="#ffb0ff" stroke-width="3.2" stroke-linejoin="round" stroke-linecap="round"/>
<polyline points="553.2,431 554.4,424 555.8,430" fill="none" stroke="#b8b8b8" stroke-width="3" stroke-linejoin="round" stroke-linecap="round"/>
<polyline points="492.4,495.67 493.5,466.71 494.6,451.36 495.7,443.49 496.8,441.77 497.9,447.28 499,453.45 500.1,461.16 501.2,467.38 502.3,472.58 503.4,476.37 504.5,478.76 505.6,479.52 506.7,479.86 507.8,478.85 508.9,478.54 510,477.21 511.1,478.64 512.2,478.34 513.3,479.4 514.4,479.18 515.5,479.37 516.6,479.91 517.7,478.86 518.8,478.71 519.9,479.17 521,477.52 522.1,475.62 523.2,475.06 524.3,473.64 525.4,471.58 526.5,471 527.6,469.76 528.7,469.13 529.8,468.71 530.9,467.43 532,467.35 533.1,465.83 534.2,465.18 535.3,465.13 536.4,463.81 537.5,463.06 538.6,462.53 539.7,461.66 540.8,460.8 541.9,459.59 543,459.61 544.1,458.97 545.2,457.95 546.3,456.42 547.4,454.65 548.5,452.87 549.6,450.87 550.7,447.6 551.8,441.46 552.9,435.07 554,428.03 555.1,428.55 556.2,434.23 557.3,438.91 558.4,443.12 559.5,448.59 560.6,452.64 561.7,456.42 562.8,457.73 563.9,458.84 565,459.52 566.1,460.5 567.2,460.22 568.3,461.28 569.4,461.11 570.5,461.38 571.6,459.96 572.7,460.2 573.8,460.93 574.9,462.24 576,462.46 577.1,463.8 578.2,464.36 579.3,465.3 580.4,466.34 581.5,467.69 582.6,467.86 583.7,469.17 584.8,468.96 585.9,470.63 587,470.71 588.1,471.25 589.2,472.69 590.3,473.67 591.4,473.43 592.5,474.63 593.6,476.06 594.7,476.23 595.8,476.71 596.9,476.98 598,477.55 599.1,478.86 600.2,479.82 601.3,480.14 602.4,479.75 603.5,479.34 604.6,479.84 605.7,480.54 606.8,480.73 607.9,480.65 609,480.32 610.1,480.83 611.2,480.92 612.3,481.26 613.4,481 614.5,482.03 615.6,482.22 616.7,481.65 617.8,482.16 618.9,483.24 620,482.9 621.1,484.07 622.2,483.93 623.3,484.53 624.4,484.94 625.5,484.73 626.6,485.18 627.7,485.46 628.8,486.22 629.9,486.33 631,485.58 632.1,486.27 633.2,485.46 634.3,485.05 635.4,485.08 636.5,485.5 637.6,484.72 638.7,484.48 639.8,484.44 640.9,484.04 642,483.34 643.1,482.53 644.2,482.4 645.3,482.45 646.4,482.05 647.5,481.68 648.6,481.47 649.7,481.78 650.8,482.66 651.9,482.95 653,482.74 654.1,483.94 655.2,484.51 656.3,484.7 657.4,485.12 658.5,485.41 659.6,485.2 660.7,485.73 661.8,485.42 662.9,485.25 664,485.7 665.1,485.79 666.2,486.64 667.3,486.42 668.4,486.32 669.5,486.49 670.6,486 671.7,486.65 672.8,487.08 673.9,486.97 675,487.03 676.1,487.4 677.2,487.42 678.3,487.94 679.4,487.35 680.5,487.35 681.5,487.9" fill="none" stroke="#1a1a1a" stroke-width="1.15" stroke-linejoin="round" stroke-linecap="round"/>
<polyline points="492.4,495.66 493.5,482.05 494.6,473.42 495.7,467.98 496.8,465.44 497.9,464.38 499,465.33 500.1,468.31 501.2,471.35 502.3,474.3 503.4,475.81 504.5,477.59 505.6,478.55 506.7,479.3 507.8,478.51 508.9,477.15 510,477.3 511.1,476.66 512.2,475.79 513.3,475.33 514.4,474.6 515.5,473.66 516.6,472.67 517.7,470.5 518.8,468.82 519.9,467.17 521,465.31 522.1,464.07 523.2,462.52 524.3,461.49 525.4,459.94 526.5,458.82 527.6,457.37 528.7,456.06 529.8,454.34 530.9,452.69 532,451.95 533.1,450.62 534.2,449.21 535.3,447.86 536.4,446.39 537.5,445.23 538.6,444.11 539.7,442.52 540.8,441.54 541.9,439.43 543,437.95 544.1,435.6 545.2,434.03 546.3,431.48 547.4,427.23 548.5,421.85 549.6,413.63 550.7,403.8 551.8,394.79 552.9,387.37 554,389.29 555.1,395.18 556.2,402.56 557.3,410.55 558.4,418.77 559.5,425.32 560.6,430.85 561.7,434.91 562.8,436.03 563.9,436.94 565,437.41 566.1,438.03 567.2,439.59 568.3,440.04 569.4,441.45 570.5,442.45 571.6,443.32 572.7,444.95 573.8,445.59 574.9,447.22 576,447.87 577.1,449.18 578.2,449.96 579.3,450.93 580.4,452.45 581.5,453.16 582.6,453.53 583.7,454.85 584.8,455.05 585.9,456.07 587,457.4 588.1,458.2 589.2,458.73 590.3,460.52 591.4,460.76 592.5,461.66 593.6,462.91 594.7,463.25 595.8,463.93 596.9,464.43 598,465.14 599.1,466.28 600.2,466.68 601.3,467.67 602.4,468.08 603.5,468.71 604.6,469.72 605.7,469.81 606.8,470.32 607.9,470.82 609,469.85 610.1,468.61 611.2,468.08 612.3,467.32 613.4,467.7 614.5,468.72 615.6,469.96 616.7,470.85 617.8,471.01 618.9,472.64 620,473.59 621.1,474.35 622.2,475.17 623.3,475.85 624.4,476.78 625.5,478.57 626.6,478.75 627.7,479.84 628.8,479.98 629.9,480.92 631,481.08 632.1,481.1 633.2,481.25 634.3,481.93 635.4,481.46 636.5,481.67 637.6,481.98 638.7,482.2 639.8,481.85 640.9,481.32 642,481.64 643.1,480.79 644.2,480.48 645.3,480.58 646.4,480.66 647.5,480.36 648.6,480.7 649.7,481.32 650.8,482.09 651.9,482.33 653,483.13 654.1,484.12 655.2,484.71 656.3,484.91 657.4,485.38 658.5,485.66 659.6,485.54 660.7,485.64 661.8,485.76 662.9,486.65 664,486.54 665.1,486.84 666.2,486.09 667.3,486.72 668.4,486.64 669.5,486.93 670.6,486.64 671.7,487.4 672.8,486.85 673.9,487.76 675,488.44 676.1,488.87 677.2,488.81 678.3,488.79 679.4,488.84 680.5,488.91 681.5,488.5" fill="none" stroke="#ff0000" stroke-width="1.15" stroke-linejoin="round" stroke-linecap="round"/>
<path d="M492.3 505.6 V438.8 H502.3 V505.6 Z" fill="none" stroke="#6a6a6a" stroke-width="0.8" stroke-dasharray="4 2"/>
<text x="495.9" y="436.4" font-size="7.3" text-anchor="start" fill="#231f20" textLength="13.3" lengthAdjust="spacingAndGlyphs">Pk 1</text>
<line x1="493" y1="500.4" x2="500.3" y2="500.4" stroke="#ff00ff" stroke-width="1.3"/>
<line x1="503.8" y1="500.4" x2="505.8" y2="500.4" stroke="#ff00ff" stroke-width="1.3"/>
<line x1="513.7" y1="500.4" x2="635.8" y2="500.4" stroke="#ff00ff" stroke-width="1.3"/>
<rect x="598.3" y="378.5" width="85.4" height="74.5" fill="#fff" stroke="#6a6a6a" stroke-width="0.9" stroke-dasharray="5 3.2"/>
<line x1="607.5" y1="386.6" x2="607.5" y2="442.3" stroke="#555" stroke-width="1"/>
<line x1="607.7" y1="442.5" x2="677.8" y2="442.5" stroke="#555" stroke-width="1"/>
<line x1="607.7" y1="436.5" x2="609.3" y2="436.5" stroke="#555" stroke-width="0.7"/>
<text x="605.8" y="439.2" font-size="8.06" text-anchor="end" fill="#231f20" textLength="3.93" lengthAdjust="spacingAndGlyphs">0</text>
<line x1="607.7" y1="425.5" x2="609.3" y2="425.5" stroke="#555" stroke-width="0.7"/>
<text x="605.8" y="428.17" font-size="8.06" text-anchor="end" fill="#231f20" textLength="3.93" lengthAdjust="spacingAndGlyphs">1</text>
<line x1="607.7" y1="414.5" x2="609.3" y2="414.5" stroke="#555" stroke-width="0.7"/>
<text x="605.8" y="417.14" font-size="8.06" text-anchor="end" fill="#231f20" textLength="3.93" lengthAdjust="spacingAndGlyphs">2</text>
<line x1="607.7" y1="403.5" x2="609.3" y2="403.5" stroke="#555" stroke-width="0.7"/>
<text x="605.8" y="406.11" font-size="8.06" text-anchor="end" fill="#231f20" textLength="3.93" lengthAdjust="spacingAndGlyphs">3</text>
<line x1="607.7" y1="392.5" x2="609.3" y2="392.5" stroke="#555" stroke-width="0.7"/>
<text x="605.8" y="395.08" font-size="8.06" text-anchor="end" fill="#231f20" textLength="3.93" lengthAdjust="spacingAndGlyphs">4</text>
<line x1="614.5" y1="442.3" x2="614.5" y2="440.8" stroke="#555" stroke-width="0.7"/>
<text x="614.4" y="449.9" font-size="8.06" text-anchor="middle" fill="#231f20" textLength="3.93" lengthAdjust="spacingAndGlyphs">2</text>
<line x1="628.5" y1="442.3" x2="628.5" y2="440.8" stroke="#555" stroke-width="0.7"/>
<text x="628.7" y="449.9" font-size="8.06" text-anchor="middle" fill="#231f20" textLength="3.93" lengthAdjust="spacingAndGlyphs">4</text>
<line x1="643.5" y1="442.3" x2="643.5" y2="440.8" stroke="#555" stroke-width="0.7"/>
<text x="643" y="449.9" font-size="8.06" text-anchor="middle" fill="#231f20" textLength="3.93" lengthAdjust="spacingAndGlyphs">6</text>
<line x1="657.5" y1="442.3" x2="657.5" y2="440.8" stroke="#555" stroke-width="0.7"/>
<text x="657.3" y="449.9" font-size="8.06" text-anchor="middle" fill="#231f20" textLength="3.93" lengthAdjust="spacingAndGlyphs">8</text>
<line x1="671.5" y1="442.3" x2="671.5" y2="440.8" stroke="#555" stroke-width="0.7"/>
<text x="671.6" y="449.9" font-size="8.06" text-anchor="middle" fill="#231f20" textLength="7.86" lengthAdjust="spacingAndGlyphs">10</text>
<text x="628.9" y="389" font-size="8" text-anchor="start" fill="#231f20" textLength="8.6" lengthAdjust="spacingAndGlyphs">1a</text>
<text x="645.6" y="398.2" font-size="8" text-anchor="start" fill="#231f20" textLength="9.2" lengthAdjust="spacingAndGlyphs">1b</text>
<line x1="625.5" y1="434.4" x2="656.1" y2="434.4" stroke="#ff66ff" stroke-width="0.9" stroke-dasharray="2.2 1"/>
<polyline points="612.1,437 612.85,435.83 613.92,434.17 615,432.5 615.99,431 617,429.5 618,428 619.03,426.47 620.05,424.93 621,423.5 621.82,422.26 622.57,421.13 623.3,419.9 624.04,418.53 624.76,417.07 625.5,415.5 626.26,413.76 627.04,411.91 627.8,410.1 628.55,408.39 629.29,406.72 630,405 630.67,403.16 631.31,401.27 632,399.5 632.76,397.74 633.57,396.09 634.4,395 635.27,394.77 636.17,395.11 637,395.6 637.71,396.11 638.36,396.76 639,397.5 639.6,398.32 640.19,399.23 641,400.2 642.16,401.34 643.52,402.56 644.9,403.5 646.28,403.95 647.67,404.14 648.9,404.4 649.87,404.86 650.69,405.4 651.5,406 652.36,406.63 653.21,407.32 654.1,408.1 655.06,409.05 656.06,410.09 657,411 657.83,411.65 658.6,412.17 659.4,412.7 660.25,413.31 661.13,413.94 662,414.5 662.84,414.98 663.68,415.39 664.6,415.7 665.67,415.82 666.83,415.84 667.9,416 668.8,416.39 669.62,416.9 670.5,417.5 671.61,418.26 672.78,419.1 673.6,419.7" fill="none" stroke="#b8b8b8" stroke-width="2.6" stroke-linejoin="round" stroke-linecap="round"/>
<polyline points="612.1,437 612.85,435.83 613.92,434.17 615,432.5 616.01,430.96 617.03,429.43 618,428 618.86,426.75 619.66,425.61 620.5,424.5 621.43,423.34 622.4,422.21 623.3,421.2 624.07,420.37 624.78,419.66 625.5,419 626.23,418.39 626.96,417.83 627.8,417.3 628.79,416.77 629.89,416.26 631,415.8 632.13,415.39 633.28,415.02 634.4,414.7 635.44,414.43 636.45,414.21 637.5,414 638.67,413.81 639.89,413.63 641,413.4 641.92,413.06 642.73,412.67 643.5,412.3 644.22,411.91 644.89,411.54 645.6,411.4 646.39,411.63 647.2,412.07 648,412.5 648.69,412.86 649.35,413.2 650.2,413.4 651.43,413.34 652.85,413.16 654.1,413.1 654.99,413.3 655.72,413.63 656.5,414 657.44,414.39 658.44,414.82 659.4,415.3 660.29,415.85 661.14,416.44 662,417 662.87,417.54 663.75,418.04 664.6,418.4 665.4,418.54 666.17,418.53 667,418.5 667.96,418.46 668.97,418.39 669.9,418.4 670.68,418.54 671.37,418.77 672,419 672.63,419.25 673.2,419.51 673.6,419.7" fill="none" stroke="#ffb0ff" stroke-width="2.8" stroke-linejoin="round" stroke-linecap="round"/>
<polyline points="612.1,437 612.85,435.83 613.92,434.17 615,432.5 615.99,431 617,429.5 618,428 619.03,426.47 620.05,424.93 621,423.5 621.82,422.26 622.57,421.13 623.3,419.9 624.04,418.53 624.76,417.07 625.5,415.5 626.26,413.76 627.04,411.91 627.8,410.1 628.55,408.39 629.29,406.72 630,405 630.67,403.16 631.31,401.27 632,399.5 632.76,397.74 633.57,396.09 634.4,395 635.27,394.77 636.17,395.11 637,395.6 637.71,396.11 638.36,396.76 639,397.5 639.6,398.32 640.19,399.23 641,400.2 642.16,401.34 643.52,402.56 644.9,403.5 646.28,403.95 647.67,404.14 648.9,404.4 649.87,404.86 650.69,405.4 651.5,406 652.36,406.63 653.21,407.32 654.1,408.1 655.06,409.05 656.06,410.09 657,411 657.83,411.65 658.6,412.17 659.4,412.7 660.25,413.31 661.13,413.94 662,414.5 662.84,414.98 663.68,415.39 664.6,415.7 665.67,415.82 666.83,415.84 667.9,416 668.8,416.39 669.62,416.9 670.5,417.5 671.61,418.26 672.78,419.1 673.6,419.7" fill="none" stroke="#333" stroke-width="1" stroke-linejoin="round" stroke-linecap="round"/>
<polyline points="612.1,437 612.85,435.83 613.92,434.17 615,432.5 616.01,430.96 617.03,429.43 618,428 618.86,426.75 619.66,425.61 620.5,424.5 621.43,423.34 622.4,422.21 623.3,421.2 624.07,420.37 624.78,419.66 625.5,419 626.23,418.39 626.96,417.83 627.8,417.3 628.79,416.77 629.89,416.26 631,415.8 632.13,415.39 633.28,415.02 634.4,414.7 635.44,414.43 636.45,414.21 637.5,414 638.67,413.81 639.89,413.63 641,413.4 641.92,413.06 642.73,412.67 643.5,412.3 644.22,411.91 644.89,411.54 645.6,411.4 646.39,411.63 647.2,412.07 648,412.5 648.69,412.86 649.35,413.2 650.2,413.4 651.43,413.34 652.85,413.16 654.1,413.1 654.99,413.3 655.72,413.63 656.5,414 657.44,414.39 658.44,414.82 659.4,415.3 660.29,415.85 661.14,416.44 662,417 662.87,417.54 663.75,418.04 664.6,418.4 665.4,418.54 666.17,418.53 667,418.5 667.96,418.46 668.97,418.39 669.9,418.4 670.68,418.54 671.37,418.77 672,419 672.63,419.25 673.2,419.51 673.6,419.7" fill="none" stroke="#ff0000" stroke-width="1" stroke-linejoin="round" stroke-linecap="round"/>
<text x="17.9" y="551.3" font-size="9" text-anchor="start" fill="#231f20" textLength="4.5" lengthAdjust="spacingAndGlyphs">k</text>
<line x1="38.5" y1="566" x2="38.5" y2="700.6" stroke="#4a4a4a" stroke-width="1"/>
<line x1="38.9" y1="700.5" x2="159.7" y2="700.5" stroke="#4a4a4a" stroke-width="1"/>
<line x1="38.9" y1="581.5" x2="40.9" y2="581.5" stroke="#4a4a4a" stroke-width="0.8"/>
<text x="34.5" y="584.3" font-size="9.54" text-anchor="end" fill="#231f20" textLength="4.65" lengthAdjust="spacingAndGlyphs">6</text>
<line x1="38.9" y1="610.5" x2="40.9" y2="610.5" stroke="#4a4a4a" stroke-width="0.8"/>
<text x="34.5" y="614.2" font-size="9.54" text-anchor="end" fill="#231f20" textLength="4.65" lengthAdjust="spacingAndGlyphs">5</text>
<line x1="38.9" y1="640.5" x2="40.9" y2="640.5" stroke="#4a4a4a" stroke-width="0.8"/>
<text x="34.5" y="644.1" font-size="9.54" text-anchor="end" fill="#231f20" textLength="4.65" lengthAdjust="spacingAndGlyphs">4</text>
<line x1="38.9" y1="670.5" x2="40.9" y2="670.5" stroke="#4a4a4a" stroke-width="0.8"/>
<text x="34.5" y="674" font-size="9.54" text-anchor="end" fill="#231f20" textLength="4.65" lengthAdjust="spacingAndGlyphs">3</text>
<line x1="38.9" y1="700.5" x2="40.9" y2="700.5" stroke="#4a4a4a" stroke-width="0.8"/>
<text x="34.5" y="703.9" font-size="9.54" text-anchor="end" fill="#231f20" textLength="4.65" lengthAdjust="spacingAndGlyphs">2</text>
<line x1="53.5" y1="700.6" x2="53.5" y2="698.6" stroke="#4a4a4a" stroke-width="0.8"/>
<line x1="110.5" y1="700.6" x2="110.5" y2="698.6" stroke="#4a4a4a" stroke-width="0.8"/>
<text x="53.6" y="713.4" font-size="9" text-anchor="middle" fill="#231f20" textLength="13" lengthAdjust="spacingAndGlyphs">KO</text>
<text x="110" y="713.4" font-size="9" text-anchor="middle" fill="#231f20" textLength="13.99" lengthAdjust="spacingAndGlyphs">WT</text>
<text transform="translate(23.8 640) rotate(-90)" x="0" y="0" font-size="9" text-anchor="middle" fill="#231f20" textLength="92" lengthAdjust="spacingAndGlyphs">Peak 1a frequency (Hz)</text>
<text x="72.3" y="565.2" font-size="9" text-anchor="start" fill="#231f20" textLength="42.5" lengthAdjust="spacingAndGlyphs">p = 5.3 e-3</text>
<line x1="53.9" y1="586.9" x2="53.9" y2="611.3" stroke="#929292" stroke-width="1.6"/>
<line x1="53.9" y1="652.2" x2="53.9" y2="682.1" stroke="#929292" stroke-width="1.6"/>
<line x1="51.25" y1="586.5" x2="56.55" y2="586.5" stroke="#2a2a2a" stroke-width="1"/>
<line x1="51.25" y1="682.5" x2="56.55" y2="682.5" stroke="#2a2a2a" stroke-width="1"/>
<rect x="48.5" y="611.5" width="11" height="41" fill="#ff0000" stroke="#1a1a1a" stroke-width="1"/>
<line x1="48.5" y1="623.5" x2="59.3" y2="623.5" stroke="#1a1a1a" stroke-width="1"/>
<line x1="110.5" y1="586.9" x2="110.5" y2="605" stroke="#505050" stroke-width="1"/>
<line x1="110.5" y1="622.9" x2="110.5" y2="676.7" stroke="#505050" stroke-width="1"/>
<line x1="108.15" y1="586.5" x2="113.45" y2="586.5" stroke="#2a2a2a" stroke-width="1"/>
<line x1="108.15" y1="676.5" x2="113.45" y2="676.5" stroke="#2a2a2a" stroke-width="1"/>
<rect x="105.5" y="605.5" width="11" height="17" fill="#b3b3b3" stroke="#1a1a1a" stroke-width="1"/>
<line x1="105.25" y1="616.7" x2="116.35" y2="616.7" stroke="#444" stroke-width="1.4"/>
<circle cx="71.55" cy="586.98" r="1.75" fill="#fff" stroke="#1a1a1a" stroke-width="0.75"/>
<circle cx="73.25" cy="586.98" r="1.75" fill="#fff" stroke="#1a1a1a" stroke-width="0.75"/>
<circle cx="68.12" cy="592.96" r="1.75" fill="#fff" stroke="#1a1a1a" stroke-width="0.75"/>
<circle cx="70.98" cy="592.96" r="1.75" fill="#fff" stroke="#1a1a1a" stroke-width="0.75"/>
<circle cx="73.83" cy="592.96" r="1.75" fill="#fff" stroke="#1a1a1a" stroke-width="0.75"/>
<circle cx="76.68" cy="592.96" r="1.75" fill="#fff" stroke="#1a1a1a" stroke-width="0.75"/>
<circle cx="65.28" cy="598.94" r="1.75" fill="#fff" stroke="#1a1a1a" stroke-width="0.75"/>
<circle cx="68.12" cy="598.94" r="1.75" fill="#fff" stroke="#1a1a1a" stroke-width="0.75"/>
<circle cx="70.98" cy="598.94" r="1.75" fill="#fff" stroke="#1a1a1a" stroke-width="0.75"/>
<circle cx="73.83" cy="598.94" r="1.75" fill="#fff" stroke="#1a1a1a" stroke-width="0.75"/>
<circle cx="76.68" cy="598.94" r="1.75" fill="#fff" stroke="#1a1a1a" stroke-width="0.75"/>
<circle cx="79.53" cy="598.94" r="1.75" fill="#fff" stroke="#1a1a1a" stroke-width="0.75"/>
<circle cx="68.12" cy="604.92" r="1.75" fill="#fff" stroke="#1a1a1a" stroke-width="0.75"/>
<circle cx="70.98" cy="604.92" r="1.75" fill="#fff" stroke="#1a1a1a" stroke-width="0.75"/>
<circle cx="73.83" cy="604.92" r="1.75" fill="#fff" stroke="#1a1a1a" stroke-width="0.75"/>
<circle cx="76.68" cy="604.92" r="1.75" fill="#fff" stroke="#1a1a1a" stroke-width="0.75"/>
<circle cx="63.85" cy="610.9" r="1.75" fill="#fff" stroke="#1a1a1a" stroke-width="0.75"/>
<circle cx="66.7" cy="610.9" r="1.75" fill="#fff" stroke="#1a1a1a" stroke-width="0.75"/>
<circle cx="69.55" cy="610.9" r="1.75" fill="#fff" stroke="#1a1a1a" stroke-width="0.75"/>
<circle cx="72.4" cy="610.9" r="1.75" fill="#fff" stroke="#1a1a1a" stroke-width="0.75"/>
<circle cx="75.25" cy="610.9" r="1.75" fill="#fff" stroke="#1a1a1a" stroke-width="0.75"/>
<circle cx="78.1" cy="610.9" r="1.75" fill="#fff" stroke="#1a1a1a" stroke-width="0.75"/>
<circle cx="80.95" cy="610.9" r="1.75" fill="#fff" stroke="#1a1a1a" stroke-width="0.75"/>
<circle cx="63.85" cy="616.88" r="1.75" fill="#fff" stroke="#1a1a1a" stroke-width="0.75"/>
<circle cx="66.7" cy="616.88" r="1.75" fill="#fff" stroke="#1a1a1a" stroke-width="0.75"/>
<circle cx="69.55" cy="616.88" r="1.75" fill="#fff" stroke="#1a1a1a" stroke-width="0.75"/>
<circle cx="72.4" cy="616.88" r="1.75" fill="#fff" stroke="#1a1a1a" stroke-width="0.75"/>
<circle cx="75.25" cy="616.88" r="1.75" fill="#fff" stroke="#1a1a1a" stroke-width="0.75"/>
<circle cx="78.1" cy="616.88" r="1.75" fill="#fff" stroke="#1a1a1a" stroke-width="0.75"/>
<circle cx="80.95" cy="616.88" r="1.75" fill="#fff" stroke="#1a1a1a" stroke-width="0.75"/>
<circle cx="68.12" cy="622.86" r="1.75" fill="#fff" stroke="#1a1a1a" stroke-width="0.75"/>
<circle cx="70.98" cy="622.86" r="1.75" fill="#fff" stroke="#1a1a1a" stroke-width="0.75"/>
<circle cx="73.83" cy="622.86" r="1.75" fill="#fff" stroke="#1a1a1a" stroke-width="0.75"/>
<circle cx="76.68" cy="622.86" r="1.75" fill="#fff" stroke="#1a1a1a" stroke-width="0.75"/>
<circle cx="71.55" cy="628.84" r="1.75" fill="#fff" stroke="#1a1a1a" stroke-width="0.75"/>
<circle cx="73.25" cy="628.84" r="1.75" fill="#fff" stroke="#1a1a1a" stroke-width="0.75"/>
<circle cx="71.55" cy="634.82" r="1.75" fill="#fff" stroke="#1a1a1a" stroke-width="0.75"/>
<circle cx="73.25" cy="634.82" r="1.75" fill="#fff" stroke="#1a1a1a" stroke-width="0.75"/>
<circle cx="63.85" cy="640.8" r="1.75" fill="#fff" stroke="#1a1a1a" stroke-width="0.75"/>
<circle cx="66.7" cy="640.8" r="1.75" fill="#fff" stroke="#1a1a1a" stroke-width="0.75"/>
<circle cx="69.55" cy="640.8" r="1.75" fill="#fff" stroke="#1a1a1a" stroke-width="0.75"/>
<circle cx="72.4" cy="640.8" r="1.75" fill="#fff" stroke="#1a1a1a" stroke-width="0.75"/>
<circle cx="75.25" cy="640.8" r="1.75" fill="#fff" stroke="#1a1a1a" stroke-width="0.75"/>
<circle cx="78.1" cy="640.8" r="1.75" fill="#fff" stroke="#1a1a1a" stroke-width="0.75"/>
<circle cx="80.95" cy="640.8" r="1.75" fill="#fff" stroke="#1a1a1a" stroke-width="0.75"/>
<circle cx="68.12" cy="646.78" r="1.75" fill="#fff" stroke="#1a1a1a" stroke-width="0.75"/>
<circle cx="70.98" cy="646.78" r="1.75" fill="#fff" stroke="#1a1a1a" stroke-width="0.75"/>
<circle cx="73.83" cy="646.78" r="1.75" fill="#fff" stroke="#1a1a1a" stroke-width="0.75"/>
<circle cx="76.68" cy="646.78" r="1.75" fill="#fff" stroke="#1a1a1a" stroke-width="0.75"/>
<circle cx="62.43" cy="652.76" r="1.75" fill="#fff" stroke="#1a1a1a" stroke-width="0.75"/>
<circle cx="65.28" cy="652.76" r="1.75" fill="#fff" stroke="#1a1a1a" stroke-width="0.75"/>
<circle cx="68.12" cy="652.76" r="1.75" fill="#fff" stroke="#1a1a1a" stroke-width="0.75"/>
<circle cx="70.98" cy="652.76" r="1.75" fill="#fff" stroke="#1a1a1a" stroke-width="0.75"/>
<circle cx="73.83" cy="652.76" r="1.75" fill="#fff" stroke="#1a1a1a" stroke-width="0.75"/>
<circle cx="76.68" cy="652.76" r="1.75" fill="#fff" stroke="#1a1a1a" stroke-width="0.75"/>
<circle cx="79.53" cy="652.76" r="1.75" fill="#fff" stroke="#1a1a1a" stroke-width="0.75"/>
<circle cx="82.38" cy="652.76" r="1.75" fill="#fff" stroke="#1a1a1a" stroke-width="0.75"/>
<circle cx="71.55" cy="658.74" r="1.75" fill="#fff" stroke="#1a1a1a" stroke-width="0.75"/>
<circle cx="73.25" cy="658.74" r="1.75" fill="#fff" stroke="#1a1a1a" stroke-width="0.75"/>
<circle cx="69.55" cy="664.72" r="1.75" fill="#fff" stroke="#1a1a1a" stroke-width="0.75"/>
<circle cx="72.4" cy="664.72" r="1.75" fill="#fff" stroke="#1a1a1a" stroke-width="0.75"/>
<circle cx="75.25" cy="664.72" r="1.75" fill="#fff" stroke="#1a1a1a" stroke-width="0.75"/>
<circle cx="71.55" cy="670.7" r="1.75" fill="#fff" stroke="#1a1a1a" stroke-width="0.75"/>
<circle cx="73.25" cy="670.7" r="1.75" fill="#fff" stroke="#1a1a1a" stroke-width="0.75"/>
<circle cx="71.55" cy="676.68" r="1.75" fill="#fff" stroke="#1a1a1a" stroke-width="0.75"/>
<circle cx="73.25" cy="676.68" r="1.75" fill="#fff" stroke="#1a1a1a" stroke-width="0.75"/>
<circle cx="72.4" cy="682.66" r="1.75" fill="#fff" stroke="#1a1a1a" stroke-width="0.75"/>
<circle cx="133.2" cy="586.98" r="1.75" fill="#fff" stroke="#1a1a1a" stroke-width="0.75"/>
<circle cx="124.65" cy="592.96" r="1.75" fill="#fff" stroke="#1a1a1a" stroke-width="0.75"/>
<circle cx="127.5" cy="592.96" r="1.75" fill="#fff" stroke="#1a1a1a" stroke-width="0.75"/>
<circle cx="130.35" cy="592.96" r="1.75" fill="#fff" stroke="#1a1a1a" stroke-width="0.75"/>
<circle cx="133.2" cy="592.96" r="1.75" fill="#fff" stroke="#1a1a1a" stroke-width="0.75"/>
<circle cx="136.05" cy="592.96" r="1.75" fill="#fff" stroke="#1a1a1a" stroke-width="0.75"/>
<circle cx="138.9" cy="592.96" r="1.75" fill="#fff" stroke="#1a1a1a" stroke-width="0.75"/>
<circle cx="141.75" cy="592.96" r="1.75" fill="#fff" stroke="#1a1a1a" stroke-width="0.75"/>
<circle cx="124.65" cy="598.94" r="1.75" fill="#fff" stroke="#1a1a1a" stroke-width="0.75"/>
<circle cx="127.5" cy="598.94" r="1.75" fill="#fff" stroke="#1a1a1a" stroke-width="0.75"/>
<circle cx="130.35" cy="598.94" r="1.75" fill="#fff" stroke="#1a1a1a" stroke-width="0.75"/>
<circle cx="133.2" cy="598.94" r="1.75" fill="#fff" stroke="#1a1a1a" stroke-width="0.75"/>
<circle cx="136.05" cy="598.94" r="1.75" fill="#fff" stroke="#1a1a1a" stroke-width="0.75"/>
<circle cx="138.9" cy="598.94" r="1.75" fill="#fff" stroke="#1a1a1a" stroke-width="0.75"/>
<circle cx="141.75" cy="598.94" r="1.75" fill="#fff" stroke="#1a1a1a" stroke-width="0.75"/>
<circle cx="126.07" cy="604.92" r="1.75" fill="#fff" stroke="#1a1a1a" stroke-width="0.75"/>
<circle cx="128.92" cy="604.92" r="1.75" fill="#fff" stroke="#1a1a1a" stroke-width="0.75"/>
<circle cx="131.77" cy="604.92" r="1.75" fill="#fff" stroke="#1a1a1a" stroke-width="0.75"/>
<circle cx="134.62" cy="604.92" r="1.75" fill="#fff" stroke="#1a1a1a" stroke-width="0.75"/>
<circle cx="137.47" cy="604.92" r="1.75" fill="#fff" stroke="#1a1a1a" stroke-width="0.75"/>
<circle cx="140.32" cy="604.92" r="1.75" fill="#fff" stroke="#1a1a1a" stroke-width="0.75"/>
<circle cx="120.37" cy="610.9" r="1.75" fill="#fff" stroke="#1a1a1a" stroke-width="0.75"/>
<circle cx="123.22" cy="610.9" r="1.75" fill="#fff" stroke="#1a1a1a" stroke-width="0.75"/>
<circle cx="126.07" cy="610.9" r="1.75" fill="#fff" stroke="#1a1a1a" stroke-width="0.75"/>
<circle cx="128.92" cy="610.9" r="1.75" fill="#fff" stroke="#1a1a1a" stroke-width="0.75"/>
<circle cx="131.77" cy="610.9" r="1.75" fill="#fff" stroke="#1a1a1a" stroke-width="0.75"/>
<circle cx="134.62" cy="610.9" r="1.75" fill="#fff" stroke="#1a1a1a" stroke-width="0.75"/>
<circle cx="137.47" cy="610.9" r="1.75" fill="#fff" stroke="#1a1a1a" stroke-width="0.75"/>
<circle cx="140.32" cy="610.9" r="1.75" fill="#fff" stroke="#1a1a1a" stroke-width="0.75"/>
<circle cx="143.17" cy="610.9" r="1.75" fill="#fff" stroke="#1a1a1a" stroke-width="0.75"/>
<circle cx="146.02" cy="610.9" r="1.75" fill="#fff" stroke="#1a1a1a" stroke-width="0.75"/>
<circle cx="118.95" cy="616.88" r="1.75" fill="#fff" stroke="#1a1a1a" stroke-width="0.75"/>
<circle cx="121.8" cy="616.88" r="1.75" fill="#fff" stroke="#1a1a1a" stroke-width="0.75"/>
<circle cx="124.65" cy="616.88" r="1.75" fill="#fff" stroke="#1a1a1a" stroke-width="0.75"/>
<circle cx="127.5" cy="616.88" r="1.75" fill="#fff" stroke="#1a1a1a" stroke-width="0.75"/>
<circle cx="130.35" cy="616.88" r="1.75" fill="#fff" stroke="#1a1a1a" stroke-width="0.75"/>
<circle cx="133.2" cy="616.88" r="1.75" fill="#fff" stroke="#1a1a1a" stroke-width="0.75"/>
<circle cx="136.05" cy="616.88" r="1.75" fill="#fff" stroke="#1a1a1a" stroke-width="0.75"/>
<circle cx="138.9" cy="616.88" r="1.75" fill="#fff" stroke="#1a1a1a" stroke-width="0.75"/>
<circle cx="141.75" cy="616.88" r="1.75" fill="#fff" stroke="#1a1a1a" stroke-width="0.75"/>
<circle cx="144.6" cy="616.88" r="1.75" fill="#fff" stroke="#1a1a1a" stroke-width="0.75"/>
<circle cx="147.45" cy="616.88" r="1.75" fill="#fff" stroke="#1a1a1a" stroke-width="0.75"/>
<circle cx="120.37" cy="622.86" r="1.75" fill="#fff" stroke="#1a1a1a" stroke-width="0.75"/>
<circle cx="123.22" cy="622.86" r="1.75" fill="#fff" stroke="#1a1a1a" stroke-width="0.75"/>
<circle cx="126.07" cy="622.86" r="1.75" fill="#fff" stroke="#1a1a1a" stroke-width="0.75"/>
<circle cx="128.92" cy="622.86" r="1.75" fill="#fff" stroke="#1a1a1a" stroke-width="0.75"/>
<circle cx="131.77" cy="622.86" r="1.75" fill="#fff" stroke="#1a1a1a" stroke-width="0.75"/>
<circle cx="134.62" cy="622.86" r="1.75" fill="#fff" stroke="#1a1a1a" stroke-width="0.75"/>
<circle cx="137.47" cy="622.86" r="1.75" fill="#fff" stroke="#1a1a1a" stroke-width="0.75"/>
<circle cx="140.32" cy="622.86" r="1.75" fill="#fff" stroke="#1a1a1a" stroke-width="0.75"/>
<circle cx="143.17" cy="622.86" r="1.75" fill="#fff" stroke="#1a1a1a" stroke-width="0.75"/>
<circle cx="146.02" cy="622.86" r="1.75" fill="#fff" stroke="#1a1a1a" stroke-width="0.75"/>
<circle cx="126.07" cy="628.84" r="1.75" fill="#fff" stroke="#1a1a1a" stroke-width="0.75"/>
<circle cx="128.92" cy="628.84" r="1.75" fill="#fff" stroke="#1a1a1a" stroke-width="0.75"/>
<circle cx="131.77" cy="628.84" r="1.75" fill="#fff" stroke="#1a1a1a" stroke-width="0.75"/>
<circle cx="134.62" cy="628.84" r="1.75" fill="#fff" stroke="#1a1a1a" stroke-width="0.75"/>
<circle cx="137.47" cy="628.84" r="1.75" fill="#fff" stroke="#1a1a1a" stroke-width="0.75"/>
<circle cx="140.32" cy="628.84" r="1.75" fill="#fff" stroke="#1a1a1a" stroke-width="0.75"/>
<circle cx="130.35" cy="634.82" r="1.75" fill="#fff" stroke="#1a1a1a" stroke-width="0.75"/>
<circle cx="133.2" cy="634.82" r="1.75" fill="#fff" stroke="#1a1a1a" stroke-width="0.75"/>
<circle cx="136.05" cy="634.82" r="1.75" fill="#fff" stroke="#1a1a1a" stroke-width="0.75"/>
<circle cx="132.35" cy="640.8" r="1.75" fill="#fff" stroke="#1a1a1a" stroke-width="0.75"/>
<circle cx="134.05" cy="640.8" r="1.75" fill="#fff" stroke="#1a1a1a" stroke-width="0.75"/>
<circle cx="133.2" cy="646.78" r="1.75" fill="#fff" stroke="#1a1a1a" stroke-width="0.75"/>
<circle cx="133.2" cy="652.76" r="1.75" fill="#fff" stroke="#1a1a1a" stroke-width="0.75"/>
<circle cx="133.2" cy="664.72" r="1.75" fill="#fff" stroke="#1a1a1a" stroke-width="0.75"/>
<circle cx="133.2" cy="676.68" r="1.75" fill="#fff" stroke="#1a1a1a" stroke-width="0.75"/>
<text x="186.5" y="551.3" font-size="9" text-anchor="start" fill="#231f20" textLength="2" lengthAdjust="spacingAndGlyphs">l</text>
<line x1="210.5" y1="567.8" x2="210.5" y2="700.8" stroke="#4a4a4a" stroke-width="1"/>
<line x1="210.9" y1="700.8" x2="313.5" y2="700.8" stroke="#999" stroke-width="1.5"/>
<line x1="210.9" y1="568.5" x2="212.9" y2="568.5" stroke="#4a4a4a" stroke-width="0.8"/>
<text x="206.9" y="572.05" font-size="9.54" text-anchor="end" fill="#231f20" textLength="4.65" lengthAdjust="spacingAndGlyphs">7</text>
<line x1="210.9" y1="586.5" x2="212.9" y2="586.5" stroke="#4a4a4a" stroke-width="0.8"/>
<text x="206.9" y="589.7" font-size="9.54" text-anchor="end" fill="#231f20" textLength="4.65" lengthAdjust="spacingAndGlyphs">6</text>
<line x1="210.9" y1="604.5" x2="212.9" y2="604.5" stroke="#4a4a4a" stroke-width="0.8"/>
<text x="206.9" y="607.35" font-size="9.54" text-anchor="end" fill="#231f20" textLength="4.65" lengthAdjust="spacingAndGlyphs">5</text>
<line x1="210.9" y1="621.5" x2="212.9" y2="621.5" stroke="#4a4a4a" stroke-width="0.8"/>
<text x="206.9" y="625" font-size="9.54" text-anchor="end" fill="#231f20" textLength="4.65" lengthAdjust="spacingAndGlyphs">4</text>
<line x1="210.9" y1="639.5" x2="212.9" y2="639.5" stroke="#4a4a4a" stroke-width="0.8"/>
<text x="206.9" y="642.65" font-size="9.54" text-anchor="end" fill="#231f20" textLength="4.65" lengthAdjust="spacingAndGlyphs">3</text>
<line x1="210.9" y1="657.5" x2="212.9" y2="657.5" stroke="#4a4a4a" stroke-width="0.8"/>
<text x="206.9" y="660.3" font-size="9.54" text-anchor="end" fill="#231f20" textLength="4.65" lengthAdjust="spacingAndGlyphs">2</text>
<line x1="210.9" y1="674.5" x2="212.9" y2="674.5" stroke="#4a4a4a" stroke-width="0.8"/>
<text x="206.9" y="677.95" font-size="9.54" text-anchor="end" fill="#231f20" textLength="4.65" lengthAdjust="spacingAndGlyphs">1</text>
<line x1="210.9" y1="692.5" x2="212.9" y2="692.5" stroke="#4a4a4a" stroke-width="0.8"/>
<text x="206.9" y="695.6" font-size="9.54" text-anchor="end" fill="#231f20" textLength="4.65" lengthAdjust="spacingAndGlyphs">0</text>
<line x1="226.5" y1="700.8" x2="226.5" y2="698.8" stroke="#4a4a4a" stroke-width="0.8"/>
<line x1="279.5" y1="700.8" x2="279.5" y2="698.8" stroke="#4a4a4a" stroke-width="0.8"/>
<text x="225.4" y="713.4" font-size="9" text-anchor="middle" fill="#231f20" textLength="13" lengthAdjust="spacingAndGlyphs">KO</text>
<text x="279.3" y="713.4" font-size="9" text-anchor="middle" fill="#231f20" textLength="13.99" lengthAdjust="spacingAndGlyphs">WT</text>
<text transform="translate(193.3 635.8) rotate(-90)" x="0" y="0" font-size="9" text-anchor="middle" fill="#231f20" textLength="76.4" lengthAdjust="spacingAndGlyphs">Peak 1a power (dB)</text>
<text x="232.8" y="565.7" font-size="9" text-anchor="start" fill="#231f20" textLength="47" lengthAdjust="spacingAndGlyphs">p = 1.2 e-10</text>
<line x1="225.9" y1="585.4" x2="225.9" y2="633" stroke="#929292" stroke-width="1.6"/>
<line x1="225.9" y1="656.5" x2="225.9" y2="697.2" stroke="#929292" stroke-width="1.6"/>
<line x1="223.25" y1="585.5" x2="228.55" y2="585.5" stroke="#2a2a2a" stroke-width="1"/>
<line x1="223.25" y1="697.5" x2="228.55" y2="697.5" stroke="#2a2a2a" stroke-width="1"/>
<rect x="220.5" y="633.5" width="11" height="23" fill="#ff0000" stroke="#1a1a1a" stroke-width="1"/>
<line x1="220.45" y1="642.5" x2="231.35" y2="642.5" stroke="#1a1a1a" stroke-width="1"/>
<line x1="280" y1="575.7" x2="280" y2="599.3" stroke="#929292" stroke-width="1.6"/>
<line x1="280" y1="631.5" x2="280" y2="675.8" stroke="#929292" stroke-width="1.6"/>
<line x1="277.35" y1="575.5" x2="282.65" y2="575.5" stroke="#2a2a2a" stroke-width="1"/>
<line x1="277.35" y1="675.5" x2="282.65" y2="675.5" stroke="#2a2a2a" stroke-width="1"/>
<rect x="274.5" y="599.5" width="11" height="32" fill="#b3b3b3" stroke="#1a1a1a" stroke-width="1"/>
<line x1="274.25" y1="618.5" x2="285.75" y2="618.5" stroke="#1a1a1a" stroke-width="1"/>
<circle cx="243.9" cy="585.52" r="1.75" fill="#fff" stroke="#1a1a1a" stroke-width="0.75"/>
<circle cx="243.9" cy="606.87" r="1.75" fill="#fff" stroke="#1a1a1a" stroke-width="0.75"/>
<circle cx="243.9" cy="614.29" r="1.75" fill="#fff" stroke="#1a1a1a" stroke-width="0.75"/>
<circle cx="242.1" cy="616.4" r="1.75" fill="#fff" stroke="#1a1a1a" stroke-width="0.75"/>
<circle cx="244.8" cy="616.93" r="1.75" fill="#fff" stroke="#1a1a1a" stroke-width="0.75"/>
<circle cx="243.9" cy="622.76" r="1.75" fill="#fff" stroke="#1a1a1a" stroke-width="0.75"/>
<circle cx="243.9" cy="625.92" r="1.75" fill="#fff" stroke="#1a1a1a" stroke-width="0.75"/>
<circle cx="241.2" cy="626.6" r="1.75" fill="#fff" stroke="#1a1a1a" stroke-width="0.75"/>
<circle cx="246.3" cy="627.27" r="1.75" fill="#fff" stroke="#1a1a1a" stroke-width="0.75"/>
<circle cx="238.8" cy="627.95" r="1.75" fill="#fff" stroke="#1a1a1a" stroke-width="0.75"/>
<circle cx="243.9" cy="628.63" r="1.75" fill="#fff" stroke="#1a1a1a" stroke-width="0.75"/>
<circle cx="241.2" cy="629.3" r="1.75" fill="#fff" stroke="#1a1a1a" stroke-width="0.75"/>
<circle cx="245.7" cy="630.75" r="1.75" fill="#fff" stroke="#1a1a1a" stroke-width="0.75"/>
<circle cx="248.4" cy="631.19" r="1.75" fill="#fff" stroke="#1a1a1a" stroke-width="0.75"/>
<circle cx="243" cy="631.63" r="1.75" fill="#fff" stroke="#1a1a1a" stroke-width="0.75"/>
<circle cx="240.3" cy="632.07" r="1.75" fill="#fff" stroke="#1a1a1a" stroke-width="0.75"/>
<circle cx="237.6" cy="632.51" r="1.75" fill="#fff" stroke="#1a1a1a" stroke-width="0.75"/>
<circle cx="250.5" cy="632.95" r="1.75" fill="#fff" stroke="#1a1a1a" stroke-width="0.75"/>
<circle cx="245.1" cy="633.39" r="1.75" fill="#fff" stroke="#1a1a1a" stroke-width="0.75"/>
<circle cx="247.8" cy="633.83" r="1.75" fill="#fff" stroke="#1a1a1a" stroke-width="0.75"/>
<circle cx="243" cy="635.19" r="1.75" fill="#fff" stroke="#1a1a1a" stroke-width="0.75"/>
<circle cx="240.3" cy="635.69" r="1.75" fill="#fff" stroke="#1a1a1a" stroke-width="0.75"/>
<circle cx="245.7" cy="636.2" r="1.75" fill="#fff" stroke="#1a1a1a" stroke-width="0.75"/>
<circle cx="248.4" cy="636.7" r="1.75" fill="#fff" stroke="#1a1a1a" stroke-width="0.75"/>
<circle cx="237.9" cy="637.21" r="1.75" fill="#fff" stroke="#1a1a1a" stroke-width="0.75"/>
<circle cx="251.1" cy="637.71" r="1.75" fill="#fff" stroke="#1a1a1a" stroke-width="0.75"/>
<circle cx="243.9" cy="638.22" r="1.75" fill="#fff" stroke="#1a1a1a" stroke-width="0.75"/>
<circle cx="241.5" cy="639.5" r="1.75" fill="#fff" stroke="#1a1a1a" stroke-width="0.75"/>
<circle cx="246.3" cy="639.79" r="1.75" fill="#fff" stroke="#1a1a1a" stroke-width="0.75"/>
<circle cx="238.8" cy="640.09" r="1.75" fill="#fff" stroke="#1a1a1a" stroke-width="0.75"/>
<circle cx="249" cy="640.38" r="1.75" fill="#fff" stroke="#1a1a1a" stroke-width="0.75"/>
<circle cx="236.1" cy="640.67" r="1.75" fill="#fff" stroke="#1a1a1a" stroke-width="0.75"/>
<circle cx="251.7" cy="640.97" r="1.75" fill="#fff" stroke="#1a1a1a" stroke-width="0.75"/>
<circle cx="243.9" cy="641.26" r="1.75" fill="#fff" stroke="#1a1a1a" stroke-width="0.75"/>
<circle cx="254.4" cy="641.56" r="1.75" fill="#fff" stroke="#1a1a1a" stroke-width="0.75"/>
<circle cx="233.4" cy="641.85" r="1.75" fill="#fff" stroke="#1a1a1a" stroke-width="0.75"/>
<circle cx="245.7" cy="643.32" r="1.75" fill="#fff" stroke="#1a1a1a" stroke-width="0.75"/>
<circle cx="243" cy="644.2" r="1.75" fill="#fff" stroke="#1a1a1a" stroke-width="0.75"/>
<circle cx="240.3" cy="645.09" r="1.75" fill="#fff" stroke="#1a1a1a" stroke-width="0.75"/>
<circle cx="245.1" cy="645.97" r="1.75" fill="#fff" stroke="#1a1a1a" stroke-width="0.75"/>
<circle cx="242.4" cy="646.85" r="1.75" fill="#fff" stroke="#1a1a1a" stroke-width="0.75"/>
<circle cx="247.2" cy="647.73" r="1.75" fill="#fff" stroke="#1a1a1a" stroke-width="0.75"/>
<circle cx="244.5" cy="648.62" r="1.75" fill="#fff" stroke="#1a1a1a" stroke-width="0.75"/>
<circle cx="241.8" cy="649.82" r="1.75" fill="#fff" stroke="#1a1a1a" stroke-width="0.75"/>
<circle cx="248.1" cy="650.29" r="1.75" fill="#fff" stroke="#1a1a1a" stroke-width="0.75"/>
<circle cx="239.1" cy="650.76" r="1.75" fill="#fff" stroke="#1a1a1a" stroke-width="0.75"/>
<circle cx="245.4" cy="651.23" r="1.75" fill="#fff" stroke="#1a1a1a" stroke-width="0.75"/>
<circle cx="250.5" cy="651.7" r="1.75" fill="#fff" stroke="#1a1a1a" stroke-width="0.75"/>
<circle cx="236.7" cy="652.18" r="1.75" fill="#fff" stroke="#1a1a1a" stroke-width="0.75"/>
<circle cx="243" cy="652.65" r="1.75" fill="#fff" stroke="#1a1a1a" stroke-width="0.75"/>
<circle cx="247.5" cy="653.12" r="1.75" fill="#fff" stroke="#1a1a1a" stroke-width="0.75"/>
<circle cx="240.3" cy="653.59" r="1.75" fill="#fff" stroke="#1a1a1a" stroke-width="0.75"/>
<circle cx="244.8" cy="654.69" r="1.75" fill="#fff" stroke="#1a1a1a" stroke-width="0.75"/>
<circle cx="249" cy="655.37" r="1.75" fill="#fff" stroke="#1a1a1a" stroke-width="0.75"/>
<circle cx="242.4" cy="656.04" r="1.75" fill="#fff" stroke="#1a1a1a" stroke-width="0.75"/>
<circle cx="246.6" cy="656.72" r="1.75" fill="#fff" stroke="#1a1a1a" stroke-width="0.75"/>
<circle cx="240" cy="657.4" r="1.75" fill="#fff" stroke="#1a1a1a" stroke-width="0.75"/>
<circle cx="244.2" cy="658.07" r="1.75" fill="#fff" stroke="#1a1a1a" stroke-width="0.75"/>
<circle cx="247.5" cy="659.32" r="1.75" fill="#fff" stroke="#1a1a1a" stroke-width="0.75"/>
<circle cx="242.7" cy="660.42" r="1.75" fill="#fff" stroke="#1a1a1a" stroke-width="0.75"/>
<circle cx="245.4" cy="661.52" r="1.75" fill="#fff" stroke="#1a1a1a" stroke-width="0.75"/>
<circle cx="240.9" cy="662.63" r="1.75" fill="#fff" stroke="#1a1a1a" stroke-width="0.75"/>
<circle cx="243.9" cy="664.29" r="1.75" fill="#fff" stroke="#1a1a1a" stroke-width="0.75"/>
<circle cx="246.6" cy="664.74" r="1.75" fill="#fff" stroke="#1a1a1a" stroke-width="0.75"/>
<circle cx="240" cy="665.19" r="1.75" fill="#fff" stroke="#1a1a1a" stroke-width="0.75"/>
<circle cx="249.3" cy="665.65" r="1.75" fill="#fff" stroke="#1a1a1a" stroke-width="0.75"/>
<circle cx="237.3" cy="666.1" r="1.75" fill="#fff" stroke="#1a1a1a" stroke-width="0.75"/>
<circle cx="242.4" cy="666.56" r="1.75" fill="#fff" stroke="#1a1a1a" stroke-width="0.75"/>
<circle cx="245.1" cy="667.01" r="1.75" fill="#fff" stroke="#1a1a1a" stroke-width="0.75"/>
<circle cx="243.9" cy="670.41" r="1.75" fill="#fff" stroke="#1a1a1a" stroke-width="0.75"/>
<circle cx="243.9" cy="673.24" r="1.75" fill="#fff" stroke="#1a1a1a" stroke-width="0.75"/>
<circle cx="243.9" cy="681" r="1.75" fill="#fff" stroke="#1a1a1a" stroke-width="0.75"/>
<circle cx="243.9" cy="688.77" r="1.75" fill="#fff" stroke="#1a1a1a" stroke-width="0.75"/>
<circle cx="242.7" cy="691.24" r="1.75" fill="#fff" stroke="#1a1a1a" stroke-width="0.75"/>
<circle cx="243.9" cy="694.06" r="1.75" fill="#fff" stroke="#1a1a1a" stroke-width="0.75"/>
<circle cx="243.9" cy="697.07" r="1.75" fill="#fff" stroke="#1a1a1a" stroke-width="0.75"/>
<circle cx="296.7" cy="575.81" r="1.75" fill="#fff" stroke="#1a1a1a" stroke-width="0.75"/>
<circle cx="294" cy="576.16" r="1.75" fill="#fff" stroke="#1a1a1a" stroke-width="0.75"/>
<circle cx="296.7" cy="588.16" r="1.75" fill="#fff" stroke="#1a1a1a" stroke-width="0.75"/>
<circle cx="294" cy="588.86" r="1.75" fill="#fff" stroke="#1a1a1a" stroke-width="0.75"/>
<circle cx="299.1" cy="589.55" r="1.75" fill="#fff" stroke="#1a1a1a" stroke-width="0.75"/>
<circle cx="291.6" cy="590.25" r="1.75" fill="#fff" stroke="#1a1a1a" stroke-width="0.75"/>
<circle cx="296.7" cy="590.94" r="1.75" fill="#fff" stroke="#1a1a1a" stroke-width="0.75"/>
<circle cx="294" cy="591.64" r="1.75" fill="#fff" stroke="#1a1a1a" stroke-width="0.75"/>
<circle cx="299.1" cy="592.33" r="1.75" fill="#fff" stroke="#1a1a1a" stroke-width="0.75"/>
<circle cx="291.6" cy="593.03" r="1.75" fill="#fff" stroke="#1a1a1a" stroke-width="0.75"/>
<circle cx="296.7" cy="593.72" r="1.75" fill="#fff" stroke="#1a1a1a" stroke-width="0.75"/>
<circle cx="294" cy="594.42" r="1.75" fill="#fff" stroke="#1a1a1a" stroke-width="0.75"/>
<circle cx="299.1" cy="595.12" r="1.75" fill="#fff" stroke="#1a1a1a" stroke-width="0.75"/>
<circle cx="291.6" cy="595.81" r="1.75" fill="#fff" stroke="#1a1a1a" stroke-width="0.75"/>
<circle cx="296.7" cy="596.51" r="1.75" fill="#fff" stroke="#1a1a1a" stroke-width="0.75"/>
<circle cx="294" cy="597.2" r="1.75" fill="#fff" stroke="#1a1a1a" stroke-width="0.75"/>
<circle cx="299.1" cy="597.9" r="1.75" fill="#fff" stroke="#1a1a1a" stroke-width="0.75"/>
<circle cx="291.6" cy="598.59" r="1.75" fill="#fff" stroke="#1a1a1a" stroke-width="0.75"/>
<circle cx="296.7" cy="599.29" r="1.75" fill="#fff" stroke="#1a1a1a" stroke-width="0.75"/>
<circle cx="295.2" cy="601.7" r="1.75" fill="#fff" stroke="#1a1a1a" stroke-width="0.75"/>
<circle cx="297.9" cy="602.31" r="1.75" fill="#fff" stroke="#1a1a1a" stroke-width="0.75"/>
<circle cx="300.6" cy="602.91" r="1.75" fill="#fff" stroke="#1a1a1a" stroke-width="0.75"/>
<circle cx="293.1" cy="603.51" r="1.75" fill="#fff" stroke="#1a1a1a" stroke-width="0.75"/>
<circle cx="290.4" cy="604.11" r="1.75" fill="#fff" stroke="#1a1a1a" stroke-width="0.75"/>
<circle cx="296.4" cy="604.71" r="1.75" fill="#fff" stroke="#1a1a1a" stroke-width="0.75"/>
<circle cx="299.1" cy="605.31" r="1.75" fill="#fff" stroke="#1a1a1a" stroke-width="0.75"/>
<circle cx="301.8" cy="605.92" r="1.75" fill="#fff" stroke="#1a1a1a" stroke-width="0.75"/>
<circle cx="294.3" cy="606.52" r="1.75" fill="#fff" stroke="#1a1a1a" stroke-width="0.75"/>
<circle cx="291.6" cy="607.12" r="1.75" fill="#fff" stroke="#1a1a1a" stroke-width="0.75"/>
<circle cx="297" cy="607.72" r="1.75" fill="#fff" stroke="#1a1a1a" stroke-width="0.75"/>
<circle cx="299.7" cy="608.32" r="1.75" fill="#fff" stroke="#1a1a1a" stroke-width="0.75"/>
<circle cx="302.4" cy="608.92" r="1.75" fill="#fff" stroke="#1a1a1a" stroke-width="0.75"/>
<circle cx="294.9" cy="609.53" r="1.75" fill="#fff" stroke="#1a1a1a" stroke-width="0.75"/>
<circle cx="292.2" cy="610.13" r="1.75" fill="#fff" stroke="#1a1a1a" stroke-width="0.75"/>
<circle cx="297.6" cy="610.73" r="1.75" fill="#fff" stroke="#1a1a1a" stroke-width="0.75"/>
<circle cx="300.3" cy="611.33" r="1.75" fill="#fff" stroke="#1a1a1a" stroke-width="0.75"/>
<circle cx="303" cy="611.93" r="1.75" fill="#fff" stroke="#1a1a1a" stroke-width="0.75"/>
<circle cx="295.5" cy="612.53" r="1.75" fill="#fff" stroke="#1a1a1a" stroke-width="0.75"/>
<circle cx="292.8" cy="613.14" r="1.75" fill="#fff" stroke="#1a1a1a" stroke-width="0.75"/>
<circle cx="298.2" cy="613.74" r="1.75" fill="#fff" stroke="#1a1a1a" stroke-width="0.75"/>
<circle cx="300.9" cy="614.34" r="1.75" fill="#fff" stroke="#1a1a1a" stroke-width="0.75"/>
<circle cx="296.4" cy="615.82" r="1.75" fill="#fff" stroke="#1a1a1a" stroke-width="0.75"/>
<circle cx="299.1" cy="616.4" r="1.75" fill="#fff" stroke="#1a1a1a" stroke-width="0.75"/>
<circle cx="293.7" cy="616.99" r="1.75" fill="#fff" stroke="#1a1a1a" stroke-width="0.75"/>
<circle cx="301.8" cy="617.58" r="1.75" fill="#fff" stroke="#1a1a1a" stroke-width="0.75"/>
<circle cx="291" cy="618.17" r="1.75" fill="#fff" stroke="#1a1a1a" stroke-width="0.75"/>
<circle cx="296.7" cy="618.76" r="1.75" fill="#fff" stroke="#1a1a1a" stroke-width="0.75"/>
<circle cx="299.4" cy="619.35" r="1.75" fill="#fff" stroke="#1a1a1a" stroke-width="0.75"/>
<circle cx="294" cy="619.93" r="1.75" fill="#fff" stroke="#1a1a1a" stroke-width="0.75"/>
<circle cx="302.1" cy="620.52" r="1.75" fill="#fff" stroke="#1a1a1a" stroke-width="0.75"/>
<circle cx="291.3" cy="621.11" r="1.75" fill="#fff" stroke="#1a1a1a" stroke-width="0.75"/>
<circle cx="296.7" cy="621.7" r="1.75" fill="#fff" stroke="#1a1a1a" stroke-width="0.75"/>
<circle cx="299.4" cy="622.29" r="1.75" fill="#fff" stroke="#1a1a1a" stroke-width="0.75"/>
<circle cx="294" cy="622.88" r="1.75" fill="#fff" stroke="#1a1a1a" stroke-width="0.75"/>
<circle cx="302.1" cy="623.46" r="1.75" fill="#fff" stroke="#1a1a1a" stroke-width="0.75"/>
<circle cx="291.3" cy="624.05" r="1.75" fill="#fff" stroke="#1a1a1a" stroke-width="0.75"/>
<circle cx="296.7" cy="625.72" r="1.75" fill="#fff" stroke="#1a1a1a" stroke-width="0.75"/>
<circle cx="294" cy="626.69" r="1.75" fill="#fff" stroke="#1a1a1a" stroke-width="0.75"/>
<circle cx="298.8" cy="627.66" r="1.75" fill="#fff" stroke="#1a1a1a" stroke-width="0.75"/>
<circle cx="296.1" cy="628.63" r="1.75" fill="#fff" stroke="#1a1a1a" stroke-width="0.75"/>
<circle cx="293.4" cy="629.6" r="1.75" fill="#fff" stroke="#1a1a1a" stroke-width="0.75"/>
<circle cx="298.2" cy="630.57" r="1.75" fill="#fff" stroke="#1a1a1a" stroke-width="0.75"/>
<circle cx="295.5" cy="631.54" r="1.75" fill="#fff" stroke="#1a1a1a" stroke-width="0.75"/>
<circle cx="300.3" cy="632.51" r="1.75" fill="#fff" stroke="#1a1a1a" stroke-width="0.75"/>
<circle cx="297.6" cy="633.48" r="1.75" fill="#fff" stroke="#1a1a1a" stroke-width="0.75"/>
<circle cx="294.9" cy="634.45" r="1.75" fill="#fff" stroke="#1a1a1a" stroke-width="0.75"/>
<circle cx="296.7" cy="636.54" r="1.75" fill="#fff" stroke="#1a1a1a" stroke-width="0.75"/>
<circle cx="294.3" cy="637.97" r="1.75" fill="#fff" stroke="#1a1a1a" stroke-width="0.75"/>
<circle cx="296.7" cy="639.41" r="1.75" fill="#fff" stroke="#1a1a1a" stroke-width="0.75"/>
<circle cx="294.3" cy="640.84" r="1.75" fill="#fff" stroke="#1a1a1a" stroke-width="0.75"/>
<circle cx="296.7" cy="642.27" r="1.75" fill="#fff" stroke="#1a1a1a" stroke-width="0.75"/>
<circle cx="294.3" cy="643.71" r="1.75" fill="#fff" stroke="#1a1a1a" stroke-width="0.75"/>
<circle cx="296.7" cy="645.14" r="1.75" fill="#fff" stroke="#1a1a1a" stroke-width="0.75"/>
<circle cx="294.3" cy="646.58" r="1.75" fill="#fff" stroke="#1a1a1a" stroke-width="0.75"/>
<circle cx="296.7" cy="649.06" r="1.75" fill="#fff" stroke="#1a1a1a" stroke-width="0.75"/>
<circle cx="294.6" cy="650.82" r="1.75" fill="#fff" stroke="#1a1a1a" stroke-width="0.75"/>
<circle cx="296.7" cy="652.59" r="1.75" fill="#fff" stroke="#1a1a1a" stroke-width="0.75"/>
<circle cx="294.6" cy="654.35" r="1.75" fill="#fff" stroke="#1a1a1a" stroke-width="0.75"/>
<circle cx="296.7" cy="656.12" r="1.75" fill="#fff" stroke="#1a1a1a" stroke-width="0.75"/>
<circle cx="296.7" cy="662.82" r="1.75" fill="#fff" stroke="#1a1a1a" stroke-width="0.75"/>
<circle cx="296.7" cy="670.41" r="1.75" fill="#fff" stroke="#1a1a1a" stroke-width="0.75"/>
<circle cx="296.7" cy="676.41" r="1.75" fill="#fff" stroke="#1a1a1a" stroke-width="0.75"/>
<text x="342.6" y="551.3" font-size="9" text-anchor="start" fill="#231f20" textLength="7.5" lengthAdjust="spacingAndGlyphs">m</text>
<line x1="368.5" y1="567.8" x2="368.5" y2="700.2" stroke="#4a4a4a" stroke-width="1"/>
<line x1="368.9" y1="700.5" x2="497.4" y2="700.5" stroke="#808080" stroke-width="1.2"/>
<line x1="368.9" y1="568.5" x2="370.9" y2="568.5" stroke="#4a4a4a" stroke-width="0.8"/>
<text x="365.2" y="572" font-size="9.54" text-anchor="end" fill="#231f20" textLength="9.31" lengthAdjust="spacingAndGlyphs">10</text>
<line x1="368.9" y1="595.5" x2="370.9" y2="595.5" stroke="#4a4a4a" stroke-width="0.8"/>
<text x="365.2" y="598.3" font-size="9.54" text-anchor="end" fill="#231f20" textLength="4.65" lengthAdjust="spacingAndGlyphs">9</text>
<line x1="368.9" y1="621.5" x2="370.9" y2="621.5" stroke="#4a4a4a" stroke-width="0.8"/>
<text x="365.2" y="624.6" font-size="9.54" text-anchor="end" fill="#231f20" textLength="4.65" lengthAdjust="spacingAndGlyphs">8</text>
<line x1="368.9" y1="647.5" x2="370.9" y2="647.5" stroke="#4a4a4a" stroke-width="0.8"/>
<text x="365.2" y="650.9" font-size="9.54" text-anchor="end" fill="#231f20" textLength="4.65" lengthAdjust="spacingAndGlyphs">7</text>
<line x1="368.9" y1="673.5" x2="370.9" y2="673.5" stroke="#4a4a4a" stroke-width="0.8"/>
<text x="365.2" y="677.2" font-size="9.54" text-anchor="end" fill="#231f20" textLength="4.65" lengthAdjust="spacingAndGlyphs">6</text>
<line x1="368.9" y1="700.5" x2="370.9" y2="700.5" stroke="#4a4a4a" stroke-width="0.8"/>
<text x="365.2" y="703.5" font-size="9.54" text-anchor="end" fill="#231f20" textLength="4.65" lengthAdjust="spacingAndGlyphs">5</text>
<line x1="386.5" y1="700.2" x2="386.5" y2="698.2" stroke="#4a4a4a" stroke-width="0.8"/>
<line x1="447.5" y1="700.2" x2="447.5" y2="698.2" stroke="#4a4a4a" stroke-width="0.8"/>
<text x="386" y="713.4" font-size="9" text-anchor="middle" fill="#231f20" textLength="13" lengthAdjust="spacingAndGlyphs">KO</text>
<text x="447.4" y="713.4" font-size="9" text-anchor="middle" fill="#231f20" textLength="13.99" lengthAdjust="spacingAndGlyphs">WT</text>
<text transform="translate(350.5 635.5) rotate(-90)" x="0" y="0" font-size="9" text-anchor="middle" fill="#231f20" textLength="93" lengthAdjust="spacingAndGlyphs">Peak 1b frequency (Hz)</text>
<text x="407" y="563.9" font-size="9" text-anchor="start" fill="#231f20" textLength="31.5" lengthAdjust="spacingAndGlyphs">p = 0.94</text>
<line x1="386" y1="605.3" x2="386" y2="636.4" stroke="#929292" stroke-width="1.6"/>
<line x1="386" y1="663.1" x2="386" y2="684.4" stroke="#929292" stroke-width="1.6"/>
<line x1="383.35" y1="605.5" x2="388.65" y2="605.5" stroke="#2a2a2a" stroke-width="1"/>
<line x1="383.35" y1="684.5" x2="388.65" y2="684.5" stroke="#2a2a2a" stroke-width="1"/>
<rect x="380.5" y="636.5" width="11" height="27" fill="#ff0000" stroke="#1a1a1a" stroke-width="1"/>
<line x1="380.5" y1="652.5" x2="391.5" y2="652.5" stroke="#1a1a1a" stroke-width="1"/>
<line x1="447.5" y1="605.3" x2="447.5" y2="636.4" stroke="#333" stroke-width="1"/>
<line x1="447.5" y1="663.1" x2="447.5" y2="694.6" stroke="#333" stroke-width="1"/>
<line x1="445.15" y1="605.5" x2="450.45" y2="605.5" stroke="#2a2a2a" stroke-width="1"/>
<line x1="445.15" y1="694.5" x2="450.45" y2="694.5" stroke="#2a2a2a" stroke-width="1"/>
<rect x="442.5" y="636.5" width="11" height="27" fill="#b3b3b3" stroke="#1a1a1a" stroke-width="1"/>
<line x1="442.35" y1="652.5" x2="453.25" y2="652.5" stroke="#1a1a1a" stroke-width="1"/>
<circle cx="408.6" cy="605.52" r="1.75" fill="#fff" stroke="#1a1a1a" stroke-width="0.75"/>
<circle cx="407.75" cy="610.78" r="1.75" fill="#fff" stroke="#1a1a1a" stroke-width="0.75"/>
<circle cx="409.45" cy="610.78" r="1.75" fill="#fff" stroke="#1a1a1a" stroke-width="0.75"/>
<circle cx="405.5" cy="616.04" r="1.75" fill="#fff" stroke="#1a1a1a" stroke-width="0.75"/>
<circle cx="408.6" cy="616.04" r="1.75" fill="#fff" stroke="#1a1a1a" stroke-width="0.75"/>
<circle cx="411.7" cy="616.04" r="1.75" fill="#fff" stroke="#1a1a1a" stroke-width="0.75"/>
<circle cx="405.5" cy="621.3" r="1.75" fill="#fff" stroke="#1a1a1a" stroke-width="0.75"/>
<circle cx="408.6" cy="621.3" r="1.75" fill="#fff" stroke="#1a1a1a" stroke-width="0.75"/>
<circle cx="411.7" cy="621.3" r="1.75" fill="#fff" stroke="#1a1a1a" stroke-width="0.75"/>
<circle cx="403.95" cy="626.56" r="1.75" fill="#fff" stroke="#1a1a1a" stroke-width="0.75"/>
<circle cx="407.05" cy="626.56" r="1.75" fill="#fff" stroke="#1a1a1a" stroke-width="0.75"/>
<circle cx="410.15" cy="626.56" r="1.75" fill="#fff" stroke="#1a1a1a" stroke-width="0.75"/>
<circle cx="413.25" cy="626.56" r="1.75" fill="#fff" stroke="#1a1a1a" stroke-width="0.75"/>
<circle cx="405.5" cy="631.82" r="1.75" fill="#fff" stroke="#1a1a1a" stroke-width="0.75"/>
<circle cx="408.6" cy="631.82" r="1.75" fill="#fff" stroke="#1a1a1a" stroke-width="0.75"/>
<circle cx="411.7" cy="631.82" r="1.75" fill="#fff" stroke="#1a1a1a" stroke-width="0.75"/>
<circle cx="399.3" cy="637.08" r="1.75" fill="#fff" stroke="#1a1a1a" stroke-width="0.75"/>
<circle cx="402.4" cy="637.08" r="1.75" fill="#fff" stroke="#1a1a1a" stroke-width="0.75"/>
<circle cx="405.5" cy="637.08" r="1.75" fill="#fff" stroke="#1a1a1a" stroke-width="0.75"/>
<circle cx="408.6" cy="637.08" r="1.75" fill="#fff" stroke="#1a1a1a" stroke-width="0.75"/>
<circle cx="411.7" cy="637.08" r="1.75" fill="#fff" stroke="#1a1a1a" stroke-width="0.75"/>
<circle cx="414.8" cy="637.08" r="1.75" fill="#fff" stroke="#1a1a1a" stroke-width="0.75"/>
<circle cx="417.9" cy="637.08" r="1.75" fill="#fff" stroke="#1a1a1a" stroke-width="0.75"/>
<circle cx="400.85" cy="642.34" r="1.75" fill="#fff" stroke="#1a1a1a" stroke-width="0.75"/>
<circle cx="403.95" cy="642.34" r="1.75" fill="#fff" stroke="#1a1a1a" stroke-width="0.75"/>
<circle cx="407.05" cy="642.34" r="1.75" fill="#fff" stroke="#1a1a1a" stroke-width="0.75"/>
<circle cx="410.15" cy="642.34" r="1.75" fill="#fff" stroke="#1a1a1a" stroke-width="0.75"/>
<circle cx="413.25" cy="642.34" r="1.75" fill="#fff" stroke="#1a1a1a" stroke-width="0.75"/>
<circle cx="416.35" cy="642.34" r="1.75" fill="#fff" stroke="#1a1a1a" stroke-width="0.75"/>
<circle cx="405.5" cy="647.6" r="1.75" fill="#fff" stroke="#1a1a1a" stroke-width="0.75"/>
<circle cx="408.6" cy="647.6" r="1.75" fill="#fff" stroke="#1a1a1a" stroke-width="0.75"/>
<circle cx="411.7" cy="647.6" r="1.75" fill="#fff" stroke="#1a1a1a" stroke-width="0.75"/>
<circle cx="403.95" cy="652.86" r="1.75" fill="#fff" stroke="#1a1a1a" stroke-width="0.75"/>
<circle cx="407.05" cy="652.86" r="1.75" fill="#fff" stroke="#1a1a1a" stroke-width="0.75"/>
<circle cx="410.15" cy="652.86" r="1.75" fill="#fff" stroke="#1a1a1a" stroke-width="0.75"/>
<circle cx="413.25" cy="652.86" r="1.75" fill="#fff" stroke="#1a1a1a" stroke-width="0.75"/>
<circle cx="397.75" cy="658.12" r="1.75" fill="#fff" stroke="#1a1a1a" stroke-width="0.75"/>
<circle cx="400.85" cy="658.12" r="1.75" fill="#fff" stroke="#1a1a1a" stroke-width="0.75"/>
<circle cx="403.95" cy="658.12" r="1.75" fill="#fff" stroke="#1a1a1a" stroke-width="0.75"/>
<circle cx="407.05" cy="658.12" r="1.75" fill="#fff" stroke="#1a1a1a" stroke-width="0.75"/>
<circle cx="410.15" cy="658.12" r="1.75" fill="#fff" stroke="#1a1a1a" stroke-width="0.75"/>
<circle cx="413.25" cy="658.12" r="1.75" fill="#fff" stroke="#1a1a1a" stroke-width="0.75"/>
<circle cx="416.35" cy="658.12" r="1.75" fill="#fff" stroke="#1a1a1a" stroke-width="0.75"/>
<circle cx="419.45" cy="658.12" r="1.75" fill="#fff" stroke="#1a1a1a" stroke-width="0.75"/>
<circle cx="394.65" cy="663.38" r="1.75" fill="#fff" stroke="#1a1a1a" stroke-width="0.75"/>
<circle cx="397.75" cy="663.38" r="1.75" fill="#fff" stroke="#1a1a1a" stroke-width="0.75"/>
<circle cx="400.85" cy="663.38" r="1.75" fill="#fff" stroke="#1a1a1a" stroke-width="0.75"/>
<circle cx="403.95" cy="663.38" r="1.75" fill="#fff" stroke="#1a1a1a" stroke-width="0.75"/>
<circle cx="407.05" cy="663.38" r="1.75" fill="#fff" stroke="#1a1a1a" stroke-width="0.75"/>
<circle cx="410.15" cy="663.38" r="1.75" fill="#fff" stroke="#1a1a1a" stroke-width="0.75"/>
<circle cx="413.25" cy="663.38" r="1.75" fill="#fff" stroke="#1a1a1a" stroke-width="0.75"/>
<circle cx="416.35" cy="663.38" r="1.75" fill="#fff" stroke="#1a1a1a" stroke-width="0.75"/>
<circle cx="419.45" cy="663.38" r="1.75" fill="#fff" stroke="#1a1a1a" stroke-width="0.75"/>
<circle cx="422.55" cy="663.38" r="1.75" fill="#fff" stroke="#1a1a1a" stroke-width="0.75"/>
<circle cx="405.5" cy="668.64" r="1.75" fill="#fff" stroke="#1a1a1a" stroke-width="0.75"/>
<circle cx="408.6" cy="668.64" r="1.75" fill="#fff" stroke="#1a1a1a" stroke-width="0.75"/>
<circle cx="411.7" cy="668.64" r="1.75" fill="#fff" stroke="#1a1a1a" stroke-width="0.75"/>
<circle cx="397.75" cy="673.9" r="1.75" fill="#fff" stroke="#1a1a1a" stroke-width="0.75"/>
<circle cx="400.85" cy="673.9" r="1.75" fill="#fff" stroke="#1a1a1a" stroke-width="0.75"/>
<circle cx="403.95" cy="673.9" r="1.75" fill="#fff" stroke="#1a1a1a" stroke-width="0.75"/>
<circle cx="407.05" cy="673.9" r="1.75" fill="#fff" stroke="#1a1a1a" stroke-width="0.75"/>
<circle cx="410.15" cy="673.9" r="1.75" fill="#fff" stroke="#1a1a1a" stroke-width="0.75"/>
<circle cx="413.25" cy="673.9" r="1.75" fill="#fff" stroke="#1a1a1a" stroke-width="0.75"/>
<circle cx="416.35" cy="673.9" r="1.75" fill="#fff" stroke="#1a1a1a" stroke-width="0.75"/>
<circle cx="419.45" cy="673.9" r="1.75" fill="#fff" stroke="#1a1a1a" stroke-width="0.75"/>
<circle cx="407.75" cy="679.16" r="1.75" fill="#fff" stroke="#1a1a1a" stroke-width="0.75"/>
<circle cx="409.45" cy="679.16" r="1.75" fill="#fff" stroke="#1a1a1a" stroke-width="0.75"/>
<circle cx="408.6" cy="684.42" r="1.75" fill="#fff" stroke="#1a1a1a" stroke-width="0.75"/>
<circle cx="469.25" cy="605.52" r="1.75" fill="#fff" stroke="#1a1a1a" stroke-width="0.75"/>
<circle cx="470.95" cy="605.52" r="1.75" fill="#fff" stroke="#1a1a1a" stroke-width="0.75"/>
<circle cx="467" cy="616.04" r="1.75" fill="#fff" stroke="#1a1a1a" stroke-width="0.75"/>
<circle cx="470.1" cy="616.04" r="1.75" fill="#fff" stroke="#1a1a1a" stroke-width="0.75"/>
<circle cx="473.2" cy="616.04" r="1.75" fill="#fff" stroke="#1a1a1a" stroke-width="0.75"/>
<circle cx="470.1" cy="621.3" r="1.75" fill="#fff" stroke="#1a1a1a" stroke-width="0.75"/>
<circle cx="462.35" cy="626.56" r="1.75" fill="#fff" stroke="#1a1a1a" stroke-width="0.75"/>
<circle cx="465.45" cy="626.56" r="1.75" fill="#fff" stroke="#1a1a1a" stroke-width="0.75"/>
<circle cx="468.55" cy="626.56" r="1.75" fill="#fff" stroke="#1a1a1a" stroke-width="0.75"/>
<circle cx="471.65" cy="626.56" r="1.75" fill="#fff" stroke="#1a1a1a" stroke-width="0.75"/>
<circle cx="474.75" cy="626.56" r="1.75" fill="#fff" stroke="#1a1a1a" stroke-width="0.75"/>
<circle cx="477.85" cy="626.56" r="1.75" fill="#fff" stroke="#1a1a1a" stroke-width="0.75"/>
<circle cx="465.45" cy="631.82" r="1.75" fill="#fff" stroke="#1a1a1a" stroke-width="0.75"/>
<circle cx="468.55" cy="631.82" r="1.75" fill="#fff" stroke="#1a1a1a" stroke-width="0.75"/>
<circle cx="471.65" cy="631.82" r="1.75" fill="#fff" stroke="#1a1a1a" stroke-width="0.75"/>
<circle cx="474.75" cy="631.82" r="1.75" fill="#fff" stroke="#1a1a1a" stroke-width="0.75"/>
<circle cx="463.9" cy="637.08" r="1.75" fill="#fff" stroke="#1a1a1a" stroke-width="0.75"/>
<circle cx="467" cy="637.08" r="1.75" fill="#fff" stroke="#1a1a1a" stroke-width="0.75"/>
<circle cx="470.1" cy="637.08" r="1.75" fill="#fff" stroke="#1a1a1a" stroke-width="0.75"/>
<circle cx="473.2" cy="637.08" r="1.75" fill="#fff" stroke="#1a1a1a" stroke-width="0.75"/>
<circle cx="476.3" cy="637.08" r="1.75" fill="#fff" stroke="#1a1a1a" stroke-width="0.75"/>
<circle cx="463.9" cy="642.34" r="1.75" fill="#fff" stroke="#1a1a1a" stroke-width="0.75"/>
<circle cx="467" cy="642.34" r="1.75" fill="#fff" stroke="#1a1a1a" stroke-width="0.75"/>
<circle cx="470.1" cy="642.34" r="1.75" fill="#fff" stroke="#1a1a1a" stroke-width="0.75"/>
<circle cx="473.2" cy="642.34" r="1.75" fill="#fff" stroke="#1a1a1a" stroke-width="0.75"/>
<circle cx="476.3" cy="642.34" r="1.75" fill="#fff" stroke="#1a1a1a" stroke-width="0.75"/>
<circle cx="463.9" cy="647.6" r="1.75" fill="#fff" stroke="#1a1a1a" stroke-width="0.75"/>
<circle cx="467" cy="647.6" r="1.75" fill="#fff" stroke="#1a1a1a" stroke-width="0.75"/>
<circle cx="470.1" cy="647.6" r="1.75" fill="#fff" stroke="#1a1a1a" stroke-width="0.75"/>
<circle cx="473.2" cy="647.6" r="1.75" fill="#fff" stroke="#1a1a1a" stroke-width="0.75"/>
<circle cx="476.3" cy="647.6" r="1.75" fill="#fff" stroke="#1a1a1a" stroke-width="0.75"/>
<circle cx="460.8" cy="652.86" r="1.75" fill="#fff" stroke="#1a1a1a" stroke-width="0.75"/>
<circle cx="463.9" cy="652.86" r="1.75" fill="#fff" stroke="#1a1a1a" stroke-width="0.75"/>
<circle cx="467" cy="652.86" r="1.75" fill="#fff" stroke="#1a1a1a" stroke-width="0.75"/>
<circle cx="470.1" cy="652.86" r="1.75" fill="#fff" stroke="#1a1a1a" stroke-width="0.75"/>
<circle cx="473.2" cy="652.86" r="1.75" fill="#fff" stroke="#1a1a1a" stroke-width="0.75"/>
<circle cx="476.3" cy="652.86" r="1.75" fill="#fff" stroke="#1a1a1a" stroke-width="0.75"/>
<circle cx="479.4" cy="652.86" r="1.75" fill="#fff" stroke="#1a1a1a" stroke-width="0.75"/>
<circle cx="462.35" cy="658.12" r="1.75" fill="#fff" stroke="#1a1a1a" stroke-width="0.75"/>
<circle cx="465.45" cy="658.12" r="1.75" fill="#fff" stroke="#1a1a1a" stroke-width="0.75"/>
<circle cx="468.55" cy="658.12" r="1.75" fill="#fff" stroke="#1a1a1a" stroke-width="0.75"/>
<circle cx="471.65" cy="658.12" r="1.75" fill="#fff" stroke="#1a1a1a" stroke-width="0.75"/>
<circle cx="474.75" cy="658.12" r="1.75" fill="#fff" stroke="#1a1a1a" stroke-width="0.75"/>
<circle cx="477.85" cy="658.12" r="1.75" fill="#fff" stroke="#1a1a1a" stroke-width="0.75"/>
<circle cx="456.15" cy="663.38" r="1.75" fill="#fff" stroke="#1a1a1a" stroke-width="0.75"/>
<circle cx="459.25" cy="663.38" r="1.75" fill="#fff" stroke="#1a1a1a" stroke-width="0.75"/>
<circle cx="462.35" cy="663.38" r="1.75" fill="#fff" stroke="#1a1a1a" stroke-width="0.75"/>
<circle cx="465.45" cy="663.38" r="1.75" fill="#fff" stroke="#1a1a1a" stroke-width="0.75"/>
<circle cx="468.55" cy="663.38" r="1.75" fill="#fff" stroke="#1a1a1a" stroke-width="0.75"/>
<circle cx="471.65" cy="663.38" r="1.75" fill="#fff" stroke="#1a1a1a" stroke-width="0.75"/>
<circle cx="474.75" cy="663.38" r="1.75" fill="#fff" stroke="#1a1a1a" stroke-width="0.75"/>
<circle cx="477.85" cy="663.38" r="1.75" fill="#fff" stroke="#1a1a1a" stroke-width="0.75"/>
<circle cx="480.95" cy="663.38" r="1.75" fill="#fff" stroke="#1a1a1a" stroke-width="0.75"/>
<circle cx="484.05" cy="663.38" r="1.75" fill="#fff" stroke="#1a1a1a" stroke-width="0.75"/>
<circle cx="463.9" cy="668.64" r="1.75" fill="#fff" stroke="#1a1a1a" stroke-width="0.75"/>
<circle cx="467" cy="668.64" r="1.75" fill="#fff" stroke="#1a1a1a" stroke-width="0.75"/>
<circle cx="470.1" cy="668.64" r="1.75" fill="#fff" stroke="#1a1a1a" stroke-width="0.75"/>
<circle cx="473.2" cy="668.64" r="1.75" fill="#fff" stroke="#1a1a1a" stroke-width="0.75"/>
<circle cx="476.3" cy="668.64" r="1.75" fill="#fff" stroke="#1a1a1a" stroke-width="0.75"/>
<circle cx="462.35" cy="673.9" r="1.75" fill="#fff" stroke="#1a1a1a" stroke-width="0.75"/>
<circle cx="465.45" cy="673.9" r="1.75" fill="#fff" stroke="#1a1a1a" stroke-width="0.75"/>
<circle cx="468.55" cy="673.9" r="1.75" fill="#fff" stroke="#1a1a1a" stroke-width="0.75"/>
<circle cx="471.65" cy="673.9" r="1.75" fill="#fff" stroke="#1a1a1a" stroke-width="0.75"/>
<circle cx="474.75" cy="673.9" r="1.75" fill="#fff" stroke="#1a1a1a" stroke-width="0.75"/>
<circle cx="477.85" cy="673.9" r="1.75" fill="#fff" stroke="#1a1a1a" stroke-width="0.75"/>
<circle cx="470.1" cy="684.42" r="1.75" fill="#fff" stroke="#1a1a1a" stroke-width="0.75"/>
<circle cx="470.1" cy="694.94" r="1.75" fill="#fff" stroke="#1a1a1a" stroke-width="0.75"/>
<text x="524.7" y="550.3" font-size="9" text-anchor="start" fill="#231f20" textLength="5" lengthAdjust="spacingAndGlyphs">n</text>
<line x1="549.5" y1="566.9" x2="549.5" y2="699.5" stroke="#4a4a4a" stroke-width="1"/>
<line x1="549.1" y1="699.5" x2="668.4" y2="699.5" stroke="#808080" stroke-width="1.2"/>
<line x1="549.1" y1="566.5" x2="551.1" y2="566.5" stroke="#4a4a4a" stroke-width="0.8"/>
<text x="545" y="570.23" font-size="9.54" text-anchor="end" fill="#231f20" textLength="4.65" lengthAdjust="spacingAndGlyphs">7</text>
<line x1="549.1" y1="584.5" x2="551.1" y2="584.5" stroke="#4a4a4a" stroke-width="0.8"/>
<text x="545" y="587.94" font-size="9.54" text-anchor="end" fill="#231f20" textLength="4.65" lengthAdjust="spacingAndGlyphs">6</text>
<line x1="549.1" y1="602.5" x2="551.1" y2="602.5" stroke="#4a4a4a" stroke-width="0.8"/>
<text x="545" y="605.65" font-size="9.54" text-anchor="end" fill="#231f20" textLength="4.65" lengthAdjust="spacingAndGlyphs">5</text>
<line x1="549.1" y1="620.5" x2="551.1" y2="620.5" stroke="#4a4a4a" stroke-width="0.8"/>
<text x="545" y="623.36" font-size="9.54" text-anchor="end" fill="#231f20" textLength="4.65" lengthAdjust="spacingAndGlyphs">4</text>
<line x1="549.1" y1="637.5" x2="551.1" y2="637.5" stroke="#4a4a4a" stroke-width="0.8"/>
<text x="545" y="641.07" font-size="9.54" text-anchor="end" fill="#231f20" textLength="4.65" lengthAdjust="spacingAndGlyphs">3</text>
<line x1="549.1" y1="655.5" x2="551.1" y2="655.5" stroke="#4a4a4a" stroke-width="0.8"/>
<text x="545" y="658.78" font-size="9.54" text-anchor="end" fill="#231f20" textLength="4.65" lengthAdjust="spacingAndGlyphs">2</text>
<line x1="549.1" y1="673.5" x2="551.1" y2="673.5" stroke="#4a4a4a" stroke-width="0.8"/>
<text x="545" y="676.49" font-size="9.54" text-anchor="end" fill="#231f20" textLength="4.65" lengthAdjust="spacingAndGlyphs">1</text>
<line x1="549.1" y1="690.5" x2="551.1" y2="690.5" stroke="#4a4a4a" stroke-width="0.8"/>
<text x="545" y="694.2" font-size="9.54" text-anchor="end" fill="#231f20" textLength="4.65" lengthAdjust="spacingAndGlyphs">0</text>
<line x1="563.5" y1="699.5" x2="563.5" y2="697.5" stroke="#4a4a4a" stroke-width="0.8"/>
<line x1="624.5" y1="699.5" x2="624.5" y2="697.5" stroke="#4a4a4a" stroke-width="0.8"/>
<text x="563.5" y="713.4" font-size="9" text-anchor="middle" fill="#231f20" textLength="13" lengthAdjust="spacingAndGlyphs">KO</text>
<text x="624" y="713.4" font-size="9" text-anchor="middle" fill="#231f20" textLength="13.99" lengthAdjust="spacingAndGlyphs">WT</text>
<text transform="translate(531.7 637.6) rotate(-90)" x="0" y="0" font-size="9" text-anchor="middle" fill="#231f20" textLength="77" lengthAdjust="spacingAndGlyphs">Peak 1b power (dB)</text>
<text x="579.6" y="565" font-size="9" text-anchor="start" fill="#231f20" textLength="43" lengthAdjust="spacingAndGlyphs">p = 4.4 e-5</text>
<line x1="563.8" y1="595.2" x2="563.8" y2="632.6" stroke="#929292" stroke-width="1.6"/>
<line x1="563.8" y1="653.4" x2="563.8" y2="683.4" stroke="#929292" stroke-width="1.6"/>
<line x1="561.15" y1="595.5" x2="566.45" y2="595.5" stroke="#2a2a2a" stroke-width="1"/>
<line x1="561.15" y1="683.5" x2="566.45" y2="683.5" stroke="#2a2a2a" stroke-width="1"/>
<rect x="558.5" y="632.5" width="11" height="21" fill="#ff0000" stroke="#1a1a1a" stroke-width="1"/>
<line x1="558.55" y1="640.5" x2="569.05" y2="640.5" stroke="#1a1a1a" stroke-width="1"/>
<line x1="624.5" y1="593.3" x2="624.5" y2="617.4" stroke="#333" stroke-width="1"/>
<line x1="624.5" y1="640.4" x2="624.5" y2="665.4" stroke="#333" stroke-width="1"/>
<line x1="621.95" y1="593.5" x2="627.25" y2="593.5" stroke="#2a2a2a" stroke-width="1"/>
<line x1="621.95" y1="665.5" x2="627.25" y2="665.5" stroke="#2a2a2a" stroke-width="1"/>
<rect x="619.5" y="617.5" width="11" height="23" fill="#b3b3b3" stroke="#1a1a1a" stroke-width="1"/>
<line x1="619.2" y1="632.5" x2="630" y2="632.5" stroke="#1a1a1a" stroke-width="1"/>
<circle cx="582.7" cy="595.97" r="1.75" fill="#fff" stroke="#1a1a1a" stroke-width="0.75"/>
<circle cx="582.7" cy="610.85" r="1.75" fill="#fff" stroke="#1a1a1a" stroke-width="0.75"/>
<circle cx="582.7" cy="617.58" r="1.75" fill="#fff" stroke="#1a1a1a" stroke-width="0.75"/>
<circle cx="582.7" cy="622.83" r="1.75" fill="#fff" stroke="#1a1a1a" stroke-width="0.75"/>
<circle cx="585.4" cy="623.78" r="1.75" fill="#fff" stroke="#1a1a1a" stroke-width="0.75"/>
<circle cx="580.6" cy="624.72" r="1.75" fill="#fff" stroke="#1a1a1a" stroke-width="0.75"/>
<circle cx="583.3" cy="625.67" r="1.75" fill="#fff" stroke="#1a1a1a" stroke-width="0.75"/>
<circle cx="586" cy="626.61" r="1.75" fill="#fff" stroke="#1a1a1a" stroke-width="0.75"/>
<circle cx="581.2" cy="627.56" r="1.75" fill="#fff" stroke="#1a1a1a" stroke-width="0.75"/>
<circle cx="583.3" cy="629.48" r="1.75" fill="#fff" stroke="#1a1a1a" stroke-width="0.75"/>
<circle cx="579.7" cy="629.91" r="1.75" fill="#fff" stroke="#1a1a1a" stroke-width="0.75"/>
<circle cx="586" cy="630.33" r="1.75" fill="#fff" stroke="#1a1a1a" stroke-width="0.75"/>
<circle cx="577" cy="630.76" r="1.75" fill="#fff" stroke="#1a1a1a" stroke-width="0.75"/>
<circle cx="588.7" cy="631.18" r="1.75" fill="#fff" stroke="#1a1a1a" stroke-width="0.75"/>
<circle cx="574.3" cy="631.61" r="1.75" fill="#fff" stroke="#1a1a1a" stroke-width="0.75"/>
<circle cx="582.4" cy="632.03" r="1.75" fill="#fff" stroke="#1a1a1a" stroke-width="0.75"/>
<circle cx="591.1" cy="632.46" r="1.75" fill="#fff" stroke="#1a1a1a" stroke-width="0.75"/>
<circle cx="585.1" cy="632.88" r="1.75" fill="#fff" stroke="#1a1a1a" stroke-width="0.75"/>
<circle cx="580" cy="633.31" r="1.75" fill="#fff" stroke="#1a1a1a" stroke-width="0.75"/>
<circle cx="587.8" cy="633.73" r="1.75" fill="#fff" stroke="#1a1a1a" stroke-width="0.75"/>
<circle cx="577.3" cy="634.16" r="1.75" fill="#fff" stroke="#1a1a1a" stroke-width="0.75"/>
<circle cx="574.6" cy="634.58" r="1.75" fill="#fff" stroke="#1a1a1a" stroke-width="0.75"/>
<circle cx="582.7" cy="635.01" r="1.75" fill="#fff" stroke="#1a1a1a" stroke-width="0.75"/>
<circle cx="589.9" cy="635.43" r="1.75" fill="#fff" stroke="#1a1a1a" stroke-width="0.75"/>
<circle cx="585.4" cy="635.86" r="1.75" fill="#fff" stroke="#1a1a1a" stroke-width="0.75"/>
<circle cx="580.3" cy="636.28" r="1.75" fill="#fff" stroke="#1a1a1a" stroke-width="0.75"/>
<circle cx="576.4" cy="636.71" r="1.75" fill="#fff" stroke="#1a1a1a" stroke-width="0.75"/>
<circle cx="587.8" cy="637.13" r="1.75" fill="#fff" stroke="#1a1a1a" stroke-width="0.75"/>
<circle cx="591.7" cy="637.56" r="1.75" fill="#fff" stroke="#1a1a1a" stroke-width="0.75"/>
<circle cx="582.7" cy="638.15" r="1.75" fill="#fff" stroke="#1a1a1a" stroke-width="0.75"/>
<circle cx="585.4" cy="638.91" r="1.75" fill="#fff" stroke="#1a1a1a" stroke-width="0.75"/>
<circle cx="580.3" cy="639.66" r="1.75" fill="#fff" stroke="#1a1a1a" stroke-width="0.75"/>
<circle cx="587.8" cy="640.42" r="1.75" fill="#fff" stroke="#1a1a1a" stroke-width="0.75"/>
<circle cx="582.7" cy="641.18" r="1.75" fill="#fff" stroke="#1a1a1a" stroke-width="0.75"/>
<circle cx="585.4" cy="641.93" r="1.75" fill="#fff" stroke="#1a1a1a" stroke-width="0.75"/>
<circle cx="580.3" cy="642.69" r="1.75" fill="#fff" stroke="#1a1a1a" stroke-width="0.75"/>
<circle cx="587.8" cy="643.45" r="1.75" fill="#fff" stroke="#1a1a1a" stroke-width="0.75"/>
<circle cx="582.7" cy="644.2" r="1.75" fill="#fff" stroke="#1a1a1a" stroke-width="0.75"/>
<circle cx="585.4" cy="644.96" r="1.75" fill="#fff" stroke="#1a1a1a" stroke-width="0.75"/>
<circle cx="580.3" cy="645.72" r="1.75" fill="#fff" stroke="#1a1a1a" stroke-width="0.75"/>
<circle cx="582.7" cy="647.07" r="1.75" fill="#fff" stroke="#1a1a1a" stroke-width="0.75"/>
<circle cx="585.4" cy="647.95" r="1.75" fill="#fff" stroke="#1a1a1a" stroke-width="0.75"/>
<circle cx="580.6" cy="648.84" r="1.75" fill="#fff" stroke="#1a1a1a" stroke-width="0.75"/>
<circle cx="583.3" cy="649.72" r="1.75" fill="#fff" stroke="#1a1a1a" stroke-width="0.75"/>
<circle cx="586" cy="650.61" r="1.75" fill="#fff" stroke="#1a1a1a" stroke-width="0.75"/>
<circle cx="581.5" cy="651.77" r="1.75" fill="#fff" stroke="#1a1a1a" stroke-width="0.75"/>
<circle cx="578.8" cy="652.14" r="1.75" fill="#fff" stroke="#1a1a1a" stroke-width="0.75"/>
<circle cx="588.1" cy="652.52" r="1.75" fill="#fff" stroke="#1a1a1a" stroke-width="0.75"/>
<circle cx="584.2" cy="652.89" r="1.75" fill="#fff" stroke="#1a1a1a" stroke-width="0.75"/>
<circle cx="576.1" cy="653.27" r="1.75" fill="#fff" stroke="#1a1a1a" stroke-width="0.75"/>
<circle cx="590.8" cy="653.64" r="1.75" fill="#fff" stroke="#1a1a1a" stroke-width="0.75"/>
<circle cx="573.4" cy="654.01" r="1.75" fill="#fff" stroke="#1a1a1a" stroke-width="0.75"/>
<circle cx="580.6" cy="654.39" r="1.75" fill="#fff" stroke="#1a1a1a" stroke-width="0.75"/>
<circle cx="586.3" cy="654.76" r="1.75" fill="#fff" stroke="#1a1a1a" stroke-width="0.75"/>
<circle cx="582.7" cy="656.36" r="1.75" fill="#fff" stroke="#1a1a1a" stroke-width="0.75"/>
<circle cx="580" cy="657.05" r="1.75" fill="#fff" stroke="#1a1a1a" stroke-width="0.75"/>
<circle cx="585.1" cy="657.74" r="1.75" fill="#fff" stroke="#1a1a1a" stroke-width="0.75"/>
<circle cx="577.6" cy="658.43" r="1.75" fill="#fff" stroke="#1a1a1a" stroke-width="0.75"/>
<circle cx="582.7" cy="659.12" r="1.75" fill="#fff" stroke="#1a1a1a" stroke-width="0.75"/>
<circle cx="580" cy="659.81" r="1.75" fill="#fff" stroke="#1a1a1a" stroke-width="0.75"/>
<circle cx="585.1" cy="660.5" r="1.75" fill="#fff" stroke="#1a1a1a" stroke-width="0.75"/>
<circle cx="577.6" cy="661.19" r="1.75" fill="#fff" stroke="#1a1a1a" stroke-width="0.75"/>
<circle cx="582.7" cy="661.88" r="1.75" fill="#fff" stroke="#1a1a1a" stroke-width="0.75"/>
<circle cx="580" cy="662.57" r="1.75" fill="#fff" stroke="#1a1a1a" stroke-width="0.75"/>
<circle cx="582.7" cy="664.81" r="1.75" fill="#fff" stroke="#1a1a1a" stroke-width="0.75"/>
<circle cx="580" cy="665.75" r="1.75" fill="#fff" stroke="#1a1a1a" stroke-width="0.75"/>
<circle cx="584.8" cy="666.7" r="1.75" fill="#fff" stroke="#1a1a1a" stroke-width="0.75"/>
<circle cx="582.7" cy="671.06" r="1.75" fill="#fff" stroke="#1a1a1a" stroke-width="0.75"/>
<circle cx="582.7" cy="683.28" r="1.75" fill="#fff" stroke="#1a1a1a" stroke-width="0.75"/>
<circle cx="645.2" cy="592.96" r="1.75" fill="#fff" stroke="#1a1a1a" stroke-width="0.75"/>
<circle cx="645.2" cy="599.87" r="1.75" fill="#fff" stroke="#1a1a1a" stroke-width="0.75"/>
<circle cx="645.2" cy="603.88" r="1.75" fill="#fff" stroke="#1a1a1a" stroke-width="0.75"/>
<circle cx="642.5" cy="604.12" r="1.75" fill="#fff" stroke="#1a1a1a" stroke-width="0.75"/>
<circle cx="647.9" cy="604.36" r="1.75" fill="#fff" stroke="#1a1a1a" stroke-width="0.75"/>
<circle cx="645.2" cy="610.31" r="1.75" fill="#fff" stroke="#1a1a1a" stroke-width="0.75"/>
<circle cx="647.9" cy="611.01" r="1.75" fill="#fff" stroke="#1a1a1a" stroke-width="0.75"/>
<circle cx="642.8" cy="611.7" r="1.75" fill="#fff" stroke="#1a1a1a" stroke-width="0.75"/>
<circle cx="650.3" cy="612.4" r="1.75" fill="#fff" stroke="#1a1a1a" stroke-width="0.75"/>
<circle cx="645.2" cy="613.09" r="1.75" fill="#fff" stroke="#1a1a1a" stroke-width="0.75"/>
<circle cx="647.9" cy="613.79" r="1.75" fill="#fff" stroke="#1a1a1a" stroke-width="0.75"/>
<circle cx="642.8" cy="614.48" r="1.75" fill="#fff" stroke="#1a1a1a" stroke-width="0.75"/>
<circle cx="650.3" cy="615.18" r="1.75" fill="#fff" stroke="#1a1a1a" stroke-width="0.75"/>
<circle cx="645.2" cy="615.87" r="1.75" fill="#fff" stroke="#1a1a1a" stroke-width="0.75"/>
<circle cx="647.9" cy="616.57" r="1.75" fill="#fff" stroke="#1a1a1a" stroke-width="0.75"/>
<circle cx="642.8" cy="617.26" r="1.75" fill="#fff" stroke="#1a1a1a" stroke-width="0.75"/>
<circle cx="650.3" cy="617.96" r="1.75" fill="#fff" stroke="#1a1a1a" stroke-width="0.75"/>
<circle cx="645.2" cy="618.65" r="1.75" fill="#fff" stroke="#1a1a1a" stroke-width="0.75"/>
<circle cx="647.9" cy="619.34" r="1.75" fill="#fff" stroke="#1a1a1a" stroke-width="0.75"/>
<circle cx="642.8" cy="620.04" r="1.75" fill="#fff" stroke="#1a1a1a" stroke-width="0.75"/>
<circle cx="650.3" cy="620.73" r="1.75" fill="#fff" stroke="#1a1a1a" stroke-width="0.75"/>
<circle cx="645.2" cy="621.43" r="1.75" fill="#fff" stroke="#1a1a1a" stroke-width="0.75"/>
<circle cx="647.9" cy="622.12" r="1.75" fill="#fff" stroke="#1a1a1a" stroke-width="0.75"/>
<circle cx="642.8" cy="622.82" r="1.75" fill="#fff" stroke="#1a1a1a" stroke-width="0.75"/>
<circle cx="650.3" cy="623.51" r="1.75" fill="#fff" stroke="#1a1a1a" stroke-width="0.75"/>
<circle cx="645.2" cy="624.21" r="1.75" fill="#fff" stroke="#1a1a1a" stroke-width="0.75"/>
<circle cx="647.9" cy="624.9" r="1.75" fill="#fff" stroke="#1a1a1a" stroke-width="0.75"/>
<circle cx="642.8" cy="625.6" r="1.75" fill="#fff" stroke="#1a1a1a" stroke-width="0.75"/>
<circle cx="650.3" cy="626.29" r="1.75" fill="#fff" stroke="#1a1a1a" stroke-width="0.75"/>
<circle cx="645.2" cy="626.99" r="1.75" fill="#fff" stroke="#1a1a1a" stroke-width="0.75"/>
<circle cx="647.9" cy="627.68" r="1.75" fill="#fff" stroke="#1a1a1a" stroke-width="0.75"/>
<circle cx="645.2" cy="631.57" r="1.75" fill="#fff" stroke="#1a1a1a" stroke-width="0.75"/>
<circle cx="647.6" cy="633.04" r="1.75" fill="#fff" stroke="#1a1a1a" stroke-width="0.75"/>
<circle cx="643.1" cy="633.34" r="1.75" fill="#fff" stroke="#1a1a1a" stroke-width="0.75"/>
<circle cx="640.4" cy="633.5" r="1.75" fill="#fff" stroke="#1a1a1a" stroke-width="0.75"/>
<circle cx="650.3" cy="633.97" r="1.75" fill="#fff" stroke="#1a1a1a" stroke-width="0.75"/>
<circle cx="637.7" cy="634.43" r="1.75" fill="#fff" stroke="#1a1a1a" stroke-width="0.75"/>
<circle cx="645.5" cy="634.89" r="1.75" fill="#fff" stroke="#1a1a1a" stroke-width="0.75"/>
<circle cx="652.7" cy="635.35" r="1.75" fill="#fff" stroke="#1a1a1a" stroke-width="0.75"/>
<circle cx="648.2" cy="635.82" r="1.75" fill="#fff" stroke="#1a1a1a" stroke-width="0.75"/>
<circle cx="643.1" cy="636.28" r="1.75" fill="#fff" stroke="#1a1a1a" stroke-width="0.75"/>
<circle cx="640.4" cy="636.74" r="1.75" fill="#fff" stroke="#1a1a1a" stroke-width="0.75"/>
<circle cx="650.6" cy="637.2" r="1.75" fill="#fff" stroke="#1a1a1a" stroke-width="0.75"/>
<circle cx="645.5" cy="637.67" r="1.75" fill="#fff" stroke="#1a1a1a" stroke-width="0.75"/>
<circle cx="638" cy="638.13" r="1.75" fill="#fff" stroke="#1a1a1a" stroke-width="0.75"/>
<circle cx="648.2" cy="638.59" r="1.75" fill="#fff" stroke="#1a1a1a" stroke-width="0.75"/>
<circle cx="643.1" cy="639.05" r="1.75" fill="#fff" stroke="#1a1a1a" stroke-width="0.75"/>
<circle cx="640.4" cy="639.52" r="1.75" fill="#fff" stroke="#1a1a1a" stroke-width="0.75"/>
<circle cx="650.6" cy="639.98" r="1.75" fill="#fff" stroke="#1a1a1a" stroke-width="0.75"/>
<circle cx="645.5" cy="640.44" r="1.75" fill="#fff" stroke="#1a1a1a" stroke-width="0.75"/>
<circle cx="638" cy="640.9" r="1.75" fill="#fff" stroke="#1a1a1a" stroke-width="0.75"/>
<circle cx="648.2" cy="641.37" r="1.75" fill="#fff" stroke="#1a1a1a" stroke-width="0.75"/>
<circle cx="643.1" cy="641.83" r="1.75" fill="#fff" stroke="#1a1a1a" stroke-width="0.75"/>
<circle cx="640.4" cy="642.29" r="1.75" fill="#fff" stroke="#1a1a1a" stroke-width="0.75"/>
<circle cx="650.6" cy="642.75" r="1.75" fill="#fff" stroke="#1a1a1a" stroke-width="0.75"/>
<circle cx="645.5" cy="643.22" r="1.75" fill="#fff" stroke="#1a1a1a" stroke-width="0.75"/>
<circle cx="638" cy="643.68" r="1.75" fill="#fff" stroke="#1a1a1a" stroke-width="0.75"/>
<circle cx="648.2" cy="644.14" r="1.75" fill="#fff" stroke="#1a1a1a" stroke-width="0.75"/>
<circle cx="643.1" cy="644.6" r="1.75" fill="#fff" stroke="#1a1a1a" stroke-width="0.75"/>
<circle cx="640.4" cy="645.07" r="1.75" fill="#fff" stroke="#1a1a1a" stroke-width="0.75"/>
<circle cx="650.6" cy="645.53" r="1.75" fill="#fff" stroke="#1a1a1a" stroke-width="0.75"/>
<circle cx="645.5" cy="645.99" r="1.75" fill="#fff" stroke="#1a1a1a" stroke-width="0.75"/>
<circle cx="638" cy="646.45" r="1.75" fill="#fff" stroke="#1a1a1a" stroke-width="0.75"/>
<circle cx="648.2" cy="646.92" r="1.75" fill="#fff" stroke="#1a1a1a" stroke-width="0.75"/>
<circle cx="643.1" cy="647.38" r="1.75" fill="#fff" stroke="#1a1a1a" stroke-width="0.75"/>
<circle cx="640.4" cy="647.84" r="1.75" fill="#fff" stroke="#1a1a1a" stroke-width="0.75"/>
<circle cx="650.6" cy="648.3" r="1.75" fill="#fff" stroke="#1a1a1a" stroke-width="0.75"/>
<circle cx="645.5" cy="648.76" r="1.75" fill="#fff" stroke="#1a1a1a" stroke-width="0.75"/>
<circle cx="638" cy="649.23" r="1.75" fill="#fff" stroke="#1a1a1a" stroke-width="0.75"/>
<circle cx="645.2" cy="655.48" r="1.75" fill="#fff" stroke="#1a1a1a" stroke-width="0.75"/>
<circle cx="647.3" cy="657.25" r="1.75" fill="#fff" stroke="#1a1a1a" stroke-width="0.75"/>
<circle cx="645.2" cy="659.02" r="1.75" fill="#fff" stroke="#1a1a1a" stroke-width="0.75"/>
<circle cx="645.2" cy="665.57" r="1.75" fill="#fff" stroke="#1a1a1a" stroke-width="0.75"/>
</svg>
</body></html>
